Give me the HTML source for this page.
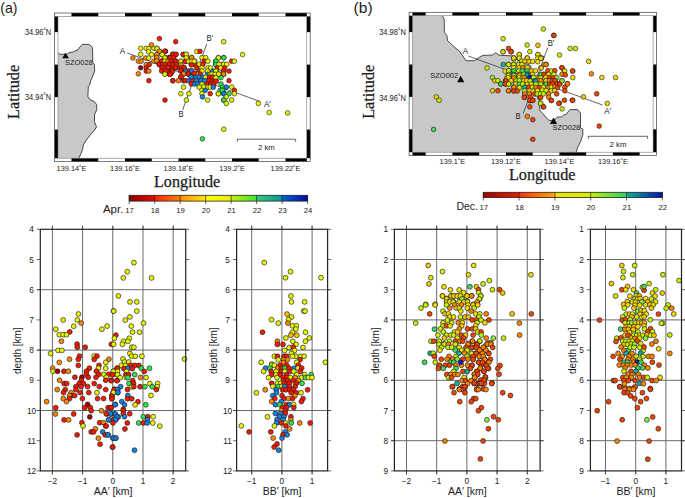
<!DOCTYPE html>
<html><head><meta charset="utf-8"><style>
html,body{margin:0;padding:0;background:#fff;}
body{width:685px;height:498px;overflow:hidden;}
svg{display:block;}
</style></head><body>
<svg width="685" height="498" viewBox="0 0 685 498">
<rect x="58.00" y="16.40" width="248.80" height="141.80" fill="#fff" stroke="none" stroke-width="0"/><polygon points="57.9,52.6 59.4,54.0 61.2,54.5 63.0,54.3 67.3,54.0 69.0,52.8 73.3,51.9 78.1,49.5 79.9,47.0 82.3,44.4 88.9,44.4 92.3,47.0 92.6,50.7 92.8,62.7 94.4,64.5 94.7,71.1 92.8,76.0 90.7,80.8 89.5,85.6 88.3,86.8 87.9,96.8 90.1,99.8 93.9,101.3 96.5,104.3 96.9,109.6 94.7,114.1 94.4,121.6 96.5,126.9 94.7,129.9 90.1,135.2 85.6,141.2 83.4,145.0 82.6,149.5 81.1,153.3 78.8,158.2 57.9,158.2" fill="#c8c8c8" stroke="none"/><polyline points="57.9,52.6 59.4,54.0 61.2,54.5 63.0,54.3 67.3,54.0 69.0,52.8 73.3,51.9 78.1,49.5 79.9,47.0 82.3,44.4 88.9,44.4 92.3,47.0 92.6,50.7 92.8,62.7 94.4,64.5 94.7,71.1 92.8,76.0 90.7,80.8 89.5,85.6 88.3,86.8 87.9,96.8 90.1,99.8 93.9,101.3 96.5,104.3 96.9,109.6 94.7,114.1 94.4,121.6 96.5,126.9 94.7,129.9 90.1,135.2 85.6,141.2 83.4,145.0 82.6,149.5 81.1,153.3 78.8,158.2" fill="none" stroke="#222" stroke-width="0.8"/><rect x="412.50" y="15.70" width="240.60" height="136.50" fill="#fff" stroke="none" stroke-width="0"/><polygon points="442.4,15.7 444.2,19.2 444.4,32.5 446.9,35.5 447.5,40.7 451.0,43.7 455.1,47.8 459.2,50.9 462.2,55.0 465.8,60.7 474.4,60.7 478.5,57.7 483.0,55.4 492.9,55.0 495.7,52.7 498.8,55.0 502.0,55.4 512.8,55.9 516.0,59.0 522.0,62.5 524.6,63.7 527.5,64.3 530.4,65.4 531.6,69.5 533.5,76.0 536.0,86.0 538.8,97.0 539.5,103.0 540.0,110.5 548.6,120.2 552.0,120.5 556.1,118.6 557.1,117.2 561.7,116.9 563.7,114.9 566.3,114.3 569.0,110.7 570.0,109.6 577.6,109.6 580.5,113.0 580.5,127.8 582.8,129.1 582.8,135.0 580.5,141.7 577.6,147.6 576.1,152.3 412.5,152.3 412.5,15.7" fill="#c8c8c8" stroke="none"/><polyline points="442.4,15.7 444.2,19.2 444.4,32.5 446.9,35.5 447.5,40.7 451.0,43.7 455.1,47.8 459.2,50.9 462.2,55.0 465.8,60.7 474.4,60.7 478.5,57.7 483.0,55.4 492.9,55.0 495.7,52.7 498.8,55.0 502.0,55.4 512.8,55.9 516.0,59.0 522.0,62.5 524.6,63.7 527.5,64.3 530.4,65.4 531.6,69.5 533.5,76.0 536.0,86.0 538.8,97.0 539.5,103.0 540.0,110.5 548.6,120.2 552.0,120.5 556.1,118.6 557.1,117.2 561.7,116.9 563.7,114.9 566.3,114.3 569.0,110.7 570.0,109.6 577.6,109.6 580.5,113.0 580.5,127.8 582.8,129.1 582.8,135.0 580.5,141.7 577.6,147.6 576.1,152.3" fill="none" stroke="#222" stroke-width="0.8"/><line x1="127.20" y1="53.00" x2="260.20" y2="101.60" stroke="#222" stroke-width="0.7"/><line x1="206.70" y1="44.00" x2="182.60" y2="110.00" stroke="#222" stroke-width="0.7"/><circle cx="159.4" cy="38.6" r="2.35" fill="#f81a00" stroke="#1a1a1a" stroke-width="0.6"/><circle cx="151.4" cy="44.9" r="2.35" fill="#ff8800" stroke="#1a1a1a" stroke-width="0.6"/><circle cx="140.7" cy="48.3" r="2.35" fill="#e6f400" stroke="#1a1a1a" stroke-width="0.6"/><circle cx="146.2" cy="48.3" r="2.35" fill="#e6f400" stroke="#1a1a1a" stroke-width="0.6"/><circle cx="148.9" cy="48.5" r="2.35" fill="#e6f400" stroke="#1a1a1a" stroke-width="0.6"/><circle cx="154.0" cy="48.3" r="2.35" fill="#e6f400" stroke="#1a1a1a" stroke-width="0.6"/><circle cx="157.0" cy="48.3" r="2.35" fill="#e6f400" stroke="#1a1a1a" stroke-width="0.6"/><circle cx="148.6" cy="51.7" r="2.35" fill="#e6f400" stroke="#1a1a1a" stroke-width="0.6"/><circle cx="159.5" cy="51.5" r="2.35" fill="#ff8800" stroke="#1a1a1a" stroke-width="0.6"/><circle cx="165.0" cy="51.4" r="2.35" fill="#f81a00" stroke="#1a1a1a" stroke-width="0.6"/><circle cx="140.7" cy="54.4" r="2.35" fill="#e6f400" stroke="#1a1a1a" stroke-width="0.6"/><circle cx="151.6" cy="54.6" r="2.35" fill="#e6f400" stroke="#1a1a1a" stroke-width="0.6"/><circle cx="156.8" cy="54.6" r="2.35" fill="#ff8800" stroke="#1a1a1a" stroke-width="0.6"/><circle cx="162.0" cy="54.6" r="2.35" fill="#e6f400" stroke="#1a1a1a" stroke-width="0.6"/><circle cx="172.8" cy="54.4" r="2.35" fill="#f81a00" stroke="#1a1a1a" stroke-width="0.6"/><circle cx="132.9" cy="58.0" r="2.35" fill="#ff8800" stroke="#1a1a1a" stroke-width="0.6"/><circle cx="145.7" cy="58.0" r="2.35" fill="#ff8800" stroke="#1a1a1a" stroke-width="0.6"/><circle cx="148.7" cy="58.0" r="2.35" fill="#e6f400" stroke="#1a1a1a" stroke-width="0.6"/><circle cx="156.8" cy="57.6" r="2.35" fill="#ff8800" stroke="#1a1a1a" stroke-width="0.6"/><circle cx="165.0" cy="58.0" r="2.35" fill="#e6f400" stroke="#1a1a1a" stroke-width="0.6"/><circle cx="169.2" cy="57.6" r="2.35" fill="#f81a00" stroke="#1a1a1a" stroke-width="0.6"/><circle cx="172.8" cy="57.6" r="2.35" fill="#f81a00" stroke="#1a1a1a" stroke-width="0.6"/><circle cx="138.3" cy="61.2" r="2.35" fill="#ff8800" stroke="#1a1a1a" stroke-width="0.6"/><circle cx="141.2" cy="61.2" r="2.35" fill="#ff8800" stroke="#1a1a1a" stroke-width="0.6"/><circle cx="153.8" cy="61.2" r="2.35" fill="#ff8800" stroke="#1a1a1a" stroke-width="0.6"/><circle cx="157.0" cy="61.2" r="2.35" fill="#ff8800" stroke="#1a1a1a" stroke-width="0.6"/><circle cx="162.0" cy="61.2" r="2.35" fill="#f81a00" stroke="#1a1a1a" stroke-width="0.6"/><circle cx="165.0" cy="61.2" r="2.35" fill="#e6f400" stroke="#1a1a1a" stroke-width="0.6"/><circle cx="167.8" cy="61.2" r="2.35" fill="#ff8800" stroke="#1a1a1a" stroke-width="0.6"/><circle cx="171.0" cy="61.2" r="2.35" fill="#f81a00" stroke="#1a1a1a" stroke-width="0.6"/><circle cx="146.2" cy="64.6" r="2.35" fill="#ff8800" stroke="#1a1a1a" stroke-width="0.6"/><circle cx="149.3" cy="64.6" r="2.35" fill="#f81a00" stroke="#1a1a1a" stroke-width="0.6"/><circle cx="159.3" cy="64.6" r="2.35" fill="#f81a00" stroke="#1a1a1a" stroke-width="0.6"/><circle cx="162.9" cy="64.6" r="2.35" fill="#f81a00" stroke="#1a1a1a" stroke-width="0.6"/><circle cx="167.4" cy="64.6" r="2.35" fill="#f81a00" stroke="#1a1a1a" stroke-width="0.6"/><circle cx="171.0" cy="64.6" r="2.35" fill="#f81a00" stroke="#1a1a1a" stroke-width="0.6"/><circle cx="140.7" cy="67.8" r="2.35" fill="#a00000" stroke="#1a1a1a" stroke-width="0.6"/><circle cx="146.2" cy="67.8" r="2.35" fill="#f81a00" stroke="#1a1a1a" stroke-width="0.6"/><circle cx="162.0" cy="67.8" r="2.35" fill="#f81a00" stroke="#1a1a1a" stroke-width="0.6"/><circle cx="165.6" cy="67.8" r="2.35" fill="#f81a00" stroke="#1a1a1a" stroke-width="0.6"/><circle cx="171.0" cy="67.8" r="2.35" fill="#f81a00" stroke="#1a1a1a" stroke-width="0.6"/><circle cx="146.2" cy="71.1" r="2.35" fill="#f81a00" stroke="#1a1a1a" stroke-width="0.6"/><circle cx="148.9" cy="71.1" r="2.35" fill="#ff8800" stroke="#1a1a1a" stroke-width="0.6"/><circle cx="162.9" cy="71.1" r="2.35" fill="#f81a00" stroke="#1a1a1a" stroke-width="0.6"/><circle cx="169.2" cy="71.1" r="2.35" fill="#f81a00" stroke="#1a1a1a" stroke-width="0.6"/><circle cx="138.3" cy="73.8" r="2.35" fill="#ff8800" stroke="#1a1a1a" stroke-width="0.6"/><circle cx="165.1" cy="73.8" r="2.35" fill="#e6f400" stroke="#1a1a1a" stroke-width="0.6"/><circle cx="171.0" cy="73.8" r="2.35" fill="#f81a00" stroke="#1a1a1a" stroke-width="0.6"/><circle cx="175.7" cy="41.7" r="2.35" fill="#f81a00" stroke="#1a1a1a" stroke-width="0.6"/><circle cx="165.5" cy="51.2" r="2.35" fill="#f81a00" stroke="#1a1a1a" stroke-width="0.6"/><circle cx="196.8" cy="51.4" r="2.35" fill="#e6f400" stroke="#1a1a1a" stroke-width="0.6"/><circle cx="200.0" cy="51.4" r="2.35" fill="#f81a00" stroke="#1a1a1a" stroke-width="0.6"/><circle cx="223.7" cy="41.7" r="2.35" fill="#e6f400" stroke="#1a1a1a" stroke-width="0.6"/><circle cx="173.0" cy="54.4" r="2.35" fill="#f81a00" stroke="#1a1a1a" stroke-width="0.6"/><circle cx="175.8" cy="54.4" r="2.35" fill="#f81a00" stroke="#1a1a1a" stroke-width="0.6"/><circle cx="183.5" cy="54.4" r="2.35" fill="#f81a00" stroke="#1a1a1a" stroke-width="0.6"/><circle cx="186.4" cy="54.4" r="2.35" fill="#e6f400" stroke="#1a1a1a" stroke-width="0.6"/><circle cx="165.5" cy="57.6" r="2.35" fill="#e6f400" stroke="#1a1a1a" stroke-width="0.6"/><circle cx="169.5" cy="57.6" r="2.35" fill="#f81a00" stroke="#1a1a1a" stroke-width="0.6"/><circle cx="173.6" cy="57.6" r="2.35" fill="#f81a00" stroke="#1a1a1a" stroke-width="0.6"/><circle cx="186.4" cy="57.6" r="2.35" fill="#e6f400" stroke="#1a1a1a" stroke-width="0.6"/><circle cx="191.6" cy="57.6" r="2.35" fill="#ff8800" stroke="#1a1a1a" stroke-width="0.6"/><circle cx="202.0" cy="57.6" r="2.35" fill="#e6f400" stroke="#1a1a1a" stroke-width="0.6"/><circle cx="205.6" cy="57.6" r="2.35" fill="#e6f400" stroke="#1a1a1a" stroke-width="0.6"/><circle cx="218.3" cy="57.6" r="2.35" fill="#e6f400" stroke="#1a1a1a" stroke-width="0.6"/><circle cx="223.7" cy="57.6" r="2.35" fill="#2ee64c" stroke="#1a1a1a" stroke-width="0.6"/><circle cx="167.7" cy="61.2" r="2.35" fill="#ff8800" stroke="#1a1a1a" stroke-width="0.6"/><circle cx="171.3" cy="61.2" r="2.35" fill="#f81a00" stroke="#1a1a1a" stroke-width="0.6"/><circle cx="175.7" cy="61.2" r="2.35" fill="#f81a00" stroke="#1a1a1a" stroke-width="0.6"/><circle cx="180.8" cy="61.2" r="2.35" fill="#e6f400" stroke="#1a1a1a" stroke-width="0.6"/><circle cx="185.8" cy="61.2" r="2.35" fill="#f81a00" stroke="#1a1a1a" stroke-width="0.6"/><circle cx="188.9" cy="61.2" r="2.35" fill="#e6f400" stroke="#1a1a1a" stroke-width="0.6"/><circle cx="192.1" cy="61.2" r="2.35" fill="#e6f400" stroke="#1a1a1a" stroke-width="0.6"/><circle cx="194.8" cy="61.2" r="2.35" fill="#e6f400" stroke="#1a1a1a" stroke-width="0.6"/><circle cx="204.3" cy="61.2" r="2.35" fill="#f81a00" stroke="#1a1a1a" stroke-width="0.6"/><circle cx="207.9" cy="61.2" r="2.35" fill="#e6f400" stroke="#1a1a1a" stroke-width="0.6"/><circle cx="215.6" cy="61.2" r="2.35" fill="#2ee64c" stroke="#1a1a1a" stroke-width="0.6"/><circle cx="166.8" cy="64.3" r="2.35" fill="#f81a00" stroke="#1a1a1a" stroke-width="0.6"/><circle cx="170.4" cy="64.3" r="2.35" fill="#f81a00" stroke="#1a1a1a" stroke-width="0.6"/><circle cx="174.0" cy="64.3" r="2.35" fill="#f81a00" stroke="#1a1a1a" stroke-width="0.6"/><circle cx="180.8" cy="64.6" r="2.35" fill="#ff8800" stroke="#1a1a1a" stroke-width="0.6"/><circle cx="191.2" cy="64.6" r="2.35" fill="#f81a00" stroke="#1a1a1a" stroke-width="0.6"/><circle cx="194.8" cy="64.3" r="2.35" fill="#f81a00" stroke="#1a1a1a" stroke-width="0.6"/><circle cx="199.3" cy="64.3" r="2.35" fill="#e6f400" stroke="#1a1a1a" stroke-width="0.6"/><circle cx="202.9" cy="64.3" r="2.35" fill="#f81a00" stroke="#1a1a1a" stroke-width="0.6"/><circle cx="215.6" cy="64.3" r="2.35" fill="#2ee64c" stroke="#1a1a1a" stroke-width="0.6"/><circle cx="219.2" cy="64.3" r="2.35" fill="#e6f400" stroke="#1a1a1a" stroke-width="0.6"/><circle cx="222.8" cy="64.3" r="2.35" fill="#e6f400" stroke="#1a1a1a" stroke-width="0.6"/><circle cx="166.8" cy="67.9" r="2.35" fill="#f81a00" stroke="#1a1a1a" stroke-width="0.6"/><circle cx="172.2" cy="67.9" r="2.35" fill="#f81a00" stroke="#1a1a1a" stroke-width="0.6"/><circle cx="175.7" cy="67.9" r="2.35" fill="#f81a00" stroke="#1a1a1a" stroke-width="0.6"/><circle cx="180.8" cy="67.9" r="2.35" fill="#f81a00" stroke="#1a1a1a" stroke-width="0.6"/><circle cx="184.0" cy="67.9" r="2.35" fill="#f81a00" stroke="#1a1a1a" stroke-width="0.6"/><circle cx="196.6" cy="67.9" r="2.35" fill="#f81a00" stroke="#1a1a1a" stroke-width="0.6"/><circle cx="202.0" cy="67.9" r="2.35" fill="#e6f400" stroke="#1a1a1a" stroke-width="0.6"/><circle cx="207.9" cy="67.9" r="2.35" fill="#e6f400" stroke="#1a1a1a" stroke-width="0.6"/><circle cx="210.6" cy="67.9" r="2.35" fill="#e6f400" stroke="#1a1a1a" stroke-width="0.6"/><circle cx="217.4" cy="67.9" r="2.35" fill="#f81a00" stroke="#1a1a1a" stroke-width="0.6"/><circle cx="221.0" cy="67.9" r="2.35" fill="#e6f400" stroke="#1a1a1a" stroke-width="0.6"/><circle cx="172.2" cy="71.1" r="2.35" fill="#f81a00" stroke="#1a1a1a" stroke-width="0.6"/><circle cx="180.8" cy="71.1" r="2.35" fill="#f81a00" stroke="#1a1a1a" stroke-width="0.6"/><circle cx="186.2" cy="71.1" r="2.35" fill="#1482e0" stroke="#1a1a1a" stroke-width="0.6"/><circle cx="191.6" cy="71.1" r="2.35" fill="#1482e0" stroke="#1a1a1a" stroke-width="0.6"/><circle cx="199.3" cy="71.1" r="2.35" fill="#f81a00" stroke="#1a1a1a" stroke-width="0.6"/><circle cx="202.0" cy="71.1" r="2.35" fill="#e6f400" stroke="#1a1a1a" stroke-width="0.6"/><circle cx="207.5" cy="71.1" r="2.35" fill="#e6f400" stroke="#1a1a1a" stroke-width="0.6"/><circle cx="212.9" cy="71.1" r="2.35" fill="#1482e0" stroke="#1a1a1a" stroke-width="0.6"/><circle cx="216.0" cy="71.1" r="2.35" fill="#e6f400" stroke="#1a1a1a" stroke-width="0.6"/><circle cx="223.7" cy="71.1" r="2.35" fill="#f81a00" stroke="#1a1a1a" stroke-width="0.6"/><circle cx="169.5" cy="74.3" r="2.35" fill="#f81a00" stroke="#1a1a1a" stroke-width="0.6"/><circle cx="183.5" cy="74.3" r="2.35" fill="#ff8800" stroke="#1a1a1a" stroke-width="0.6"/><circle cx="188.5" cy="74.3" r="2.35" fill="#f81a00" stroke="#1a1a1a" stroke-width="0.6"/><circle cx="193.9" cy="74.3" r="2.35" fill="#f81a00" stroke="#1a1a1a" stroke-width="0.6"/><circle cx="197.5" cy="74.3" r="2.35" fill="#e6f400" stroke="#1a1a1a" stroke-width="0.6"/><circle cx="207.5" cy="74.3" r="2.35" fill="#1482e0" stroke="#1a1a1a" stroke-width="0.6"/><circle cx="210.2" cy="74.3" r="2.35" fill="#e6f400" stroke="#1a1a1a" stroke-width="0.6"/><circle cx="223.7" cy="74.3" r="2.35" fill="#ff8800" stroke="#1a1a1a" stroke-width="0.6"/><circle cx="242.6" cy="54.6" r="2.35" fill="#e6f400" stroke="#1a1a1a" stroke-width="0.6"/><circle cx="218.4" cy="57.8" r="2.35" fill="#e6f400" stroke="#1a1a1a" stroke-width="0.6"/><circle cx="223.8" cy="57.8" r="2.35" fill="#2ee64c" stroke="#1a1a1a" stroke-width="0.6"/><circle cx="215.9" cy="61.2" r="2.35" fill="#2ee64c" stroke="#1a1a1a" stroke-width="0.6"/><circle cx="231.7" cy="61.2" r="2.35" fill="#f81a00" stroke="#1a1a1a" stroke-width="0.6"/><circle cx="234.4" cy="61.2" r="2.35" fill="#e6f400" stroke="#1a1a1a" stroke-width="0.6"/><circle cx="215.9" cy="64.3" r="2.35" fill="#2ee64c" stroke="#1a1a1a" stroke-width="0.6"/><circle cx="219.1" cy="64.3" r="2.35" fill="#e6f400" stroke="#1a1a1a" stroke-width="0.6"/><circle cx="223.6" cy="64.3" r="2.35" fill="#e6f400" stroke="#1a1a1a" stroke-width="0.6"/><circle cx="226.7" cy="64.3" r="2.35" fill="#e6f400" stroke="#1a1a1a" stroke-width="0.6"/><circle cx="217.7" cy="67.9" r="2.35" fill="#f81a00" stroke="#1a1a1a" stroke-width="0.6"/><circle cx="220.9" cy="67.9" r="2.35" fill="#e6f400" stroke="#1a1a1a" stroke-width="0.6"/><circle cx="224.5" cy="67.9" r="2.35" fill="#f81a00" stroke="#1a1a1a" stroke-width="0.6"/><circle cx="229.0" cy="71.1" r="2.35" fill="#f81a00" stroke="#1a1a1a" stroke-width="0.6"/><circle cx="223.6" cy="71.1" r="2.35" fill="#f81a00" stroke="#1a1a1a" stroke-width="0.6"/><circle cx="215.9" cy="71.1" r="2.35" fill="#e6f400" stroke="#1a1a1a" stroke-width="0.6"/><circle cx="218.6" cy="73.8" r="2.35" fill="#e6f400" stroke="#1a1a1a" stroke-width="0.6"/><circle cx="223.6" cy="74.1" r="2.35" fill="#ff8800" stroke="#1a1a1a" stroke-width="0.6"/><circle cx="148.9" cy="80.7" r="2.35" fill="#f81a00" stroke="#1a1a1a" stroke-width="0.6"/><circle cx="172.8" cy="80.7" r="2.35" fill="#f81a00" stroke="#1a1a1a" stroke-width="0.6"/><circle cx="165.0" cy="100.1" r="2.35" fill="#f81a00" stroke="#1a1a1a" stroke-width="0.6"/><circle cx="212.0" cy="74.1" r="2.35" fill="#e6f400" stroke="#1a1a1a" stroke-width="0.6"/><circle cx="215.1" cy="74.4" r="2.35" fill="#e6f400" stroke="#1a1a1a" stroke-width="0.6"/><circle cx="218.7" cy="74.1" r="2.35" fill="#e6f400" stroke="#1a1a1a" stroke-width="0.6"/><circle cx="200.2" cy="74.1" r="2.35" fill="#f81a00" stroke="#1a1a1a" stroke-width="0.6"/><circle cx="180.8" cy="77.2" r="2.35" fill="#f81a00" stroke="#1a1a1a" stroke-width="0.6"/><circle cx="192.1" cy="77.2" r="2.35" fill="#1482e0" stroke="#1a1a1a" stroke-width="0.6"/><circle cx="195.7" cy="77.2" r="2.35" fill="#1482e0" stroke="#1a1a1a" stroke-width="0.6"/><circle cx="199.3" cy="77.2" r="2.35" fill="#1482e0" stroke="#1a1a1a" stroke-width="0.6"/><circle cx="202.9" cy="77.2" r="2.35" fill="#1482e0" stroke="#1a1a1a" stroke-width="0.6"/><circle cx="205.6" cy="77.2" r="2.35" fill="#e6f400" stroke="#1a1a1a" stroke-width="0.6"/><circle cx="209.3" cy="77.2" r="2.35" fill="#f81a00" stroke="#1a1a1a" stroke-width="0.6"/><circle cx="212.4" cy="77.2" r="2.35" fill="#f81a00" stroke="#1a1a1a" stroke-width="0.6"/><circle cx="215.6" cy="77.6" r="2.35" fill="#e6f400" stroke="#1a1a1a" stroke-width="0.6"/><circle cx="221.0" cy="77.6" r="2.35" fill="#2ee64c" stroke="#1a1a1a" stroke-width="0.6"/><circle cx="172.9" cy="80.7" r="2.35" fill="#f81a00" stroke="#1a1a1a" stroke-width="0.6"/><circle cx="178.4" cy="80.7" r="2.35" fill="#ff8800" stroke="#1a1a1a" stroke-width="0.6"/><circle cx="183.5" cy="80.7" r="2.35" fill="#f81a00" stroke="#1a1a1a" stroke-width="0.6"/><circle cx="185.3" cy="80.7" r="2.35" fill="#f81a00" stroke="#1a1a1a" stroke-width="0.6"/><circle cx="188.9" cy="80.7" r="2.35" fill="#1482e0" stroke="#1a1a1a" stroke-width="0.6"/><circle cx="192.1" cy="80.7" r="2.35" fill="#f81a00" stroke="#1a1a1a" stroke-width="0.6"/><circle cx="196.6" cy="80.7" r="2.35" fill="#1482e0" stroke="#1a1a1a" stroke-width="0.6"/><circle cx="201.1" cy="80.7" r="2.35" fill="#1482e0" stroke="#1a1a1a" stroke-width="0.6"/><circle cx="204.7" cy="80.7" r="2.35" fill="#1482e0" stroke="#1a1a1a" stroke-width="0.6"/><circle cx="209.3" cy="80.7" r="2.35" fill="#f81a00" stroke="#1a1a1a" stroke-width="0.6"/><circle cx="212.9" cy="80.7" r="2.35" fill="#f81a00" stroke="#1a1a1a" stroke-width="0.6"/><circle cx="216.0" cy="80.7" r="2.35" fill="#f81a00" stroke="#1a1a1a" stroke-width="0.6"/><circle cx="191.2" cy="84.0" r="2.35" fill="#f81a00" stroke="#1a1a1a" stroke-width="0.6"/><circle cx="194.4" cy="84.0" r="2.35" fill="#1482e0" stroke="#1a1a1a" stroke-width="0.6"/><circle cx="197.5" cy="84.0" r="2.35" fill="#1482e0" stroke="#1a1a1a" stroke-width="0.6"/><circle cx="202.0" cy="84.0" r="2.35" fill="#e6f400" stroke="#1a1a1a" stroke-width="0.6"/><circle cx="207.0" cy="84.0" r="2.35" fill="#f81a00" stroke="#1a1a1a" stroke-width="0.6"/><circle cx="210.6" cy="84.0" r="2.35" fill="#f81a00" stroke="#1a1a1a" stroke-width="0.6"/><circle cx="213.8" cy="84.0" r="2.35" fill="#f81a00" stroke="#1a1a1a" stroke-width="0.6"/><circle cx="221.0" cy="84.0" r="2.35" fill="#2ee64c" stroke="#1a1a1a" stroke-width="0.6"/><circle cx="183.5" cy="87.2" r="2.35" fill="#e6f400" stroke="#1a1a1a" stroke-width="0.6"/><circle cx="199.3" cy="87.2" r="2.35" fill="#e6f400" stroke="#1a1a1a" stroke-width="0.6"/><circle cx="203.8" cy="86.8" r="2.35" fill="#e6f400" stroke="#1a1a1a" stroke-width="0.6"/><circle cx="207.9" cy="87.2" r="2.35" fill="#e6f400" stroke="#1a1a1a" stroke-width="0.6"/><circle cx="210.2" cy="87.2" r="2.35" fill="#e6f400" stroke="#1a1a1a" stroke-width="0.6"/><circle cx="213.3" cy="87.2" r="2.35" fill="#1482e0" stroke="#1a1a1a" stroke-width="0.6"/><circle cx="222.8" cy="87.2" r="2.35" fill="#2ee64c" stroke="#1a1a1a" stroke-width="0.6"/><circle cx="202.0" cy="90.3" r="2.35" fill="#e6f400" stroke="#1a1a1a" stroke-width="0.6"/><circle cx="205.2" cy="90.3" r="2.35" fill="#1482e0" stroke="#1a1a1a" stroke-width="0.6"/><circle cx="220.1" cy="90.3" r="2.35" fill="#2ee64c" stroke="#1a1a1a" stroke-width="0.6"/><circle cx="223.7" cy="90.3" r="2.35" fill="#2ee64c" stroke="#1a1a1a" stroke-width="0.6"/><circle cx="180.8" cy="93.7" r="2.35" fill="#e6f400" stroke="#1a1a1a" stroke-width="0.6"/><circle cx="188.9" cy="93.7" r="2.35" fill="#e6f400" stroke="#1a1a1a" stroke-width="0.6"/><circle cx="202.0" cy="93.7" r="2.35" fill="#e6f400" stroke="#1a1a1a" stroke-width="0.6"/><circle cx="210.2" cy="93.7" r="2.35" fill="#f81a00" stroke="#1a1a1a" stroke-width="0.6"/><circle cx="218.3" cy="93.7" r="2.35" fill="#e6f400" stroke="#1a1a1a" stroke-width="0.6"/><circle cx="223.7" cy="93.7" r="2.35" fill="#1482e0" stroke="#1a1a1a" stroke-width="0.6"/><circle cx="202.5" cy="96.9" r="2.35" fill="#1482e0" stroke="#1a1a1a" stroke-width="0.6"/><circle cx="186.4" cy="100.1" r="2.35" fill="#e6f400" stroke="#1a1a1a" stroke-width="0.6"/><circle cx="207.6" cy="100.1" r="2.35" fill="#e6f400" stroke="#1a1a1a" stroke-width="0.6"/><circle cx="223.7" cy="100.1" r="2.35" fill="#2ee64c" stroke="#1a1a1a" stroke-width="0.6"/><circle cx="215.9" cy="77.7" r="2.35" fill="#e6f400" stroke="#1a1a1a" stroke-width="0.6"/><circle cx="229.0" cy="80.7" r="2.35" fill="#f81a00" stroke="#1a1a1a" stroke-width="0.6"/><circle cx="216.1" cy="81.3" r="2.35" fill="#f81a00" stroke="#1a1a1a" stroke-width="0.6"/><circle cx="226.3" cy="87.0" r="2.35" fill="#1482e0" stroke="#1a1a1a" stroke-width="0.6"/><circle cx="231.7" cy="87.0" r="2.35" fill="#e6f400" stroke="#1a1a1a" stroke-width="0.6"/><circle cx="222.2" cy="90.3" r="2.35" fill="#2ee64c" stroke="#1a1a1a" stroke-width="0.6"/><circle cx="234.4" cy="90.3" r="2.35" fill="#f81a00" stroke="#1a1a1a" stroke-width="0.6"/><circle cx="218.4" cy="93.7" r="2.35" fill="#e6f400" stroke="#1a1a1a" stroke-width="0.6"/><circle cx="223.9" cy="93.7" r="2.35" fill="#1482e0" stroke="#1a1a1a" stroke-width="0.6"/><circle cx="229.0" cy="93.7" r="2.35" fill="#2ee64c" stroke="#1a1a1a" stroke-width="0.6"/><circle cx="234.4" cy="93.7" r="2.35" fill="#e6f400" stroke="#1a1a1a" stroke-width="0.6"/><circle cx="226.3" cy="96.9" r="2.35" fill="#e6f400" stroke="#1a1a1a" stroke-width="0.6"/><circle cx="223.9" cy="100.0" r="2.35" fill="#2ee64c" stroke="#1a1a1a" stroke-width="0.6"/><circle cx="231.7" cy="100.0" r="2.35" fill="#e6f400" stroke="#1a1a1a" stroke-width="0.6"/><circle cx="226.3" cy="103.4" r="2.35" fill="#e6f400" stroke="#1a1a1a" stroke-width="0.6"/><circle cx="258.4" cy="103.4" r="2.35" fill="#e6f400" stroke="#1a1a1a" stroke-width="0.6"/><circle cx="269.2" cy="112.5" r="2.35" fill="#e6f400" stroke="#1a1a1a" stroke-width="0.6"/><circle cx="287.7" cy="112.9" r="2.35" fill="#e6f400" stroke="#1a1a1a" stroke-width="0.6"/><circle cx="223.8" cy="129.2" r="2.35" fill="#e6f400" stroke="#1a1a1a" stroke-width="0.6"/><circle cx="202.4" cy="138.8" r="2.35" fill="#2ee64c" stroke="#1a1a1a" stroke-width="0.6"/><circle cx="157.1" cy="48.6" r="2.35" fill="#e6f400" stroke="#1a1a1a" stroke-width="0.6"/><circle cx="159.5" cy="51.3" r="2.35" fill="#ff8800" stroke="#1a1a1a" stroke-width="0.6"/><circle cx="164.9" cy="51.3" r="2.35" fill="#f81a00" stroke="#1a1a1a" stroke-width="0.6"/><circle cx="162.2" cy="54.6" r="2.35" fill="#e6f400" stroke="#1a1a1a" stroke-width="0.6"/><circle cx="156.8" cy="54.6" r="2.35" fill="#ff8800" stroke="#1a1a1a" stroke-width="0.6"/><circle cx="172.8" cy="54.3" r="2.35" fill="#f81a00" stroke="#1a1a1a" stroke-width="0.6"/><circle cx="176.1" cy="54.3" r="2.35" fill="#f81a00" stroke="#1a1a1a" stroke-width="0.6"/><circle cx="183.0" cy="54.6" r="2.35" fill="#f81a00" stroke="#1a1a1a" stroke-width="0.6"/><circle cx="186.3" cy="54.3" r="2.35" fill="#e6f400" stroke="#1a1a1a" stroke-width="0.6"/><circle cx="164.9" cy="57.9" r="2.35" fill="#e6f400" stroke="#1a1a1a" stroke-width="0.6"/><circle cx="170.1" cy="57.6" r="2.35" fill="#f81a00" stroke="#1a1a1a" stroke-width="0.6"/><circle cx="173.4" cy="57.6" r="2.35" fill="#f81a00" stroke="#1a1a1a" stroke-width="0.6"/><circle cx="156.8" cy="57.6" r="2.35" fill="#ff8800" stroke="#1a1a1a" stroke-width="0.6"/><circle cx="156.8" cy="60.7" r="2.35" fill="#ff8800" stroke="#1a1a1a" stroke-width="0.6"/><circle cx="186.3" cy="57.9" r="2.35" fill="#e6f400" stroke="#1a1a1a" stroke-width="0.6"/><circle cx="191.7" cy="57.6" r="2.35" fill="#ff8800" stroke="#1a1a1a" stroke-width="0.6"/><circle cx="161.6" cy="61.0" r="2.35" fill="#f81a00" stroke="#1a1a1a" stroke-width="0.6"/><circle cx="164.9" cy="61.3" r="2.35" fill="#e6f400" stroke="#1a1a1a" stroke-width="0.6"/><circle cx="168.0" cy="61.3" r="2.35" fill="#ff8800" stroke="#1a1a1a" stroke-width="0.6"/><circle cx="171.0" cy="61.0" r="2.35" fill="#f81a00" stroke="#1a1a1a" stroke-width="0.6"/><circle cx="175.5" cy="61.0" r="2.35" fill="#f81a00" stroke="#1a1a1a" stroke-width="0.6"/><circle cx="180.9" cy="61.3" r="2.35" fill="#e6f400" stroke="#1a1a1a" stroke-width="0.6"/><circle cx="185.4" cy="61.6" r="2.35" fill="#f81a00" stroke="#1a1a1a" stroke-width="0.6"/><circle cx="188.7" cy="61.3" r="2.35" fill="#e6f400" stroke="#1a1a1a" stroke-width="0.6"/><circle cx="191.7" cy="61.3" r="2.35" fill="#e6f400" stroke="#1a1a1a" stroke-width="0.6"/><circle cx="194.2" cy="61.3" r="2.35" fill="#e6f400" stroke="#1a1a1a" stroke-width="0.6"/><circle cx="159.2" cy="64.3" r="2.35" fill="#f81a00" stroke="#1a1a1a" stroke-width="0.6"/><circle cx="162.8" cy="64.3" r="2.35" fill="#f81a00" stroke="#1a1a1a" stroke-width="0.6"/><circle cx="165.8" cy="64.3" r="2.35" fill="#f81a00" stroke="#1a1a1a" stroke-width="0.6"/><circle cx="169.5" cy="64.6" r="2.35" fill="#f81a00" stroke="#1a1a1a" stroke-width="0.6"/><circle cx="173.1" cy="64.6" r="2.35" fill="#f81a00" stroke="#1a1a1a" stroke-width="0.6"/><circle cx="176.4" cy="64.6" r="2.35" fill="#f81a00" stroke="#1a1a1a" stroke-width="0.6"/><circle cx="180.9" cy="64.9" r="2.35" fill="#ff8800" stroke="#1a1a1a" stroke-width="0.6"/><circle cx="191.7" cy="64.9" r="2.35" fill="#f81a00" stroke="#1a1a1a" stroke-width="0.6"/><circle cx="162.2" cy="67.9" r="2.35" fill="#f81a00" stroke="#1a1a1a" stroke-width="0.6"/><circle cx="165.2" cy="67.9" r="2.35" fill="#f81a00" stroke="#1a1a1a" stroke-width="0.6"/><circle cx="168.0" cy="67.3" r="2.35" fill="#f81a00" stroke="#1a1a1a" stroke-width="0.6"/><circle cx="175.5" cy="67.6" r="2.35" fill="#f81a00" stroke="#1a1a1a" stroke-width="0.6"/><circle cx="180.9" cy="67.9" r="2.35" fill="#f81a00" stroke="#1a1a1a" stroke-width="0.6"/><circle cx="184.2" cy="67.6" r="2.35" fill="#f81a00" stroke="#1a1a1a" stroke-width="0.6"/><circle cx="161.6" cy="70.9" r="2.35" fill="#f81a00" stroke="#1a1a1a" stroke-width="0.6"/><circle cx="165.8" cy="70.9" r="2.35" fill="#f81a00" stroke="#1a1a1a" stroke-width="0.6"/><circle cx="172.5" cy="71.2" r="2.35" fill="#f81a00" stroke="#1a1a1a" stroke-width="0.6"/><circle cx="180.9" cy="70.6" r="2.35" fill="#f81a00" stroke="#1a1a1a" stroke-width="0.6"/><circle cx="186.0" cy="70.9" r="2.35" fill="#1482e0" stroke="#1a1a1a" stroke-width="0.6"/><circle cx="189.3" cy="70.9" r="2.35" fill="#f81a00" stroke="#1a1a1a" stroke-width="0.6"/><circle cx="191.7" cy="70.9" r="2.35" fill="#1482e0" stroke="#1a1a1a" stroke-width="0.6"/><circle cx="194.2" cy="73.3" r="2.35" fill="#f81a00" stroke="#1a1a1a" stroke-width="0.6"/><circle cx="164.9" cy="74.2" r="2.35" fill="#e6f400" stroke="#1a1a1a" stroke-width="0.6"/><circle cx="170.1" cy="74.2" r="2.35" fill="#f81a00" stroke="#1a1a1a" stroke-width="0.6"/><circle cx="183.6" cy="73.9" r="2.35" fill="#ff8800" stroke="#1a1a1a" stroke-width="0.6"/><circle cx="188.4" cy="73.9" r="2.35" fill="#f81a00" stroke="#1a1a1a" stroke-width="0.6"/><circle cx="180.9" cy="76.6" r="2.35" fill="#f81a00" stroke="#1a1a1a" stroke-width="0.6"/><circle cx="191.1" cy="76.9" r="2.35" fill="#1482e0" stroke="#1a1a1a" stroke-width="0.6"/><rect x="54.60" y="13.00" width="255.60" height="3.40" fill="#fff" stroke="none" stroke-width="0"/><rect x="54.60" y="158.20" width="255.60" height="3.40" fill="#fff" stroke="none" stroke-width="0"/><rect x="54.60" y="13.00" width="3.40" height="148.60" fill="#fff" stroke="none" stroke-width="0"/><rect x="306.80" y="13.00" width="3.40" height="148.60" fill="#fff" stroke="none" stroke-width="0"/><rect x="71.50" y="13.00" width="26.75" height="3.40" fill="#000" stroke="none" stroke-width="0"/><rect x="71.50" y="158.20" width="26.75" height="3.40" fill="#000" stroke="none" stroke-width="0"/><rect x="125.00" y="13.00" width="26.75" height="3.40" fill="#000" stroke="none" stroke-width="0"/><rect x="125.00" y="158.20" width="26.75" height="3.40" fill="#000" stroke="none" stroke-width="0"/><rect x="178.50" y="13.00" width="26.75" height="3.40" fill="#000" stroke="none" stroke-width="0"/><rect x="178.50" y="158.20" width="26.75" height="3.40" fill="#000" stroke="none" stroke-width="0"/><rect x="232.00" y="13.00" width="26.75" height="3.40" fill="#000" stroke="none" stroke-width="0"/><rect x="232.00" y="158.20" width="26.75" height="3.40" fill="#000" stroke="none" stroke-width="0"/><rect x="285.50" y="13.00" width="21.30" height="3.40" fill="#000" stroke="none" stroke-width="0"/><rect x="285.50" y="158.20" width="21.30" height="3.40" fill="#000" stroke="none" stroke-width="0"/><rect x="54.60" y="129.60" width="3.40" height="28.60" fill="#000" stroke="none" stroke-width="0"/><rect x="306.80" y="129.60" width="3.40" height="28.60" fill="#000" stroke="none" stroke-width="0"/><rect x="54.60" y="64.60" width="3.40" height="32.50" fill="#000" stroke="none" stroke-width="0"/><rect x="306.80" y="64.60" width="3.40" height="32.50" fill="#000" stroke="none" stroke-width="0"/><rect x="54.60" y="16.40" width="3.40" height="15.70" fill="#000" stroke="none" stroke-width="0"/><rect x="306.80" y="16.40" width="3.40" height="15.70" fill="#000" stroke="none" stroke-width="0"/><rect x="54.60" y="13.00" width="255.60" height="148.60" fill="none" stroke="#444" stroke-width="0.7"/><rect x="58.00" y="16.40" width="248.80" height="141.80" fill="none" stroke="#777" stroke-width="0.6"/><text x="51.20" y="35.00" font-size="8.2" text-anchor="end" font-family='"Liberation Sans", sans-serif' fill="#1a1a1a"  textLength="26.3" lengthAdjust="spacingAndGlyphs">34.96˚N</text><text x="51.20" y="99.60" font-size="8.2" text-anchor="end" font-family='"Liberation Sans", sans-serif' fill="#1a1a1a"  textLength="26.3" lengthAdjust="spacingAndGlyphs">34.94˚N</text><text x="71.50" y="170.80" font-size="8.1" text-anchor="middle" font-family='"Liberation Sans", sans-serif' fill="#1a1a1a"  textLength="29.8" lengthAdjust="spacingAndGlyphs">139.14˚E</text><text x="125.00" y="170.80" font-size="8.1" text-anchor="middle" font-family='"Liberation Sans", sans-serif' fill="#1a1a1a"  textLength="29.8" lengthAdjust="spacingAndGlyphs">139.16˚E</text><text x="178.50" y="170.80" font-size="8.1" text-anchor="middle" font-family='"Liberation Sans", sans-serif' fill="#1a1a1a"  textLength="29.8" lengthAdjust="spacingAndGlyphs">139.18˚E</text><text x="232.00" y="170.80" font-size="8.1" text-anchor="middle" font-family='"Liberation Sans", sans-serif' fill="#1a1a1a"  textLength="25.6" lengthAdjust="spacingAndGlyphs">139.2˚E</text><text x="285.50" y="170.80" font-size="8.1" text-anchor="middle" font-family='"Liberation Sans", sans-serif' fill="#1a1a1a"  textLength="29.8" lengthAdjust="spacingAndGlyphs">139.22˚E</text><polygon points="65.5,52.8 62.2,58.2 68.8,58.2" fill="#000"/><text x="78.85" y="65.20" font-size="8.0" text-anchor="middle" font-family='"Liberation Sans", sans-serif' fill="#1a1a1a"  textLength="27.7" lengthAdjust="spacingAndGlyphs">SZO028</text><text x="122.40" y="53.90" font-size="8.3" text-anchor="middle" font-family='"Liberation Sans", sans-serif' fill="#1a1a1a"  textLength="5.4" lengthAdjust="spacingAndGlyphs">A</text><text x="209.90" y="40.60" font-size="8.3" text-anchor="middle" font-family='"Liberation Sans", sans-serif' fill="#1a1a1a"  textLength="6.6" lengthAdjust="spacingAndGlyphs">B′</text><text x="181.00" y="117.20" font-size="8.3" text-anchor="middle" font-family='"Liberation Sans", sans-serif' fill="#1a1a1a"  textLength="5.0" lengthAdjust="spacingAndGlyphs">B</text><text x="267.40" y="106.90" font-size="8.3" text-anchor="middle" font-family='"Liberation Sans", sans-serif' fill="#1a1a1a"  textLength="6.9" lengthAdjust="spacingAndGlyphs">A′</text><polyline points="237.3,141.8 237.3,139.2 295.6,139.2 295.6,141.8" fill="none" stroke="#222" stroke-width="0.7"/><text x="266.40" y="149.90" font-size="8.1" text-anchor="middle" font-family='"Liberation Sans", sans-serif' fill="#1a1a1a"  textLength="16.9" lengthAdjust="spacingAndGlyphs">2 km</text><text x="187.10" y="186.80" font-size="16" text-anchor="middle" font-family='"Liberation Serif", serif' fill="#1a1a1a" stroke="#222" stroke-width="0.25" textLength="66.2" lengthAdjust="spacingAndGlyphs">Longitude</text><text x="0" y="0" font-size="16" text-anchor="middle" font-family='"Liberation Serif", serif' fill="#1a1a1a" stroke="#222" stroke-width="0.25" transform="translate(18.6,91.9) rotate(-90)" textLength="54.2" lengthAdjust="spacingAndGlyphs">Latitude</text><text x="0.30" y="13.00" font-size="14.5" text-anchor="start" font-family='"Liberation Sans", sans-serif' fill="#1a1a1a"  textLength="17.2" lengthAdjust="spacingAndGlyphs">(a)</text><line x1="468.40" y1="56.10" x2="602.50" y2="105.00" stroke="#222" stroke-width="0.7"/><line x1="547.80" y1="47.50" x2="523.10" y2="113.70" stroke="#222" stroke-width="0.7"/><circle cx="543.3" cy="29.0" r="2.35" fill="#c8f000" stroke="#1a1a1a" stroke-width="0.6"/><circle cx="553.7" cy="35.3" r="2.35" fill="#f24400" stroke="#1a1a1a" stroke-width="0.6"/><circle cx="503.1" cy="38.7" r="2.35" fill="#c8f000" stroke="#1a1a1a" stroke-width="0.6"/><circle cx="527.1" cy="45.0" r="2.35" fill="#c8f000" stroke="#1a1a1a" stroke-width="0.6"/><circle cx="537.9" cy="45.3" r="2.35" fill="#f8c400" stroke="#1a1a1a" stroke-width="0.6"/><circle cx="508.5" cy="48.4" r="2.35" fill="#f24400" stroke="#1a1a1a" stroke-width="0.6"/><circle cx="511.3" cy="51.6" r="2.35" fill="#f24400" stroke="#1a1a1a" stroke-width="0.6"/><circle cx="503.1" cy="51.6" r="2.35" fill="#f0dc00" stroke="#1a1a1a" stroke-width="0.6"/><circle cx="529.8" cy="51.6" r="2.35" fill="#c8f000" stroke="#1a1a1a" stroke-width="0.6"/><circle cx="519.4" cy="54.7" r="2.35" fill="#f0dc00" stroke="#1a1a1a" stroke-width="0.6"/><circle cx="537.9" cy="54.7" r="2.35" fill="#f0dc00" stroke="#1a1a1a" stroke-width="0.6"/><circle cx="514.0" cy="57.9" r="2.35" fill="#f0dc00" stroke="#1a1a1a" stroke-width="0.6"/><circle cx="519.2" cy="57.9" r="2.35" fill="#f0dc00" stroke="#1a1a1a" stroke-width="0.6"/><circle cx="527.1" cy="57.9" r="2.35" fill="#f0dc00" stroke="#1a1a1a" stroke-width="0.6"/><circle cx="538.4" cy="57.9" r="2.35" fill="#f0dc00" stroke="#1a1a1a" stroke-width="0.6"/><circle cx="541.5" cy="57.9" r="2.35" fill="#f0dc00" stroke="#1a1a1a" stroke-width="0.6"/><circle cx="554.0" cy="35.5" r="2.35" fill="#f24400" stroke="#1a1a1a" stroke-width="0.6"/><circle cx="570.1" cy="48.5" r="2.35" fill="#c8f000" stroke="#1a1a1a" stroke-width="0.6"/><circle cx="575.5" cy="48.5" r="2.35" fill="#c8f000" stroke="#1a1a1a" stroke-width="0.6"/><circle cx="559.5" cy="55.0" r="2.35" fill="#c8f000" stroke="#1a1a1a" stroke-width="0.6"/><circle cx="588.6" cy="61.4" r="2.35" fill="#f0dc00" stroke="#1a1a1a" stroke-width="0.6"/><circle cx="546.2" cy="64.4" r="2.35" fill="#ff8400" stroke="#1a1a1a" stroke-width="0.6"/><circle cx="561.9" cy="67.8" r="2.35" fill="#f24400" stroke="#1a1a1a" stroke-width="0.6"/><circle cx="572.7" cy="71.0" r="2.35" fill="#f24400" stroke="#1a1a1a" stroke-width="0.6"/><circle cx="564.3" cy="71.0" r="2.35" fill="#90e840" stroke="#1a1a1a" stroke-width="0.6"/><circle cx="591.4" cy="73.8" r="2.35" fill="#ff8400" stroke="#1a1a1a" stroke-width="0.6"/><circle cx="502.9" cy="51.8" r="2.35" fill="#f0dc00" stroke="#1a1a1a" stroke-width="0.6"/><circle cx="511.0" cy="51.8" r="2.35" fill="#f24400" stroke="#1a1a1a" stroke-width="0.6"/><circle cx="513.7" cy="58.6" r="2.35" fill="#f0dc00" stroke="#1a1a1a" stroke-width="0.6"/><circle cx="503.3" cy="64.5" r="2.35" fill="#18b094" stroke="#1a1a1a" stroke-width="0.6"/><circle cx="508.3" cy="64.5" r="2.35" fill="#c8f000" stroke="#1a1a1a" stroke-width="0.6"/><circle cx="513.7" cy="64.5" r="2.35" fill="#c8f000" stroke="#1a1a1a" stroke-width="0.6"/><circle cx="487.1" cy="67.9" r="2.35" fill="#c8f000" stroke="#1a1a1a" stroke-width="0.6"/><circle cx="505.1" cy="71.2" r="2.35" fill="#f0dc00" stroke="#1a1a1a" stroke-width="0.6"/><circle cx="508.7" cy="70.8" r="2.35" fill="#c8f000" stroke="#1a1a1a" stroke-width="0.6"/><circle cx="513.7" cy="71.2" r="2.35" fill="#40d862" stroke="#1a1a1a" stroke-width="0.6"/><circle cx="508.7" cy="74.4" r="2.35" fill="#c8f000" stroke="#1a1a1a" stroke-width="0.6"/><circle cx="513.7" cy="74.4" r="2.35" fill="#c8f000" stroke="#1a1a1a" stroke-width="0.6"/><circle cx="492.5" cy="77.6" r="2.35" fill="#90e840" stroke="#1a1a1a" stroke-width="0.6"/><circle cx="508.3" cy="77.6" r="2.35" fill="#f0dc00" stroke="#1a1a1a" stroke-width="0.6"/><circle cx="513.7" cy="77.6" r="2.35" fill="#ff8400" stroke="#1a1a1a" stroke-width="0.6"/><circle cx="494.7" cy="80.7" r="2.35" fill="#f8c400" stroke="#1a1a1a" stroke-width="0.6"/><circle cx="497.9" cy="80.7" r="2.35" fill="#c8f000" stroke="#1a1a1a" stroke-width="0.6"/><circle cx="505.6" cy="80.7" r="2.35" fill="#f24400" stroke="#1a1a1a" stroke-width="0.6"/><circle cx="511.5" cy="80.7" r="2.35" fill="#f0dc00" stroke="#1a1a1a" stroke-width="0.6"/><circle cx="500.6" cy="83.9" r="2.35" fill="#90e840" stroke="#1a1a1a" stroke-width="0.6"/><circle cx="505.6" cy="83.9" r="2.35" fill="#f24400" stroke="#1a1a1a" stroke-width="0.6"/><circle cx="508.7" cy="83.9" r="2.35" fill="#c8f000" stroke="#1a1a1a" stroke-width="0.6"/><circle cx="513.7" cy="87.0" r="2.35" fill="#ff8400" stroke="#1a1a1a" stroke-width="0.6"/><circle cx="492.5" cy="90.7" r="2.35" fill="#f8c400" stroke="#1a1a1a" stroke-width="0.6"/><circle cx="497.9" cy="90.7" r="2.35" fill="#f24400" stroke="#1a1a1a" stroke-width="0.6"/><circle cx="508.7" cy="90.7" r="2.35" fill="#ff8400" stroke="#1a1a1a" stroke-width="0.6"/><circle cx="513.7" cy="90.7" r="2.35" fill="#f24400" stroke="#1a1a1a" stroke-width="0.6"/><circle cx="519.2" cy="54.5" r="2.35" fill="#f0dc00" stroke="#1a1a1a" stroke-width="0.6"/><circle cx="537.8" cy="54.5" r="2.35" fill="#f0dc00" stroke="#1a1a1a" stroke-width="0.6"/><circle cx="513.7" cy="58.1" r="2.35" fill="#f0dc00" stroke="#1a1a1a" stroke-width="0.6"/><circle cx="519.2" cy="58.1" r="2.35" fill="#f0dc00" stroke="#1a1a1a" stroke-width="0.6"/><circle cx="527.3" cy="58.1" r="2.35" fill="#f0dc00" stroke="#1a1a1a" stroke-width="0.6"/><circle cx="537.8" cy="58.1" r="2.35" fill="#f0dc00" stroke="#1a1a1a" stroke-width="0.6"/><circle cx="541.1" cy="58.1" r="2.35" fill="#f0dc00" stroke="#1a1a1a" stroke-width="0.6"/><circle cx="521.9" cy="61.1" r="2.35" fill="#c8f000" stroke="#1a1a1a" stroke-width="0.6"/><circle cx="524.9" cy="61.4" r="2.35" fill="#f8c400" stroke="#1a1a1a" stroke-width="0.6"/><circle cx="529.1" cy="61.4" r="2.35" fill="#f8c400" stroke="#1a1a1a" stroke-width="0.6"/><circle cx="532.7" cy="61.4" r="2.35" fill="#f0dc00" stroke="#1a1a1a" stroke-width="0.6"/><circle cx="537.8" cy="61.7" r="2.35" fill="#f0dc00" stroke="#1a1a1a" stroke-width="0.6"/><circle cx="508.6" cy="64.5" r="2.35" fill="#c8f000" stroke="#1a1a1a" stroke-width="0.6"/><circle cx="513.7" cy="64.5" r="2.35" fill="#c8f000" stroke="#1a1a1a" stroke-width="0.6"/><circle cx="518.6" cy="64.5" r="2.35" fill="#f0dc00" stroke="#1a1a1a" stroke-width="0.6"/><circle cx="521.9" cy="64.5" r="2.35" fill="#c8f000" stroke="#1a1a1a" stroke-width="0.6"/><circle cx="544.8" cy="64.5" r="2.35" fill="#f8c400" stroke="#1a1a1a" stroke-width="0.6"/><circle cx="513.7" cy="67.8" r="2.35" fill="#f0dc00" stroke="#1a1a1a" stroke-width="0.6"/><circle cx="519.2" cy="67.8" r="2.35" fill="#f0dc00" stroke="#1a1a1a" stroke-width="0.6"/><circle cx="522.8" cy="67.8" r="2.35" fill="#ff8400" stroke="#1a1a1a" stroke-width="0.6"/><circle cx="527.3" cy="67.5" r="2.35" fill="#f0dc00" stroke="#1a1a1a" stroke-width="0.6"/><circle cx="540.8" cy="67.8" r="2.35" fill="#f8c400" stroke="#1a1a1a" stroke-width="0.6"/><circle cx="508.6" cy="70.8" r="2.35" fill="#c8f000" stroke="#1a1a1a" stroke-width="0.6"/><circle cx="514.0" cy="70.8" r="2.35" fill="#40d862" stroke="#1a1a1a" stroke-width="0.6"/><circle cx="518.9" cy="70.8" r="2.35" fill="#c8f000" stroke="#1a1a1a" stroke-width="0.6"/><circle cx="522.2" cy="70.8" r="2.35" fill="#40d862" stroke="#1a1a1a" stroke-width="0.6"/><circle cx="527.3" cy="70.8" r="2.35" fill="#40d862" stroke="#1a1a1a" stroke-width="0.6"/><circle cx="531.5" cy="70.8" r="2.35" fill="#f8c400" stroke="#1a1a1a" stroke-width="0.6"/><circle cx="535.4" cy="70.8" r="2.35" fill="#f0dc00" stroke="#1a1a1a" stroke-width="0.6"/><circle cx="508.6" cy="74.4" r="2.35" fill="#c8f000" stroke="#1a1a1a" stroke-width="0.6"/><circle cx="513.4" cy="74.7" r="2.35" fill="#40d862" stroke="#1a1a1a" stroke-width="0.6"/><circle cx="520.1" cy="74.4" r="2.35" fill="#ff8400" stroke="#1a1a1a" stroke-width="0.6"/><circle cx="524.0" cy="74.4" r="2.35" fill="#c8f000" stroke="#1a1a1a" stroke-width="0.6"/><circle cx="527.3" cy="74.1" r="2.35" fill="#10a0b0" stroke="#1a1a1a" stroke-width="0.6"/><circle cx="532.4" cy="74.4" r="2.35" fill="#f0dc00" stroke="#1a1a1a" stroke-width="0.6"/><circle cx="540.8" cy="74.4" r="2.35" fill="#40d862" stroke="#1a1a1a" stroke-width="0.6"/><circle cx="543.9" cy="74.4" r="2.35" fill="#f24400" stroke="#1a1a1a" stroke-width="0.6"/><circle cx="506.8" cy="77.7" r="2.35" fill="#f0dc00" stroke="#1a1a1a" stroke-width="0.6"/><circle cx="514.0" cy="77.7" r="2.35" fill="#f24400" stroke="#1a1a1a" stroke-width="0.6"/><circle cx="519.2" cy="77.7" r="2.35" fill="#c8f000" stroke="#1a1a1a" stroke-width="0.6"/><circle cx="522.5" cy="77.7" r="2.35" fill="#c8f000" stroke="#1a1a1a" stroke-width="0.6"/><circle cx="532.7" cy="77.7" r="2.35" fill="#f0dc00" stroke="#1a1a1a" stroke-width="0.6"/><circle cx="536.9" cy="77.7" r="2.35" fill="#ff8400" stroke="#1a1a1a" stroke-width="0.6"/><circle cx="540.5" cy="77.7" r="2.35" fill="#c8f000" stroke="#1a1a1a" stroke-width="0.6"/><circle cx="529.7" cy="77.4" r="2.35" fill="#0820b8" stroke="#1a1a1a" stroke-width="0.6"/><circle cx="540.9" cy="58.3" r="2.35" fill="#f0dc00" stroke="#1a1a1a" stroke-width="0.6"/><circle cx="546.0" cy="64.6" r="2.35" fill="#ff8400" stroke="#1a1a1a" stroke-width="0.6"/><circle cx="541.2" cy="68.0" r="2.35" fill="#f8c400" stroke="#1a1a1a" stroke-width="0.6"/><circle cx="562.0" cy="67.7" r="2.35" fill="#f24400" stroke="#1a1a1a" stroke-width="0.6"/><circle cx="547.8" cy="70.7" r="2.35" fill="#f24400" stroke="#1a1a1a" stroke-width="0.6"/><circle cx="551.4" cy="71.0" r="2.35" fill="#c8f000" stroke="#1a1a1a" stroke-width="0.6"/><circle cx="554.8" cy="70.7" r="2.35" fill="#f24400" stroke="#1a1a1a" stroke-width="0.6"/><circle cx="564.7" cy="71.0" r="2.35" fill="#c8f000" stroke="#1a1a1a" stroke-width="0.6"/><circle cx="572.5" cy="71.0" r="2.35" fill="#f24400" stroke="#1a1a1a" stroke-width="0.6"/><circle cx="540.9" cy="74.3" r="2.35" fill="#40d862" stroke="#1a1a1a" stroke-width="0.6"/><circle cx="543.9" cy="74.3" r="2.35" fill="#f24400" stroke="#1a1a1a" stroke-width="0.6"/><circle cx="548.7" cy="74.3" r="2.35" fill="#f0dc00" stroke="#1a1a1a" stroke-width="0.6"/><circle cx="553.9" cy="74.3" r="2.35" fill="#c8f000" stroke="#1a1a1a" stroke-width="0.6"/><circle cx="562.0" cy="74.3" r="2.35" fill="#ff8400" stroke="#1a1a1a" stroke-width="0.6"/><circle cx="565.3" cy="74.9" r="2.35" fill="#f24400" stroke="#1a1a1a" stroke-width="0.6"/><circle cx="546.0" cy="77.3" r="2.35" fill="#f0dc00" stroke="#1a1a1a" stroke-width="0.6"/><circle cx="549.6" cy="77.6" r="2.35" fill="#f24400" stroke="#1a1a1a" stroke-width="0.6"/><circle cx="553.3" cy="77.9" r="2.35" fill="#f24400" stroke="#1a1a1a" stroke-width="0.6"/><circle cx="556.9" cy="77.6" r="2.35" fill="#90e840" stroke="#1a1a1a" stroke-width="0.6"/><circle cx="572.8" cy="77.6" r="2.35" fill="#f0dc00" stroke="#1a1a1a" stroke-width="0.6"/><circle cx="540.6" cy="77.9" r="2.35" fill="#c8f000" stroke="#1a1a1a" stroke-width="0.6"/><circle cx="541.2" cy="80.9" r="2.35" fill="#f24400" stroke="#1a1a1a" stroke-width="0.6"/><circle cx="546.0" cy="80.9" r="2.35" fill="#c8f000" stroke="#1a1a1a" stroke-width="0.6"/><circle cx="549.0" cy="80.9" r="2.35" fill="#ff8400" stroke="#1a1a1a" stroke-width="0.6"/><circle cx="552.0" cy="80.9" r="2.35" fill="#f24400" stroke="#1a1a1a" stroke-width="0.6"/><circle cx="554.8" cy="80.9" r="2.35" fill="#f24400" stroke="#1a1a1a" stroke-width="0.6"/><circle cx="562.0" cy="80.6" r="2.35" fill="#90e840" stroke="#1a1a1a" stroke-width="0.6"/><circle cx="546.0" cy="83.6" r="2.35" fill="#90e840" stroke="#1a1a1a" stroke-width="0.6"/><circle cx="549.9" cy="83.6" r="2.35" fill="#f24400" stroke="#1a1a1a" stroke-width="0.6"/><circle cx="556.9" cy="83.6" r="2.35" fill="#f24400" stroke="#1a1a1a" stroke-width="0.6"/><circle cx="559.6" cy="83.6" r="2.35" fill="#f24400" stroke="#1a1a1a" stroke-width="0.6"/><circle cx="567.4" cy="83.6" r="2.35" fill="#ff8400" stroke="#1a1a1a" stroke-width="0.6"/><circle cx="540.6" cy="83.6" r="2.35" fill="#c8f000" stroke="#1a1a1a" stroke-width="0.6"/><circle cx="508.4" cy="75.6" r="2.35" fill="#c8f000" stroke="#1a1a1a" stroke-width="0.6"/><circle cx="513.9" cy="75.6" r="2.35" fill="#c8f000" stroke="#1a1a1a" stroke-width="0.6"/><circle cx="519.3" cy="75.6" r="2.35" fill="#f0dc00" stroke="#1a1a1a" stroke-width="0.6"/><circle cx="527.1" cy="75.3" r="2.35" fill="#10a0b0" stroke="#1a1a1a" stroke-width="0.6"/><circle cx="508.4" cy="77.7" r="2.35" fill="#f0dc00" stroke="#1a1a1a" stroke-width="0.6"/><circle cx="513.9" cy="77.7" r="2.35" fill="#ff8400" stroke="#1a1a1a" stroke-width="0.6"/><circle cx="519.3" cy="77.7" r="2.35" fill="#c8f000" stroke="#1a1a1a" stroke-width="0.6"/><circle cx="522.6" cy="77.7" r="2.35" fill="#c8f000" stroke="#1a1a1a" stroke-width="0.6"/><circle cx="524.1" cy="77.7" r="2.35" fill="#ff8400" stroke="#1a1a1a" stroke-width="0.6"/><circle cx="529.8" cy="77.4" r="2.35" fill="#0820b8" stroke="#1a1a1a" stroke-width="0.6"/><circle cx="533.7" cy="77.4" r="2.35" fill="#c8f000" stroke="#1a1a1a" stroke-width="0.6"/><circle cx="506.0" cy="80.7" r="2.35" fill="#f24400" stroke="#1a1a1a" stroke-width="0.6"/><circle cx="511.1" cy="80.7" r="2.35" fill="#f0dc00" stroke="#1a1a1a" stroke-width="0.6"/><circle cx="516.3" cy="80.7" r="2.35" fill="#c8f000" stroke="#1a1a1a" stroke-width="0.6"/><circle cx="519.3" cy="80.7" r="2.35" fill="#c8f000" stroke="#1a1a1a" stroke-width="0.6"/><circle cx="523.8" cy="80.7" r="2.35" fill="#f8c400" stroke="#1a1a1a" stroke-width="0.6"/><circle cx="526.8" cy="80.7" r="2.35" fill="#f0dc00" stroke="#1a1a1a" stroke-width="0.6"/><circle cx="530.1" cy="81.0" r="2.35" fill="#c8f000" stroke="#1a1a1a" stroke-width="0.6"/><circle cx="534.9" cy="80.7" r="2.35" fill="#10a0b0" stroke="#1a1a1a" stroke-width="0.6"/><circle cx="538.3" cy="80.7" r="2.35" fill="#f8c400" stroke="#1a1a1a" stroke-width="0.6"/><circle cx="500.9" cy="84.0" r="2.35" fill="#40d862" stroke="#1a1a1a" stroke-width="0.6"/><circle cx="505.1" cy="84.0" r="2.35" fill="#f24400" stroke="#1a1a1a" stroke-width="0.6"/><circle cx="508.7" cy="84.0" r="2.35" fill="#c8f000" stroke="#1a1a1a" stroke-width="0.6"/><circle cx="516.0" cy="84.0" r="2.35" fill="#f0dc00" stroke="#1a1a1a" stroke-width="0.6"/><circle cx="519.3" cy="84.0" r="2.35" fill="#40d862" stroke="#1a1a1a" stroke-width="0.6"/><circle cx="522.6" cy="84.0" r="2.35" fill="#c8f000" stroke="#1a1a1a" stroke-width="0.6"/><circle cx="527.4" cy="84.3" r="2.35" fill="#f0dc00" stroke="#1a1a1a" stroke-width="0.6"/><circle cx="531.3" cy="84.0" r="2.35" fill="#f0dc00" stroke="#1a1a1a" stroke-width="0.6"/><circle cx="535.5" cy="84.3" r="2.35" fill="#c8f000" stroke="#1a1a1a" stroke-width="0.6"/><circle cx="539.2" cy="84.0" r="2.35" fill="#c8f000" stroke="#1a1a1a" stroke-width="0.6"/><circle cx="513.9" cy="87.3" r="2.35" fill="#ff8400" stroke="#1a1a1a" stroke-width="0.6"/><circle cx="519.3" cy="87.7" r="2.35" fill="#c8f000" stroke="#1a1a1a" stroke-width="0.6"/><circle cx="524.7" cy="87.3" r="2.35" fill="#18b094" stroke="#1a1a1a" stroke-width="0.6"/><circle cx="528.9" cy="87.0" r="2.35" fill="#f24400" stroke="#1a1a1a" stroke-width="0.6"/><circle cx="532.5" cy="87.3" r="2.35" fill="#c8f000" stroke="#1a1a1a" stroke-width="0.6"/><circle cx="536.1" cy="87.7" r="2.35" fill="#ff8400" stroke="#1a1a1a" stroke-width="0.6"/><circle cx="508.4" cy="90.7" r="2.35" fill="#ff8400" stroke="#1a1a1a" stroke-width="0.6"/><circle cx="513.9" cy="91.0" r="2.35" fill="#f24400" stroke="#1a1a1a" stroke-width="0.6"/><circle cx="517.2" cy="91.0" r="2.35" fill="#f24400" stroke="#1a1a1a" stroke-width="0.6"/><circle cx="524.4" cy="91.0" r="2.35" fill="#c8f000" stroke="#1a1a1a" stroke-width="0.6"/><circle cx="529.8" cy="90.7" r="2.35" fill="#f0dc00" stroke="#1a1a1a" stroke-width="0.6"/><circle cx="533.1" cy="91.0" r="2.35" fill="#f8c400" stroke="#1a1a1a" stroke-width="0.6"/><circle cx="537.7" cy="90.7" r="2.35" fill="#c8f000" stroke="#1a1a1a" stroke-width="0.6"/><circle cx="524.7" cy="94.0" r="2.35" fill="#ff8400" stroke="#1a1a1a" stroke-width="0.6"/><circle cx="529.5" cy="94.0" r="2.35" fill="#ff8400" stroke="#1a1a1a" stroke-width="0.6"/><circle cx="534.9" cy="94.0" r="2.35" fill="#f24400" stroke="#1a1a1a" stroke-width="0.6"/><circle cx="538.6" cy="94.0" r="2.35" fill="#c8f000" stroke="#1a1a1a" stroke-width="0.6"/><circle cx="524.4" cy="97.3" r="2.35" fill="#f24400" stroke="#1a1a1a" stroke-width="0.6"/><circle cx="530.1" cy="97.3" r="2.35" fill="#f24400" stroke="#1a1a1a" stroke-width="0.6"/><circle cx="539.8" cy="97.3" r="2.35" fill="#f24400" stroke="#1a1a1a" stroke-width="0.6"/><circle cx="530.1" cy="100.6" r="2.35" fill="#f24400" stroke="#1a1a1a" stroke-width="0.6"/><circle cx="532.8" cy="100.3" r="2.35" fill="#f24400" stroke="#1a1a1a" stroke-width="0.6"/><circle cx="535.6" cy="81.2" r="2.35" fill="#10a0b0" stroke="#1a1a1a" stroke-width="0.6"/><circle cx="541.0" cy="80.6" r="2.35" fill="#ff8400" stroke="#1a1a1a" stroke-width="0.6"/><circle cx="546.1" cy="80.6" r="2.35" fill="#f0dc00" stroke="#1a1a1a" stroke-width="0.6"/><circle cx="549.5" cy="80.6" r="2.35" fill="#ff8400" stroke="#1a1a1a" stroke-width="0.6"/><circle cx="552.5" cy="80.6" r="2.35" fill="#f24400" stroke="#1a1a1a" stroke-width="0.6"/><circle cx="554.9" cy="80.6" r="2.35" fill="#f24400" stroke="#1a1a1a" stroke-width="0.6"/><circle cx="562.1" cy="80.9" r="2.35" fill="#90e840" stroke="#1a1a1a" stroke-width="0.6"/><circle cx="535.9" cy="84.2" r="2.35" fill="#c8f000" stroke="#1a1a1a" stroke-width="0.6"/><circle cx="540.7" cy="84.2" r="2.35" fill="#c8f000" stroke="#1a1a1a" stroke-width="0.6"/><circle cx="546.1" cy="84.2" r="2.35" fill="#40d862" stroke="#1a1a1a" stroke-width="0.6"/><circle cx="549.8" cy="84.2" r="2.35" fill="#f24400" stroke="#1a1a1a" stroke-width="0.6"/><circle cx="552.5" cy="84.2" r="2.35" fill="#f24400" stroke="#1a1a1a" stroke-width="0.6"/><circle cx="556.7" cy="84.2" r="2.35" fill="#f24400" stroke="#1a1a1a" stroke-width="0.6"/><circle cx="559.7" cy="84.2" r="2.35" fill="#f24400" stroke="#1a1a1a" stroke-width="0.6"/><circle cx="567.5" cy="83.9" r="2.35" fill="#ff8400" stroke="#1a1a1a" stroke-width="0.6"/><circle cx="535.9" cy="87.5" r="2.35" fill="#ff8400" stroke="#1a1a1a" stroke-width="0.6"/><circle cx="539.5" cy="87.5" r="2.35" fill="#f24400" stroke="#1a1a1a" stroke-width="0.6"/><circle cx="543.4" cy="87.2" r="2.35" fill="#f0dc00" stroke="#1a1a1a" stroke-width="0.6"/><circle cx="548.0" cy="87.5" r="2.35" fill="#ff8400" stroke="#1a1a1a" stroke-width="0.6"/><circle cx="551.3" cy="87.2" r="2.35" fill="#c8f000" stroke="#1a1a1a" stroke-width="0.6"/><circle cx="554.9" cy="86.6" r="2.35" fill="#ff8400" stroke="#1a1a1a" stroke-width="0.6"/><circle cx="557.6" cy="87.5" r="2.35" fill="#f24400" stroke="#1a1a1a" stroke-width="0.6"/><circle cx="564.8" cy="87.2" r="2.35" fill="#f24400" stroke="#1a1a1a" stroke-width="0.6"/><circle cx="537.4" cy="90.5" r="2.35" fill="#f0dc00" stroke="#1a1a1a" stroke-width="0.6"/><circle cx="542.2" cy="90.2" r="2.35" fill="#c8f000" stroke="#1a1a1a" stroke-width="0.6"/><circle cx="546.1" cy="90.5" r="2.35" fill="#c8f000" stroke="#1a1a1a" stroke-width="0.6"/><circle cx="551.3" cy="90.8" r="2.35" fill="#f0dc00" stroke="#1a1a1a" stroke-width="0.6"/><circle cx="554.6" cy="90.5" r="2.35" fill="#f8c400" stroke="#1a1a1a" stroke-width="0.6"/><circle cx="564.8" cy="90.8" r="2.35" fill="#f24400" stroke="#1a1a1a" stroke-width="0.6"/><circle cx="537.4" cy="93.9" r="2.35" fill="#c8f000" stroke="#1a1a1a" stroke-width="0.6"/><circle cx="540.4" cy="93.9" r="2.35" fill="#c8f000" stroke="#1a1a1a" stroke-width="0.6"/><circle cx="543.4" cy="93.9" r="2.35" fill="#c8f000" stroke="#1a1a1a" stroke-width="0.6"/><circle cx="548.6" cy="93.9" r="2.35" fill="#ff8400" stroke="#1a1a1a" stroke-width="0.6"/><circle cx="556.7" cy="93.9" r="2.35" fill="#f24400" stroke="#1a1a1a" stroke-width="0.6"/><circle cx="540.7" cy="97.5" r="2.35" fill="#f24400" stroke="#1a1a1a" stroke-width="0.6"/><circle cx="548.6" cy="97.2" r="2.35" fill="#ff8400" stroke="#1a1a1a" stroke-width="0.6"/><circle cx="551.3" cy="100.5" r="2.35" fill="#f24400" stroke="#1a1a1a" stroke-width="0.6"/><circle cx="564.5" cy="100.2" r="2.35" fill="#f24400" stroke="#1a1a1a" stroke-width="0.6"/><circle cx="572.3" cy="100.2" r="2.35" fill="#f24400" stroke="#1a1a1a" stroke-width="0.6"/><circle cx="540.7" cy="103.2" r="2.35" fill="#c8f000" stroke="#1a1a1a" stroke-width="0.6"/><circle cx="559.4" cy="103.2" r="2.35" fill="#f24400" stroke="#1a1a1a" stroke-width="0.6"/><circle cx="543.4" cy="106.8" r="2.35" fill="#f24400" stroke="#1a1a1a" stroke-width="0.6"/><circle cx="562.1" cy="108.9" r="2.35" fill="#c8f000" stroke="#1a1a1a" stroke-width="0.6"/><circle cx="601.9" cy="77.5" r="2.35" fill="#f0dc00" stroke="#1a1a1a" stroke-width="0.6"/><circle cx="615.5" cy="77.5" r="2.35" fill="#f0dc00" stroke="#1a1a1a" stroke-width="0.6"/><circle cx="596.7" cy="93.8" r="2.35" fill="#f24400" stroke="#1a1a1a" stroke-width="0.6"/><circle cx="583.5" cy="96.9" r="2.35" fill="#f8c400" stroke="#1a1a1a" stroke-width="0.6"/><circle cx="572.7" cy="100.4" r="2.35" fill="#f24400" stroke="#1a1a1a" stroke-width="0.6"/><circle cx="607.3" cy="103.4" r="2.35" fill="#f0dc00" stroke="#1a1a1a" stroke-width="0.6"/><circle cx="524.3" cy="97.4" r="2.35" fill="#f24400" stroke="#1a1a1a" stroke-width="0.6"/><circle cx="529.8" cy="100.4" r="2.35" fill="#f24400" stroke="#1a1a1a" stroke-width="0.6"/><circle cx="532.8" cy="100.4" r="2.35" fill="#f24400" stroke="#1a1a1a" stroke-width="0.6"/><circle cx="529.8" cy="106.8" r="2.35" fill="#f24400" stroke="#1a1a1a" stroke-width="0.6"/><circle cx="551.4" cy="100.4" r="2.35" fill="#f24400" stroke="#1a1a1a" stroke-width="0.6"/><circle cx="540.6" cy="103.4" r="2.35" fill="#c8f000" stroke="#1a1a1a" stroke-width="0.6"/><circle cx="543.6" cy="106.8" r="2.35" fill="#f24400" stroke="#1a1a1a" stroke-width="0.6"/><circle cx="558.7" cy="103.4" r="2.35" fill="#f24400" stroke="#1a1a1a" stroke-width="0.6"/><circle cx="527.3" cy="116.4" r="2.35" fill="#ff8400" stroke="#1a1a1a" stroke-width="0.6"/><circle cx="532.8" cy="119.7" r="2.35" fill="#f24400" stroke="#1a1a1a" stroke-width="0.6"/><circle cx="532.8" cy="139.3" r="2.35" fill="#f24400" stroke="#1a1a1a" stroke-width="0.6"/><circle cx="436.4" cy="96.9" r="2.35" fill="#f8c400" stroke="#1a1a1a" stroke-width="0.6"/><circle cx="439.1" cy="100.3" r="2.35" fill="#c8f000" stroke="#1a1a1a" stroke-width="0.6"/><circle cx="433.6" cy="129.4" r="2.35" fill="#40d862" stroke="#1a1a1a" stroke-width="0.6"/><circle cx="599.2" cy="126.1" r="2.35" fill="#f24400" stroke="#1a1a1a" stroke-width="0.6"/><rect x="409.10" y="12.30" width="247.40" height="3.40" fill="#fff" stroke="none" stroke-width="0"/><rect x="409.10" y="152.20" width="247.40" height="3.40" fill="#fff" stroke="none" stroke-width="0"/><rect x="409.10" y="12.30" width="3.40" height="143.30" fill="#fff" stroke="none" stroke-width="0"/><rect x="653.10" y="12.30" width="3.40" height="143.30" fill="#fff" stroke="none" stroke-width="0"/><rect x="412.50" y="12.30" width="13.15" height="3.40" fill="#000" stroke="none" stroke-width="0"/><rect x="412.50" y="152.20" width="13.15" height="3.40" fill="#000" stroke="none" stroke-width="0"/><rect x="452.40" y="12.30" width="26.75" height="3.40" fill="#000" stroke="none" stroke-width="0"/><rect x="452.40" y="152.20" width="26.75" height="3.40" fill="#000" stroke="none" stroke-width="0"/><rect x="505.90" y="12.30" width="26.75" height="3.40" fill="#000" stroke="none" stroke-width="0"/><rect x="505.90" y="152.20" width="26.75" height="3.40" fill="#000" stroke="none" stroke-width="0"/><rect x="559.40" y="12.30" width="26.75" height="3.40" fill="#000" stroke="none" stroke-width="0"/><rect x="559.40" y="152.20" width="26.75" height="3.40" fill="#000" stroke="none" stroke-width="0"/><rect x="612.90" y="12.30" width="26.75" height="3.40" fill="#000" stroke="none" stroke-width="0"/><rect x="612.90" y="152.20" width="26.75" height="3.40" fill="#000" stroke="none" stroke-width="0"/><rect x="409.10" y="129.30" width="3.40" height="22.90" fill="#000" stroke="none" stroke-width="0"/><rect x="653.10" y="129.30" width="3.40" height="22.90" fill="#000" stroke="none" stroke-width="0"/><rect x="409.10" y="64.50" width="3.40" height="32.40" fill="#000" stroke="none" stroke-width="0"/><rect x="653.10" y="64.50" width="3.40" height="32.40" fill="#000" stroke="none" stroke-width="0"/><rect x="409.10" y="15.70" width="3.40" height="16.40" fill="#000" stroke="none" stroke-width="0"/><rect x="653.10" y="15.70" width="3.40" height="16.40" fill="#000" stroke="none" stroke-width="0"/><rect x="409.10" y="12.30" width="247.40" height="143.30" fill="none" stroke="#444" stroke-width="0.7"/><rect x="412.50" y="15.70" width="240.60" height="136.50" fill="none" stroke="#777" stroke-width="0.6"/><text x="405.80" y="35.40" font-size="8.2" text-anchor="end" font-family='"Liberation Sans", sans-serif' fill="#1a1a1a"  textLength="26.6" lengthAdjust="spacingAndGlyphs">34.98˚N</text><text x="405.80" y="100.60" font-size="8.2" text-anchor="end" font-family='"Liberation Sans", sans-serif' fill="#1a1a1a"  textLength="26.6" lengthAdjust="spacingAndGlyphs">34.96˚N</text><text x="452.40" y="164.40" font-size="8.1" text-anchor="middle" font-family='"Liberation Sans", sans-serif' fill="#1a1a1a"  textLength="25.7" lengthAdjust="spacingAndGlyphs">139.1˚E</text><text x="505.90" y="164.40" font-size="8.1" text-anchor="middle" font-family='"Liberation Sans", sans-serif' fill="#1a1a1a"  textLength="29.8" lengthAdjust="spacingAndGlyphs">139.12˚E</text><text x="559.40" y="164.40" font-size="8.1" text-anchor="middle" font-family='"Liberation Sans", sans-serif' fill="#1a1a1a"  textLength="29.8" lengthAdjust="spacingAndGlyphs">139.14˚E</text><text x="612.90" y="164.40" font-size="8.1" text-anchor="middle" font-family='"Liberation Sans", sans-serif' fill="#1a1a1a"  textLength="29.8" lengthAdjust="spacingAndGlyphs">139.16˚E</text><polygon points="460.7,75.8 457.1,82.3 464.3,82.3" fill="#000"/><text x="444.20" y="78.40" font-size="8.0" text-anchor="middle" font-family='"Liberation Sans", sans-serif' fill="#1a1a1a"  textLength="27.7" lengthAdjust="spacingAndGlyphs">SZO002</text><polygon points="553.5,117.5 549.9,123.9 557.1,123.9" fill="#000"/><text x="566.40" y="130.00" font-size="8.0" text-anchor="middle" font-family='"Liberation Sans", sans-serif' fill="#1a1a1a"  textLength="27.7" lengthAdjust="spacingAndGlyphs">SZO028</text><text x="465.40" y="54.20" font-size="8.3" text-anchor="middle" font-family='"Liberation Sans", sans-serif' fill="#1a1a1a"  textLength="5.4" lengthAdjust="spacingAndGlyphs">A</text><text x="551.00" y="45.90" font-size="8.3" text-anchor="middle" font-family='"Liberation Sans", sans-serif' fill="#1a1a1a"  textLength="6.6" lengthAdjust="spacingAndGlyphs">B′</text><text x="518.10" y="118.60" font-size="8.3" text-anchor="middle" font-family='"Liberation Sans", sans-serif' fill="#1a1a1a"  textLength="5.0" lengthAdjust="spacingAndGlyphs">B</text><text x="607.60" y="113.60" font-size="8.3" text-anchor="middle" font-family='"Liberation Sans", sans-serif' fill="#1a1a1a"  textLength="6.9" lengthAdjust="spacingAndGlyphs">A′</text><polyline points="588.3,138.9 588.3,136.3 647.6,136.3 647.6,138.9" fill="none" stroke="#222" stroke-width="0.7"/><text x="618.00" y="147.00" font-size="8.1" text-anchor="middle" font-family='"Liberation Sans", sans-serif' fill="#1a1a1a"  textLength="16.9" lengthAdjust="spacingAndGlyphs">2 km</text><text x="542.20" y="180.40" font-size="16" text-anchor="middle" font-family='"Liberation Serif", serif' fill="#1a1a1a" stroke="#222" stroke-width="0.25" textLength="66.6" lengthAdjust="spacingAndGlyphs">Longitude</text><text x="0" y="0" font-size="16" text-anchor="middle" font-family='"Liberation Serif", serif' fill="#1a1a1a" stroke="#222" stroke-width="0.25" transform="translate(374.2,91.8) rotate(-90)" textLength="54" lengthAdjust="spacingAndGlyphs">Latitude</text><text x="353.60" y="13.00" font-size="14.5" text-anchor="start" font-family='"Liberation Sans", sans-serif' fill="#1a1a1a"  textLength="19" lengthAdjust="spacingAndGlyphs">(b)</text><defs>
<linearGradient id="cba" x1="0" x2="1" y1="0" y2="0">
<stop offset="0" stop-color="#8a0000"/><stop offset="0.1428" stop-color="#e80800"/>
<stop offset="0.1429" stop-color="#ff2000"/><stop offset="0.2857" stop-color="#ff8000"/>
<stop offset="0.2858" stop-color="#ff9000"/><stop offset="0.4285" stop-color="#ffe800"/>
<stop offset="0.4286" stop-color="#ffff00"/><stop offset="0.5714" stop-color="#e4f000"/>
<stop offset="0.5715" stop-color="#c8f000"/><stop offset="0.7142" stop-color="#40e040"/>
<stop offset="0.7143" stop-color="#30d070"/><stop offset="0.8571" stop-color="#1090a0"/>
<stop offset="0.8572" stop-color="#0068d0"/><stop offset="1" stop-color="#0008a0"/>
</linearGradient>
<linearGradient id="cbb" x1="0" x2="1" y1="0" y2="0">
<stop offset="0" stop-color="#a00000"/><stop offset="0.1999" stop-color="#e82000"/>
<stop offset="0.2" stop-color="#ff3000"/><stop offset="0.3999" stop-color="#ffa800"/>
<stop offset="0.4" stop-color="#f0e000"/><stop offset="0.5999" stop-color="#d8f000"/>
<stop offset="0.6" stop-color="#c0f000"/><stop offset="0.7999" stop-color="#30d070"/>
<stop offset="0.8" stop-color="#10b090"/><stop offset="1" stop-color="#0010b0"/>
</linearGradient>
</defs><rect x="129.20" y="195.30" width="178.40" height="5.80" fill="url(#cba)" stroke="#222" stroke-width="0.8"/><line x1="129.20" y1="195.30" x2="129.20" y2="204.00" stroke="#222" stroke-width="0.7"/><text x="129.60" y="213.10" font-size="7.7" text-anchor="middle" font-family='"Liberation Sans", sans-serif' fill="#1a1a1a" >17</text><line x1="154.69" y1="195.30" x2="154.69" y2="204.00" stroke="#222" stroke-width="0.7"/><text x="155.09" y="213.10" font-size="7.7" text-anchor="middle" font-family='"Liberation Sans", sans-serif' fill="#1a1a1a" >18</text><line x1="180.17" y1="195.30" x2="180.17" y2="204.00" stroke="#222" stroke-width="0.7"/><text x="180.57" y="213.10" font-size="7.7" text-anchor="middle" font-family='"Liberation Sans", sans-serif' fill="#1a1a1a" >19</text><line x1="205.66" y1="195.30" x2="205.66" y2="204.00" stroke="#222" stroke-width="0.7"/><text x="206.06" y="213.10" font-size="7.7" text-anchor="middle" font-family='"Liberation Sans", sans-serif' fill="#1a1a1a" >20</text><line x1="231.14" y1="195.30" x2="231.14" y2="204.00" stroke="#222" stroke-width="0.7"/><text x="231.54" y="213.10" font-size="7.7" text-anchor="middle" font-family='"Liberation Sans", sans-serif' fill="#1a1a1a" >21</text><line x1="256.63" y1="195.30" x2="256.63" y2="204.00" stroke="#222" stroke-width="0.7"/><text x="257.03" y="213.10" font-size="7.7" text-anchor="middle" font-family='"Liberation Sans", sans-serif' fill="#1a1a1a" >22</text><line x1="282.11" y1="195.30" x2="282.11" y2="204.00" stroke="#222" stroke-width="0.7"/><text x="282.51" y="213.10" font-size="7.7" text-anchor="middle" font-family='"Liberation Sans", sans-serif' fill="#1a1a1a" >23</text><line x1="307.60" y1="195.30" x2="307.60" y2="204.00" stroke="#222" stroke-width="0.7"/><text x="308.00" y="213.10" font-size="7.7" text-anchor="middle" font-family='"Liberation Sans", sans-serif' fill="#1a1a1a" >24</text><text x="123.40" y="213.10" font-size="10.3" text-anchor="end" font-family='"Liberation Sans", sans-serif' fill="#1a1a1a"  textLength="20.5" lengthAdjust="spacingAndGlyphs">Apr.</text><rect x="483.30" y="192.30" width="179.00" height="5.30" fill="url(#cbb)" stroke="#222" stroke-width="0.8"/><line x1="483.30" y1="192.30" x2="483.30" y2="200.50" stroke="#222" stroke-width="0.7"/><text x="483.70" y="210.10" font-size="7.7" text-anchor="middle" font-family='"Liberation Sans", sans-serif' fill="#1a1a1a" >17</text><line x1="519.10" y1="192.30" x2="519.10" y2="200.50" stroke="#222" stroke-width="0.7"/><text x="519.50" y="210.10" font-size="7.7" text-anchor="middle" font-family='"Liberation Sans", sans-serif' fill="#1a1a1a" >18</text><line x1="554.90" y1="192.30" x2="554.90" y2="200.50" stroke="#222" stroke-width="0.7"/><text x="555.30" y="210.10" font-size="7.7" text-anchor="middle" font-family='"Liberation Sans", sans-serif' fill="#1a1a1a" >19</text><line x1="590.70" y1="192.30" x2="590.70" y2="200.50" stroke="#222" stroke-width="0.7"/><text x="591.10" y="210.10" font-size="7.7" text-anchor="middle" font-family='"Liberation Sans", sans-serif' fill="#1a1a1a" >20</text><line x1="626.50" y1="192.30" x2="626.50" y2="200.50" stroke="#222" stroke-width="0.7"/><text x="626.90" y="210.10" font-size="7.7" text-anchor="middle" font-family='"Liberation Sans", sans-serif' fill="#1a1a1a" >21</text><line x1="662.30" y1="192.30" x2="662.30" y2="200.50" stroke="#222" stroke-width="0.7"/><text x="662.70" y="210.10" font-size="7.7" text-anchor="middle" font-family='"Liberation Sans", sans-serif' fill="#1a1a1a" >22</text><text x="478.00" y="210.10" font-size="10.3" text-anchor="end" font-family='"Liberation Sans", sans-serif' fill="#1a1a1a"  textLength="21.6" lengthAdjust="spacingAndGlyphs">Dec.</text><rect x="40.30" y="229.30" width="145.40" height="241.60" fill="#fff" stroke="none" stroke-width="0"/><line x1="52.38" y1="225.80" x2="52.38" y2="474.40" stroke="#6a6a6a" stroke-width="1.0"/><line x1="82.58" y1="225.80" x2="82.58" y2="474.40" stroke="#6a6a6a" stroke-width="1.0"/><line x1="112.78" y1="225.80" x2="112.78" y2="474.40" stroke="#6a6a6a" stroke-width="1.0"/><line x1="142.98" y1="225.80" x2="142.98" y2="474.40" stroke="#6a6a6a" stroke-width="1.0"/><line x1="173.18" y1="225.80" x2="173.18" y2="474.40" stroke="#6a6a6a" stroke-width="1.0"/><line x1="36.80" y1="289.70" x2="189.20" y2="289.70" stroke="#6a6a6a" stroke-width="1.0"/><line x1="36.80" y1="350.10" x2="189.20" y2="350.10" stroke="#6a6a6a" stroke-width="1.0"/><line x1="36.80" y1="410.50" x2="189.20" y2="410.50" stroke="#6a6a6a" stroke-width="1.0"/><line x1="52.38" y1="225.80" x2="52.38" y2="229.30" stroke="#444" stroke-width="0.8"/><line x1="52.38" y1="470.90" x2="52.38" y2="474.40" stroke="#444" stroke-width="0.8"/><line x1="82.58" y1="225.80" x2="82.58" y2="229.30" stroke="#444" stroke-width="0.8"/><line x1="82.58" y1="470.90" x2="82.58" y2="474.40" stroke="#444" stroke-width="0.8"/><line x1="112.78" y1="225.80" x2="112.78" y2="229.30" stroke="#444" stroke-width="0.8"/><line x1="112.78" y1="470.90" x2="112.78" y2="474.40" stroke="#444" stroke-width="0.8"/><line x1="142.98" y1="225.80" x2="142.98" y2="229.30" stroke="#444" stroke-width="0.8"/><line x1="142.98" y1="470.90" x2="142.98" y2="474.40" stroke="#444" stroke-width="0.8"/><line x1="173.18" y1="225.80" x2="173.18" y2="229.30" stroke="#444" stroke-width="0.8"/><line x1="173.18" y1="470.90" x2="173.18" y2="474.40" stroke="#444" stroke-width="0.8"/><line x1="36.80" y1="229.30" x2="40.30" y2="229.30" stroke="#444" stroke-width="0.8"/><line x1="185.70" y1="229.30" x2="189.20" y2="229.30" stroke="#444" stroke-width="0.8"/><line x1="36.80" y1="259.50" x2="40.30" y2="259.50" stroke="#444" stroke-width="0.8"/><line x1="185.70" y1="259.50" x2="189.20" y2="259.50" stroke="#444" stroke-width="0.8"/><line x1="36.80" y1="289.70" x2="40.30" y2="289.70" stroke="#444" stroke-width="0.8"/><line x1="185.70" y1="289.70" x2="189.20" y2="289.70" stroke="#444" stroke-width="0.8"/><line x1="36.80" y1="319.90" x2="40.30" y2="319.90" stroke="#444" stroke-width="0.8"/><line x1="185.70" y1="319.90" x2="189.20" y2="319.90" stroke="#444" stroke-width="0.8"/><line x1="36.80" y1="350.10" x2="40.30" y2="350.10" stroke="#444" stroke-width="0.8"/><line x1="185.70" y1="350.10" x2="189.20" y2="350.10" stroke="#444" stroke-width="0.8"/><line x1="36.80" y1="380.30" x2="40.30" y2="380.30" stroke="#444" stroke-width="0.8"/><line x1="185.70" y1="380.30" x2="189.20" y2="380.30" stroke="#444" stroke-width="0.8"/><line x1="36.80" y1="410.50" x2="40.30" y2="410.50" stroke="#444" stroke-width="0.8"/><line x1="185.70" y1="410.50" x2="189.20" y2="410.50" stroke="#444" stroke-width="0.8"/><line x1="36.80" y1="440.70" x2="40.30" y2="440.70" stroke="#444" stroke-width="0.8"/><line x1="185.70" y1="440.70" x2="189.20" y2="440.70" stroke="#444" stroke-width="0.8"/><line x1="36.80" y1="470.90" x2="40.30" y2="470.90" stroke="#444" stroke-width="0.8"/><line x1="185.70" y1="470.90" x2="189.20" y2="470.90" stroke="#444" stroke-width="0.8"/><circle cx="78.4" cy="314.0" r="2.45" fill="#e6f400" stroke="#1a1a1a" stroke-width="0.65"/><circle cx="63.2" cy="320.0" r="2.45" fill="#e6f400" stroke="#1a1a1a" stroke-width="0.65"/><circle cx="77.3" cy="320.0" r="2.45" fill="#e6f400" stroke="#1a1a1a" stroke-width="0.65"/><circle cx="81.2" cy="323.1" r="2.45" fill="#ff8800" stroke="#1a1a1a" stroke-width="0.65"/><circle cx="73.7" cy="326.2" r="2.45" fill="#e6f400" stroke="#1a1a1a" stroke-width="0.65"/><circle cx="55.8" cy="329.2" r="2.45" fill="#e6f400" stroke="#1a1a1a" stroke-width="0.65"/><circle cx="69.8" cy="331.9" r="2.45" fill="#f81a00" stroke="#1a1a1a" stroke-width="0.65"/><circle cx="59.3" cy="334.7" r="2.45" fill="#e6f400" stroke="#1a1a1a" stroke-width="0.65"/><circle cx="63.2" cy="334.7" r="2.45" fill="#e6f400" stroke="#1a1a1a" stroke-width="0.65"/><circle cx="66.5" cy="334.7" r="2.45" fill="#e6f400" stroke="#1a1a1a" stroke-width="0.65"/><circle cx="101.9" cy="329.2" r="2.45" fill="#e6f400" stroke="#1a1a1a" stroke-width="0.65"/><circle cx="107.1" cy="326.1" r="2.45" fill="#e6f400" stroke="#1a1a1a" stroke-width="0.65"/><circle cx="113.5" cy="310.9" r="2.45" fill="#e6f400" stroke="#1a1a1a" stroke-width="0.65"/><circle cx="133.9" cy="262.7" r="2.45" fill="#e6f400" stroke="#1a1a1a" stroke-width="0.65"/><circle cx="127.3" cy="271.7" r="2.45" fill="#e6f400" stroke="#1a1a1a" stroke-width="0.65"/><circle cx="123.3" cy="277.9" r="2.45" fill="#e6f400" stroke="#1a1a1a" stroke-width="0.65"/><circle cx="151.5" cy="277.9" r="2.45" fill="#e6f400" stroke="#1a1a1a" stroke-width="0.65"/><circle cx="118.4" cy="296.0" r="2.45" fill="#e6f400" stroke="#1a1a1a" stroke-width="0.65"/><circle cx="130.0" cy="301.9" r="2.45" fill="#e6f400" stroke="#1a1a1a" stroke-width="0.65"/><circle cx="136.8" cy="301.9" r="2.45" fill="#e6f400" stroke="#1a1a1a" stroke-width="0.65"/><circle cx="113.8" cy="311.1" r="2.45" fill="#e6f400" stroke="#1a1a1a" stroke-width="0.65"/><circle cx="136.8" cy="311.1" r="2.45" fill="#e6f400" stroke="#1a1a1a" stroke-width="0.65"/><circle cx="61.4" cy="341.3" r="2.45" fill="#ff8800" stroke="#1a1a1a" stroke-width="0.65"/><circle cx="77.1" cy="344.1" r="2.45" fill="#f81a00" stroke="#1a1a1a" stroke-width="0.65"/><circle cx="77.3" cy="347.3" r="2.45" fill="#f81a00" stroke="#1a1a1a" stroke-width="0.65"/><circle cx="85.2" cy="347.3" r="2.45" fill="#f81a00" stroke="#1a1a1a" stroke-width="0.65"/><circle cx="115.9" cy="335.1" r="2.45" fill="#f81a00" stroke="#1a1a1a" stroke-width="0.65"/><circle cx="114.5" cy="338.3" r="2.45" fill="#e6f400" stroke="#1a1a1a" stroke-width="0.65"/><circle cx="111.4" cy="344.3" r="2.45" fill="#f81a00" stroke="#1a1a1a" stroke-width="0.65"/><circle cx="113.7" cy="344.3" r="2.45" fill="#e6f400" stroke="#1a1a1a" stroke-width="0.65"/><circle cx="58.1" cy="350.4" r="2.45" fill="#e6f400" stroke="#1a1a1a" stroke-width="0.65"/><circle cx="61.9" cy="350.4" r="2.45" fill="#e6f400" stroke="#1a1a1a" stroke-width="0.65"/><circle cx="50.6" cy="353.4" r="2.45" fill="#e6f400" stroke="#1a1a1a" stroke-width="0.65"/><circle cx="79.5" cy="356.1" r="2.45" fill="#f81a00" stroke="#1a1a1a" stroke-width="0.65"/><circle cx="78.3" cy="359.2" r="2.45" fill="#f81a00" stroke="#1a1a1a" stroke-width="0.65"/><circle cx="69.5" cy="359.2" r="2.45" fill="#ff8800" stroke="#1a1a1a" stroke-width="0.65"/><circle cx="59.3" cy="362.4" r="2.45" fill="#ff8800" stroke="#1a1a1a" stroke-width="0.65"/><circle cx="78.3" cy="365.4" r="2.45" fill="#f81a00" stroke="#1a1a1a" stroke-width="0.65"/><circle cx="94.2" cy="356.1" r="2.45" fill="#e6f400" stroke="#1a1a1a" stroke-width="0.65"/><circle cx="97.0" cy="356.1" r="2.45" fill="#f81a00" stroke="#1a1a1a" stroke-width="0.65"/><circle cx="94.2" cy="359.4" r="2.45" fill="#f81a00" stroke="#1a1a1a" stroke-width="0.65"/><circle cx="108.9" cy="359.2" r="2.45" fill="#ff8800" stroke="#1a1a1a" stroke-width="0.65"/><circle cx="105.7" cy="362.4" r="2.45" fill="#e6f400" stroke="#1a1a1a" stroke-width="0.65"/><circle cx="99.0" cy="365.4" r="2.45" fill="#f81a00" stroke="#1a1a1a" stroke-width="0.65"/><circle cx="52.7" cy="368.2" r="2.45" fill="#ff8800" stroke="#1a1a1a" stroke-width="0.65"/><circle cx="89.4" cy="368.2" r="2.45" fill="#f81a00" stroke="#1a1a1a" stroke-width="0.65"/><circle cx="98.4" cy="368.2" r="2.45" fill="#e6f400" stroke="#1a1a1a" stroke-width="0.65"/><circle cx="105.7" cy="368.2" r="2.45" fill="#e6f400" stroke="#1a1a1a" stroke-width="0.65"/><circle cx="117.1" cy="368.2" r="2.45" fill="#f81a00" stroke="#1a1a1a" stroke-width="0.65"/><circle cx="129.9" cy="316.9" r="2.45" fill="#e6f400" stroke="#1a1a1a" stroke-width="0.65"/><circle cx="125.3" cy="320.1" r="2.45" fill="#e6f400" stroke="#1a1a1a" stroke-width="0.65"/><circle cx="143.5" cy="323.1" r="2.45" fill="#e6f400" stroke="#1a1a1a" stroke-width="0.65"/><circle cx="131.3" cy="326.1" r="2.45" fill="#e6f400" stroke="#1a1a1a" stroke-width="0.65"/><circle cx="132.5" cy="332.2" r="2.45" fill="#e6f400" stroke="#1a1a1a" stroke-width="0.65"/><circle cx="139.5" cy="332.2" r="2.45" fill="#e6f400" stroke="#1a1a1a" stroke-width="0.65"/><circle cx="129.3" cy="338.3" r="2.45" fill="#e6f400" stroke="#1a1a1a" stroke-width="0.65"/><circle cx="123.5" cy="341.3" r="2.45" fill="#e6f400" stroke="#1a1a1a" stroke-width="0.65"/><circle cx="127.8" cy="341.3" r="2.45" fill="#e6f400" stroke="#1a1a1a" stroke-width="0.65"/><circle cx="122.4" cy="344.3" r="2.45" fill="#e6f400" stroke="#1a1a1a" stroke-width="0.65"/><circle cx="131.7" cy="347.3" r="2.45" fill="#e6f400" stroke="#1a1a1a" stroke-width="0.65"/><circle cx="133.9" cy="347.3" r="2.45" fill="#e6f400" stroke="#1a1a1a" stroke-width="0.65"/><circle cx="129.9" cy="353.4" r="2.45" fill="#e6f400" stroke="#1a1a1a" stroke-width="0.65"/><circle cx="131.7" cy="356.3" r="2.45" fill="#e6f400" stroke="#1a1a1a" stroke-width="0.65"/><circle cx="135.3" cy="356.3" r="2.45" fill="#e6f400" stroke="#1a1a1a" stroke-width="0.65"/><circle cx="141.9" cy="356.3" r="2.45" fill="#e6f400" stroke="#1a1a1a" stroke-width="0.65"/><circle cx="123.0" cy="359.0" r="2.45" fill="#e6f400" stroke="#1a1a1a" stroke-width="0.65"/><circle cx="184.5" cy="359.0" r="2.45" fill="#e6f400" stroke="#1a1a1a" stroke-width="0.65"/><circle cx="53.0" cy="371.3" r="2.45" fill="#e6f400" stroke="#1a1a1a" stroke-width="0.65"/><circle cx="57.5" cy="371.3" r="2.45" fill="#a00000" stroke="#1a1a1a" stroke-width="0.65"/><circle cx="63.9" cy="371.3" r="2.45" fill="#f81a00" stroke="#1a1a1a" stroke-width="0.65"/><circle cx="68.3" cy="371.3" r="2.45" fill="#ff8800" stroke="#1a1a1a" stroke-width="0.65"/><circle cx="86.4" cy="371.3" r="2.45" fill="#f81a00" stroke="#1a1a1a" stroke-width="0.65"/><circle cx="96.4" cy="371.3" r="2.45" fill="#f81a00" stroke="#1a1a1a" stroke-width="0.65"/><circle cx="99.0" cy="374.3" r="2.45" fill="#f81a00" stroke="#1a1a1a" stroke-width="0.65"/><circle cx="103.9" cy="374.3" r="2.45" fill="#e6f400" stroke="#1a1a1a" stroke-width="0.65"/><circle cx="108.7" cy="374.3" r="2.45" fill="#f81a00" stroke="#1a1a1a" stroke-width="0.65"/><circle cx="113.5" cy="371.3" r="2.45" fill="#e6f400" stroke="#1a1a1a" stroke-width="0.65"/><circle cx="117.1" cy="371.3" r="2.45" fill="#e6f400" stroke="#1a1a1a" stroke-width="0.65"/><circle cx="117.7" cy="374.3" r="2.45" fill="#e6f400" stroke="#1a1a1a" stroke-width="0.65"/><circle cx="113.5" cy="374.3" r="2.45" fill="#f81a00" stroke="#1a1a1a" stroke-width="0.65"/><circle cx="86.4" cy="374.3" r="2.45" fill="#f81a00" stroke="#1a1a1a" stroke-width="0.65"/><circle cx="74.9" cy="377.3" r="2.45" fill="#f81a00" stroke="#1a1a1a" stroke-width="0.65"/><circle cx="81.9" cy="377.3" r="2.45" fill="#a00000" stroke="#1a1a1a" stroke-width="0.65"/><circle cx="88.2" cy="377.3" r="2.45" fill="#f81a00" stroke="#1a1a1a" stroke-width="0.65"/><circle cx="96.0" cy="377.3" r="2.45" fill="#f81a00" stroke="#1a1a1a" stroke-width="0.65"/><circle cx="106.3" cy="377.3" r="2.45" fill="#e6f400" stroke="#1a1a1a" stroke-width="0.65"/><circle cx="59.6" cy="380.3" r="2.45" fill="#ff8800" stroke="#1a1a1a" stroke-width="0.65"/><circle cx="81.3" cy="380.3" r="2.45" fill="#f81a00" stroke="#1a1a1a" stroke-width="0.65"/><circle cx="105.7" cy="380.3" r="2.45" fill="#f81a00" stroke="#1a1a1a" stroke-width="0.65"/><circle cx="111.1" cy="380.3" r="2.45" fill="#f81a00" stroke="#1a1a1a" stroke-width="0.65"/><circle cx="117.1" cy="380.3" r="2.45" fill="#f81a00" stroke="#1a1a1a" stroke-width="0.65"/><circle cx="64.1" cy="383.6" r="2.45" fill="#f81a00" stroke="#1a1a1a" stroke-width="0.65"/><circle cx="66.7" cy="383.6" r="2.45" fill="#f81a00" stroke="#1a1a1a" stroke-width="0.65"/><circle cx="79.2" cy="383.6" r="2.45" fill="#f81a00" stroke="#1a1a1a" stroke-width="0.65"/><circle cx="83.4" cy="383.6" r="2.45" fill="#f81a00" stroke="#1a1a1a" stroke-width="0.65"/><circle cx="94.2" cy="383.6" r="2.45" fill="#f81a00" stroke="#1a1a1a" stroke-width="0.65"/><circle cx="75.9" cy="386.6" r="2.45" fill="#f81a00" stroke="#1a1a1a" stroke-width="0.65"/><circle cx="81.0" cy="386.6" r="2.45" fill="#f81a00" stroke="#1a1a1a" stroke-width="0.65"/><circle cx="87.6" cy="386.6" r="2.45" fill="#f81a00" stroke="#1a1a1a" stroke-width="0.65"/><circle cx="99.3" cy="386.6" r="2.45" fill="#f81a00" stroke="#1a1a1a" stroke-width="0.65"/><circle cx="57.2" cy="389.6" r="2.45" fill="#ff8800" stroke="#1a1a1a" stroke-width="0.65"/><circle cx="65.3" cy="389.6" r="2.45" fill="#f81a00" stroke="#1a1a1a" stroke-width="0.65"/><circle cx="75.9" cy="389.6" r="2.45" fill="#f81a00" stroke="#1a1a1a" stroke-width="0.65"/><circle cx="105.7" cy="389.6" r="2.45" fill="#f81a00" stroke="#1a1a1a" stroke-width="0.65"/><circle cx="114.5" cy="389.3" r="2.45" fill="#f81a00" stroke="#1a1a1a" stroke-width="0.65"/><circle cx="117.7" cy="389.9" r="2.45" fill="#1482e0" stroke="#1a1a1a" stroke-width="0.65"/><circle cx="63.5" cy="392.6" r="2.45" fill="#f81a00" stroke="#1a1a1a" stroke-width="0.65"/><circle cx="71.1" cy="392.6" r="2.45" fill="#ff8800" stroke="#1a1a1a" stroke-width="0.65"/><circle cx="80.1" cy="392.6" r="2.45" fill="#f81a00" stroke="#1a1a1a" stroke-width="0.65"/><circle cx="88.8" cy="392.6" r="2.45" fill="#f81a00" stroke="#1a1a1a" stroke-width="0.65"/><circle cx="97.0" cy="392.6" r="2.45" fill="#e6f400" stroke="#1a1a1a" stroke-width="0.65"/><circle cx="112.9" cy="392.6" r="2.45" fill="#e6f400" stroke="#1a1a1a" stroke-width="0.65"/><circle cx="117.7" cy="392.6" r="2.45" fill="#1482e0" stroke="#1a1a1a" stroke-width="0.65"/><circle cx="71.1" cy="395.6" r="2.45" fill="#f81a00" stroke="#1a1a1a" stroke-width="0.65"/><circle cx="69.5" cy="395.6" r="2.45" fill="#ff8800" stroke="#1a1a1a" stroke-width="0.65"/><circle cx="74.7" cy="395.6" r="2.45" fill="#f81a00" stroke="#1a1a1a" stroke-width="0.65"/><circle cx="112.0" cy="395.6" r="2.45" fill="#f81a00" stroke="#1a1a1a" stroke-width="0.65"/><circle cx="63.3" cy="398.6" r="2.45" fill="#ff8800" stroke="#1a1a1a" stroke-width="0.65"/><circle cx="69.5" cy="398.6" r="2.45" fill="#f81a00" stroke="#1a1a1a" stroke-width="0.65"/><circle cx="82.4" cy="398.6" r="2.45" fill="#f81a00" stroke="#1a1a1a" stroke-width="0.65"/><circle cx="97.6" cy="398.6" r="2.45" fill="#f81a00" stroke="#1a1a1a" stroke-width="0.65"/><circle cx="103.6" cy="398.6" r="2.45" fill="#f81a00" stroke="#1a1a1a" stroke-width="0.65"/><circle cx="112.0" cy="398.6" r="2.45" fill="#f81a00" stroke="#1a1a1a" stroke-width="0.65"/><circle cx="46.6" cy="401.6" r="2.45" fill="#ff8800" stroke="#1a1a1a" stroke-width="0.65"/><circle cx="66.5" cy="401.6" r="2.45" fill="#ff8800" stroke="#1a1a1a" stroke-width="0.65"/><circle cx="87.6" cy="404.4" r="2.45" fill="#a00000" stroke="#1a1a1a" stroke-width="0.65"/><circle cx="115.3" cy="404.4" r="2.45" fill="#1482e0" stroke="#1a1a1a" stroke-width="0.65"/><circle cx="55.7" cy="407.7" r="2.45" fill="#f81a00" stroke="#1a1a1a" stroke-width="0.65"/><circle cx="84.8" cy="407.7" r="2.45" fill="#f81a00" stroke="#1a1a1a" stroke-width="0.65"/><circle cx="90.4" cy="407.7" r="2.45" fill="#f81a00" stroke="#1a1a1a" stroke-width="0.65"/><circle cx="108.1" cy="407.7" r="2.45" fill="#f81a00" stroke="#1a1a1a" stroke-width="0.65"/><circle cx="110.8" cy="407.7" r="2.45" fill="#f81a00" stroke="#1a1a1a" stroke-width="0.65"/><circle cx="91.2" cy="410.7" r="2.45" fill="#f81a00" stroke="#1a1a1a" stroke-width="0.65"/><circle cx="101.4" cy="410.7" r="2.45" fill="#ff8800" stroke="#1a1a1a" stroke-width="0.65"/><circle cx="55.4" cy="414.0" r="2.45" fill="#ff8800" stroke="#1a1a1a" stroke-width="0.65"/><circle cx="73.7" cy="414.0" r="2.45" fill="#f81a00" stroke="#1a1a1a" stroke-width="0.65"/><circle cx="106.9" cy="414.0" r="2.45" fill="#f81a00" stroke="#1a1a1a" stroke-width="0.65"/><circle cx="111.1" cy="414.0" r="2.45" fill="#1482e0" stroke="#1a1a1a" stroke-width="0.65"/><circle cx="114.7" cy="414.0" r="2.45" fill="#1482e0" stroke="#1a1a1a" stroke-width="0.65"/><circle cx="124.5" cy="362.0" r="2.45" fill="#e6f400" stroke="#1a1a1a" stroke-width="0.65"/><circle cx="128.7" cy="362.0" r="2.45" fill="#e6f400" stroke="#1a1a1a" stroke-width="0.65"/><circle cx="121.4" cy="365.4" r="2.45" fill="#e6f400" stroke="#1a1a1a" stroke-width="0.65"/><circle cx="125.4" cy="365.4" r="2.45" fill="#e6f400" stroke="#1a1a1a" stroke-width="0.65"/><circle cx="130.5" cy="365.4" r="2.45" fill="#f81a00" stroke="#1a1a1a" stroke-width="0.65"/><circle cx="134.7" cy="365.4" r="2.45" fill="#f81a00" stroke="#1a1a1a" stroke-width="0.65"/><circle cx="138.9" cy="365.4" r="2.45" fill="#f81a00" stroke="#1a1a1a" stroke-width="0.65"/><circle cx="117.5" cy="368.3" r="2.45" fill="#f81a00" stroke="#1a1a1a" stroke-width="0.65"/><circle cx="123.9" cy="368.7" r="2.45" fill="#f81a00" stroke="#1a1a1a" stroke-width="0.65"/><circle cx="127.8" cy="368.3" r="2.45" fill="#1482e0" stroke="#1a1a1a" stroke-width="0.65"/><circle cx="132.3" cy="368.7" r="2.45" fill="#f81a00" stroke="#1a1a1a" stroke-width="0.65"/><circle cx="141.3" cy="368.3" r="2.45" fill="#2ee64c" stroke="#1a1a1a" stroke-width="0.65"/><circle cx="149.5" cy="368.3" r="2.45" fill="#2ee64c" stroke="#1a1a1a" stroke-width="0.65"/><circle cx="113.4" cy="371.4" r="2.45" fill="#e6f400" stroke="#1a1a1a" stroke-width="0.65"/><circle cx="117.5" cy="371.4" r="2.45" fill="#e6f400" stroke="#1a1a1a" stroke-width="0.65"/><circle cx="126.6" cy="371.4" r="2.45" fill="#e6f400" stroke="#1a1a1a" stroke-width="0.65"/><circle cx="144.3" cy="371.4" r="2.45" fill="#f81a00" stroke="#1a1a1a" stroke-width="0.65"/><circle cx="112.7" cy="374.7" r="2.45" fill="#f81a00" stroke="#1a1a1a" stroke-width="0.65"/><circle cx="117.5" cy="374.7" r="2.45" fill="#e6f400" stroke="#1a1a1a" stroke-width="0.65"/><circle cx="125.7" cy="374.7" r="2.45" fill="#f81a00" stroke="#1a1a1a" stroke-width="0.65"/><circle cx="128.7" cy="374.7" r="2.45" fill="#f81a00" stroke="#1a1a1a" stroke-width="0.65"/><circle cx="134.7" cy="374.7" r="2.45" fill="#2ee64c" stroke="#1a1a1a" stroke-width="0.65"/><circle cx="120.2" cy="377.7" r="2.45" fill="#e6f400" stroke="#1a1a1a" stroke-width="0.65"/><circle cx="126.3" cy="377.5" r="2.45" fill="#e6f400" stroke="#1a1a1a" stroke-width="0.65"/><circle cx="127.8" cy="377.5" r="2.45" fill="#2ee64c" stroke="#1a1a1a" stroke-width="0.65"/><circle cx="140.5" cy="377.5" r="2.45" fill="#ff8800" stroke="#1a1a1a" stroke-width="0.65"/><circle cx="146.1" cy="377.5" r="2.45" fill="#e6f400" stroke="#1a1a1a" stroke-width="0.65"/><circle cx="111.2" cy="380.7" r="2.45" fill="#f81a00" stroke="#1a1a1a" stroke-width="0.65"/><circle cx="117.0" cy="380.7" r="2.45" fill="#f81a00" stroke="#1a1a1a" stroke-width="0.65"/><circle cx="132.7" cy="380.7" r="2.45" fill="#f81a00" stroke="#1a1a1a" stroke-width="0.65"/><circle cx="129.0" cy="383.5" r="2.45" fill="#2ee64c" stroke="#1a1a1a" stroke-width="0.65"/><circle cx="133.5" cy="383.5" r="2.45" fill="#f81a00" stroke="#1a1a1a" stroke-width="0.65"/><circle cx="149.8" cy="383.5" r="2.45" fill="#e6f400" stroke="#1a1a1a" stroke-width="0.65"/><circle cx="157.6" cy="383.5" r="2.45" fill="#e6f400" stroke="#1a1a1a" stroke-width="0.65"/><circle cx="131.9" cy="386.7" r="2.45" fill="#e6f400" stroke="#1a1a1a" stroke-width="0.65"/><circle cx="133.9" cy="386.7" r="2.45" fill="#f81a00" stroke="#1a1a1a" stroke-width="0.65"/><circle cx="140.1" cy="386.7" r="2.45" fill="#f81a00" stroke="#1a1a1a" stroke-width="0.65"/><circle cx="144.9" cy="386.7" r="2.45" fill="#2ee64c" stroke="#1a1a1a" stroke-width="0.65"/><circle cx="152.2" cy="386.7" r="2.45" fill="#2ee64c" stroke="#1a1a1a" stroke-width="0.65"/><circle cx="157.2" cy="386.7" r="2.45" fill="#e6f400" stroke="#1a1a1a" stroke-width="0.65"/><circle cx="120.6" cy="386.7" r="2.45" fill="#1482e0" stroke="#1a1a1a" stroke-width="0.65"/><circle cx="114.2" cy="389.5" r="2.45" fill="#f81a00" stroke="#1a1a1a" stroke-width="0.65"/><circle cx="117.5" cy="389.5" r="2.45" fill="#1482e0" stroke="#1a1a1a" stroke-width="0.65"/><circle cx="127.5" cy="389.5" r="2.45" fill="#f81a00" stroke="#1a1a1a" stroke-width="0.65"/><circle cx="156.4" cy="389.5" r="2.45" fill="#f81a00" stroke="#1a1a1a" stroke-width="0.65"/><circle cx="113.4" cy="392.5" r="2.45" fill="#e6f400" stroke="#1a1a1a" stroke-width="0.65"/><circle cx="117.8" cy="392.5" r="2.45" fill="#1482e0" stroke="#1a1a1a" stroke-width="0.65"/><circle cx="151.0" cy="395.5" r="2.45" fill="#e6f400" stroke="#1a1a1a" stroke-width="0.65"/><circle cx="127.8" cy="395.5" r="2.45" fill="#1482e0" stroke="#1a1a1a" stroke-width="0.65"/><circle cx="111.8" cy="396.1" r="2.45" fill="#f81a00" stroke="#1a1a1a" stroke-width="0.65"/><circle cx="111.8" cy="398.8" r="2.45" fill="#f81a00" stroke="#1a1a1a" stroke-width="0.65"/><circle cx="127.5" cy="398.8" r="2.45" fill="#f81a00" stroke="#1a1a1a" stroke-width="0.65"/><circle cx="131.7" cy="398.8" r="2.45" fill="#f81a00" stroke="#1a1a1a" stroke-width="0.65"/><circle cx="121.8" cy="401.6" r="2.45" fill="#1482e0" stroke="#1a1a1a" stroke-width="0.65"/><circle cx="138.0" cy="401.8" r="2.45" fill="#f81a00" stroke="#1a1a1a" stroke-width="0.65"/><circle cx="115.1" cy="404.8" r="2.45" fill="#1482e0" stroke="#1a1a1a" stroke-width="0.65"/><circle cx="124.5" cy="404.8" r="2.45" fill="#1482e0" stroke="#1a1a1a" stroke-width="0.65"/><circle cx="135.1" cy="404.8" r="2.45" fill="#e6f400" stroke="#1a1a1a" stroke-width="0.65"/><circle cx="145.9" cy="404.8" r="2.45" fill="#2ee64c" stroke="#1a1a1a" stroke-width="0.65"/><circle cx="111.2" cy="407.6" r="2.45" fill="#f81a00" stroke="#1a1a1a" stroke-width="0.65"/><circle cx="123.3" cy="409.3" r="2.45" fill="#f81a00" stroke="#1a1a1a" stroke-width="0.65"/><circle cx="110.5" cy="413.9" r="2.45" fill="#1482e0" stroke="#1a1a1a" stroke-width="0.65"/><circle cx="115.3" cy="413.9" r="2.45" fill="#1482e0" stroke="#1a1a1a" stroke-width="0.65"/><circle cx="118.3" cy="416.9" r="2.45" fill="#1482e0" stroke="#1a1a1a" stroke-width="0.65"/><circle cx="89.8" cy="416.9" r="2.45" fill="#a00000" stroke="#1a1a1a" stroke-width="0.65"/><circle cx="64.1" cy="419.9" r="2.45" fill="#f81a00" stroke="#1a1a1a" stroke-width="0.65"/><circle cx="68.6" cy="419.9" r="2.45" fill="#ff8800" stroke="#1a1a1a" stroke-width="0.65"/><circle cx="108.7" cy="419.9" r="2.45" fill="#1482e0" stroke="#1a1a1a" stroke-width="0.65"/><circle cx="112.9" cy="419.9" r="2.45" fill="#f81a00" stroke="#1a1a1a" stroke-width="0.65"/><circle cx="115.7" cy="419.9" r="2.45" fill="#1482e0" stroke="#1a1a1a" stroke-width="0.65"/><circle cx="81.9" cy="422.7" r="2.45" fill="#f81a00" stroke="#1a1a1a" stroke-width="0.65"/><circle cx="99.6" cy="422.7" r="2.45" fill="#f81a00" stroke="#1a1a1a" stroke-width="0.65"/><circle cx="103.5" cy="422.7" r="2.45" fill="#ff8800" stroke="#1a1a1a" stroke-width="0.65"/><circle cx="112.9" cy="423.0" r="2.45" fill="#f81a00" stroke="#1a1a1a" stroke-width="0.65"/><circle cx="83.1" cy="425.9" r="2.45" fill="#e6f400" stroke="#1a1a1a" stroke-width="0.65"/><circle cx="105.7" cy="425.9" r="2.45" fill="#f81a00" stroke="#1a1a1a" stroke-width="0.65"/><circle cx="95.4" cy="428.9" r="2.45" fill="#ff8800" stroke="#1a1a1a" stroke-width="0.65"/><circle cx="91.2" cy="431.9" r="2.45" fill="#f81a00" stroke="#1a1a1a" stroke-width="0.65"/><circle cx="93.6" cy="431.9" r="2.45" fill="#f81a00" stroke="#1a1a1a" stroke-width="0.65"/><circle cx="102.7" cy="431.9" r="2.45" fill="#1482e0" stroke="#1a1a1a" stroke-width="0.65"/><circle cx="105.1" cy="434.9" r="2.45" fill="#f81a00" stroke="#1a1a1a" stroke-width="0.65"/><circle cx="108.1" cy="434.9" r="2.45" fill="#1482e0" stroke="#1a1a1a" stroke-width="0.65"/><circle cx="77.1" cy="434.9" r="2.45" fill="#f81a00" stroke="#1a1a1a" stroke-width="0.65"/><circle cx="98.4" cy="438.2" r="2.45" fill="#ff8800" stroke="#1a1a1a" stroke-width="0.65"/><circle cx="112.9" cy="438.2" r="2.45" fill="#1482e0" stroke="#1a1a1a" stroke-width="0.65"/><circle cx="115.7" cy="438.2" r="2.45" fill="#1482e0" stroke="#1a1a1a" stroke-width="0.65"/><circle cx="100.0" cy="444.2" r="2.45" fill="#f81a00" stroke="#1a1a1a" stroke-width="0.65"/><circle cx="112.7" cy="447.0" r="2.45" fill="#f81a00" stroke="#1a1a1a" stroke-width="0.65"/><circle cx="123.3" cy="410.7" r="2.45" fill="#f81a00" stroke="#1a1a1a" stroke-width="0.65"/><circle cx="106.2" cy="413.7" r="2.45" fill="#f81a00" stroke="#1a1a1a" stroke-width="0.65"/><circle cx="123.3" cy="413.7" r="2.45" fill="#f81a00" stroke="#1a1a1a" stroke-width="0.65"/><circle cx="129.7" cy="413.7" r="2.45" fill="#f81a00" stroke="#1a1a1a" stroke-width="0.65"/><circle cx="117.0" cy="416.7" r="2.45" fill="#1482e0" stroke="#1a1a1a" stroke-width="0.65"/><circle cx="124.5" cy="416.7" r="2.45" fill="#1482e0" stroke="#1a1a1a" stroke-width="0.65"/><circle cx="143.3" cy="416.7" r="2.45" fill="#2ee64c" stroke="#1a1a1a" stroke-width="0.65"/><circle cx="147.8" cy="416.7" r="2.45" fill="#f81a00" stroke="#1a1a1a" stroke-width="0.65"/><circle cx="153.2" cy="416.7" r="2.45" fill="#e6f400" stroke="#1a1a1a" stroke-width="0.65"/><circle cx="108.9" cy="419.7" r="2.45" fill="#1482e0" stroke="#1a1a1a" stroke-width="0.65"/><circle cx="115.6" cy="419.7" r="2.45" fill="#1482e0" stroke="#1a1a1a" stroke-width="0.65"/><circle cx="127.3" cy="423.0" r="2.45" fill="#f81a00" stroke="#1a1a1a" stroke-width="0.65"/><circle cx="138.7" cy="423.0" r="2.45" fill="#2ee64c" stroke="#1a1a1a" stroke-width="0.65"/><circle cx="143.3" cy="423.0" r="2.45" fill="#f81a00" stroke="#1a1a1a" stroke-width="0.65"/><circle cx="147.4" cy="419.7" r="2.45" fill="#1482e0" stroke="#1a1a1a" stroke-width="0.65"/><circle cx="147.2" cy="423.0" r="2.45" fill="#1482e0" stroke="#1a1a1a" stroke-width="0.65"/><circle cx="152.8" cy="423.0" r="2.45" fill="#e6f400" stroke="#1a1a1a" stroke-width="0.65"/><circle cx="159.8" cy="426.1" r="2.45" fill="#e6f400" stroke="#1a1a1a" stroke-width="0.65"/><circle cx="106.2" cy="426.1" r="2.45" fill="#f81a00" stroke="#1a1a1a" stroke-width="0.65"/><circle cx="124.9" cy="429.0" r="2.45" fill="#f81a00" stroke="#1a1a1a" stroke-width="0.65"/><circle cx="108.0" cy="435.0" r="2.45" fill="#1482e0" stroke="#1a1a1a" stroke-width="0.65"/><circle cx="113.2" cy="438.0" r="2.45" fill="#1482e0" stroke="#1a1a1a" stroke-width="0.65"/><circle cx="115.8" cy="438.0" r="2.45" fill="#1482e0" stroke="#1a1a1a" stroke-width="0.65"/><circle cx="112.5" cy="447.2" r="2.45" fill="#f81a00" stroke="#1a1a1a" stroke-width="0.65"/><circle cx="134.5" cy="450.2" r="2.45" fill="#1482e0" stroke="#1a1a1a" stroke-width="0.65"/><rect x="40.30" y="229.30" width="145.40" height="241.60" fill="none" stroke="#222" stroke-width="1.2"/><text x="52.38" y="483.90" font-size="8.3" text-anchor="middle" font-family='"Liberation Sans", sans-serif' fill="#1a1a1a" >−2</text><text x="82.58" y="483.90" font-size="8.3" text-anchor="middle" font-family='"Liberation Sans", sans-serif' fill="#1a1a1a" >−1</text><text x="112.78" y="483.90" font-size="8.3" text-anchor="middle" font-family='"Liberation Sans", sans-serif' fill="#1a1a1a" >0</text><text x="142.98" y="483.90" font-size="8.3" text-anchor="middle" font-family='"Liberation Sans", sans-serif' fill="#1a1a1a" >1</text><text x="173.18" y="483.90" font-size="8.3" text-anchor="middle" font-family='"Liberation Sans", sans-serif' fill="#1a1a1a" >2</text><text x="31.50" y="232.30" font-size="8.3" text-anchor="middle" font-family='"Liberation Sans", sans-serif' fill="#1a1a1a" >4</text><text x="31.50" y="262.50" font-size="8.3" text-anchor="middle" font-family='"Liberation Sans", sans-serif' fill="#1a1a1a" >5</text><text x="31.50" y="292.70" font-size="8.3" text-anchor="middle" font-family='"Liberation Sans", sans-serif' fill="#1a1a1a" >6</text><text x="31.50" y="322.90" font-size="8.3" text-anchor="middle" font-family='"Liberation Sans", sans-serif' fill="#1a1a1a" >7</text><text x="31.50" y="353.10" font-size="8.3" text-anchor="middle" font-family='"Liberation Sans", sans-serif' fill="#1a1a1a" >8</text><text x="31.50" y="383.30" font-size="8.3" text-anchor="middle" font-family='"Liberation Sans", sans-serif' fill="#1a1a1a" >9</text><text x="31.50" y="413.50" font-size="8.3" text-anchor="middle" font-family='"Liberation Sans", sans-serif' fill="#1a1a1a" >10</text><text x="31.50" y="443.70" font-size="8.3" text-anchor="middle" font-family='"Liberation Sans", sans-serif' fill="#1a1a1a" >11</text><text x="31.50" y="473.90" font-size="8.3" text-anchor="middle" font-family='"Liberation Sans", sans-serif' fill="#1a1a1a" >12</text><text x="113.00" y="495.10" font-size="10.5" text-anchor="middle" font-family='"Liberation Sans", sans-serif' fill="#1a1a1a" >AA′ [km]</text><text x="0" y="0" font-size="10" text-anchor="middle" font-family='"Liberation Sans", sans-serif' fill="#1a1a1a" transform="translate(21.2,350.7) rotate(-90)">depth [km]</text><rect x="236.60" y="229.30" width="91.00" height="241.60" fill="#fff" stroke="none" stroke-width="0"/><line x1="251.70" y1="225.80" x2="251.70" y2="474.40" stroke="#6a6a6a" stroke-width="1.0"/><line x1="281.90" y1="225.80" x2="281.90" y2="474.40" stroke="#6a6a6a" stroke-width="1.0"/><line x1="312.10" y1="225.80" x2="312.10" y2="474.40" stroke="#6a6a6a" stroke-width="1.0"/><line x1="233.10" y1="289.70" x2="331.10" y2="289.70" stroke="#6a6a6a" stroke-width="1.0"/><line x1="233.10" y1="350.10" x2="331.10" y2="350.10" stroke="#6a6a6a" stroke-width="1.0"/><line x1="233.10" y1="410.50" x2="331.10" y2="410.50" stroke="#6a6a6a" stroke-width="1.0"/><line x1="251.70" y1="225.80" x2="251.70" y2="229.30" stroke="#444" stroke-width="0.8"/><line x1="251.70" y1="470.90" x2="251.70" y2="474.40" stroke="#444" stroke-width="0.8"/><line x1="281.90" y1="225.80" x2="281.90" y2="229.30" stroke="#444" stroke-width="0.8"/><line x1="281.90" y1="470.90" x2="281.90" y2="474.40" stroke="#444" stroke-width="0.8"/><line x1="312.10" y1="225.80" x2="312.10" y2="229.30" stroke="#444" stroke-width="0.8"/><line x1="312.10" y1="470.90" x2="312.10" y2="474.40" stroke="#444" stroke-width="0.8"/><line x1="233.10" y1="229.30" x2="236.60" y2="229.30" stroke="#444" stroke-width="0.8"/><line x1="327.60" y1="229.30" x2="331.10" y2="229.30" stroke="#444" stroke-width="0.8"/><line x1="233.10" y1="259.50" x2="236.60" y2="259.50" stroke="#444" stroke-width="0.8"/><line x1="327.60" y1="259.50" x2="331.10" y2="259.50" stroke="#444" stroke-width="0.8"/><line x1="233.10" y1="289.70" x2="236.60" y2="289.70" stroke="#444" stroke-width="0.8"/><line x1="327.60" y1="289.70" x2="331.10" y2="289.70" stroke="#444" stroke-width="0.8"/><line x1="233.10" y1="319.90" x2="236.60" y2="319.90" stroke="#444" stroke-width="0.8"/><line x1="327.60" y1="319.90" x2="331.10" y2="319.90" stroke="#444" stroke-width="0.8"/><line x1="233.10" y1="350.10" x2="236.60" y2="350.10" stroke="#444" stroke-width="0.8"/><line x1="327.60" y1="350.10" x2="331.10" y2="350.10" stroke="#444" stroke-width="0.8"/><line x1="233.10" y1="380.30" x2="236.60" y2="380.30" stroke="#444" stroke-width="0.8"/><line x1="327.60" y1="380.30" x2="331.10" y2="380.30" stroke="#444" stroke-width="0.8"/><line x1="233.10" y1="410.50" x2="236.60" y2="410.50" stroke="#444" stroke-width="0.8"/><line x1="327.60" y1="410.50" x2="331.10" y2="410.50" stroke="#444" stroke-width="0.8"/><line x1="233.10" y1="440.70" x2="236.60" y2="440.70" stroke="#444" stroke-width="0.8"/><line x1="327.60" y1="440.70" x2="331.10" y2="440.70" stroke="#444" stroke-width="0.8"/><line x1="233.10" y1="470.90" x2="236.60" y2="470.90" stroke="#444" stroke-width="0.8"/><line x1="327.60" y1="470.90" x2="331.10" y2="470.90" stroke="#444" stroke-width="0.8"/><circle cx="264.3" cy="262.6" r="2.45" fill="#e6f400" stroke="#1a1a1a" stroke-width="0.65"/><circle cx="290.5" cy="271.7" r="2.45" fill="#e6f400" stroke="#1a1a1a" stroke-width="0.65"/><circle cx="285.5" cy="277.7" r="2.45" fill="#e6f400" stroke="#1a1a1a" stroke-width="0.65"/><circle cx="321.0" cy="277.7" r="2.45" fill="#e6f400" stroke="#1a1a1a" stroke-width="0.65"/><circle cx="290.9" cy="296.0" r="2.45" fill="#e6f400" stroke="#1a1a1a" stroke-width="0.65"/><circle cx="291.5" cy="301.9" r="2.45" fill="#e6f400" stroke="#1a1a1a" stroke-width="0.65"/><circle cx="304.7" cy="301.9" r="2.45" fill="#e6f400" stroke="#1a1a1a" stroke-width="0.65"/><circle cx="303.7" cy="311.1" r="2.45" fill="#e6f400" stroke="#1a1a1a" stroke-width="0.65"/><circle cx="305.0" cy="311.1" r="2.45" fill="#e6f400" stroke="#1a1a1a" stroke-width="0.65"/><circle cx="287.0" cy="314.1" r="2.45" fill="#ffc000" stroke="#1a1a1a" stroke-width="0.65"/><circle cx="291.6" cy="317.0" r="2.45" fill="#e6f400" stroke="#1a1a1a" stroke-width="0.65"/><circle cx="271.5" cy="319.7" r="2.45" fill="#e6f400" stroke="#1a1a1a" stroke-width="0.65"/><circle cx="288.6" cy="319.7" r="2.45" fill="#e6f400" stroke="#1a1a1a" stroke-width="0.65"/><circle cx="278.3" cy="323.1" r="2.45" fill="#e6f400" stroke="#1a1a1a" stroke-width="0.65"/><circle cx="287.9" cy="323.1" r="2.45" fill="#ff8800" stroke="#1a1a1a" stroke-width="0.65"/><circle cx="292.5" cy="325.8" r="2.45" fill="#e6f400" stroke="#1a1a1a" stroke-width="0.65"/><circle cx="296.4" cy="325.8" r="2.45" fill="#e6f400" stroke="#1a1a1a" stroke-width="0.65"/><circle cx="295.8" cy="329.1" r="2.45" fill="#e6f400" stroke="#1a1a1a" stroke-width="0.65"/><circle cx="262.5" cy="332.3" r="2.45" fill="#f81a00" stroke="#1a1a1a" stroke-width="0.65"/><circle cx="292.5" cy="332.3" r="2.45" fill="#e6f400" stroke="#1a1a1a" stroke-width="0.65"/><circle cx="305.6" cy="332.3" r="2.45" fill="#e6f400" stroke="#1a1a1a" stroke-width="0.65"/><circle cx="290.9" cy="335.2" r="2.45" fill="#ffc000" stroke="#1a1a1a" stroke-width="0.65"/><circle cx="296.8" cy="335.2" r="2.45" fill="#ffc000" stroke="#1a1a1a" stroke-width="0.65"/><circle cx="285.9" cy="338.0" r="2.45" fill="#e6f400" stroke="#1a1a1a" stroke-width="0.65"/><circle cx="309.3" cy="338.0" r="2.45" fill="#e6f400" stroke="#1a1a1a" stroke-width="0.65"/><circle cx="277.4" cy="341.3" r="2.45" fill="#ff8800" stroke="#1a1a1a" stroke-width="0.65"/><circle cx="292.8" cy="341.3" r="2.45" fill="#e6f400" stroke="#1a1a1a" stroke-width="0.65"/><circle cx="305.4" cy="341.3" r="2.45" fill="#e6f400" stroke="#1a1a1a" stroke-width="0.65"/><circle cx="277.4" cy="344.4" r="2.45" fill="#f81a00" stroke="#1a1a1a" stroke-width="0.65"/><circle cx="283.0" cy="344.4" r="2.45" fill="#f81a00" stroke="#1a1a1a" stroke-width="0.65"/><circle cx="296.1" cy="344.4" r="2.45" fill="#e6f400" stroke="#1a1a1a" stroke-width="0.65"/><circle cx="289.2" cy="347.5" r="2.45" fill="#e6f400" stroke="#1a1a1a" stroke-width="0.65"/><circle cx="293.2" cy="347.1" r="2.45" fill="#f81a00" stroke="#1a1a1a" stroke-width="0.65"/><circle cx="303.0" cy="347.5" r="2.45" fill="#e6f400" stroke="#1a1a1a" stroke-width="0.65"/><circle cx="284.6" cy="350.5" r="2.45" fill="#e6f400" stroke="#1a1a1a" stroke-width="0.65"/><circle cx="294.5" cy="350.5" r="2.45" fill="#e6f400" stroke="#1a1a1a" stroke-width="0.65"/><circle cx="291.5" cy="353.4" r="2.45" fill="#e6f400" stroke="#1a1a1a" stroke-width="0.65"/><circle cx="274.4" cy="356.3" r="2.45" fill="#e6f400" stroke="#1a1a1a" stroke-width="0.65"/><circle cx="277.4" cy="356.3" r="2.45" fill="#f81a00" stroke="#1a1a1a" stroke-width="0.65"/><circle cx="284.0" cy="356.3" r="2.45" fill="#f81a00" stroke="#1a1a1a" stroke-width="0.65"/><circle cx="286.6" cy="356.3" r="2.45" fill="#f81a00" stroke="#1a1a1a" stroke-width="0.65"/><circle cx="295.8" cy="356.3" r="2.45" fill="#e6f400" stroke="#1a1a1a" stroke-width="0.65"/><circle cx="300.7" cy="356.3" r="2.45" fill="#e6f400" stroke="#1a1a1a" stroke-width="0.65"/><circle cx="304.1" cy="356.3" r="2.45" fill="#e6f400" stroke="#1a1a1a" stroke-width="0.65"/><circle cx="278.3" cy="359.7" r="2.45" fill="#e6f400" stroke="#1a1a1a" stroke-width="0.65"/><circle cx="283.6" cy="359.7" r="2.45" fill="#ff8800" stroke="#1a1a1a" stroke-width="0.65"/><circle cx="287.5" cy="359.7" r="2.45" fill="#ff8800" stroke="#1a1a1a" stroke-width="0.65"/><circle cx="300.1" cy="359.7" r="2.45" fill="#f81a00" stroke="#1a1a1a" stroke-width="0.65"/><circle cx="261.2" cy="362.3" r="2.45" fill="#e6f400" stroke="#1a1a1a" stroke-width="0.65"/><circle cx="296.7" cy="362.3" r="2.45" fill="#e6f400" stroke="#1a1a1a" stroke-width="0.65"/><circle cx="283.6" cy="362.6" r="2.45" fill="#ff8800" stroke="#1a1a1a" stroke-width="0.65"/><circle cx="271.7" cy="364.1" r="2.45" fill="#e6f400" stroke="#1a1a1a" stroke-width="0.65"/><circle cx="325.4" cy="362.3" r="2.45" fill="#e6f400" stroke="#1a1a1a" stroke-width="0.65"/><circle cx="292.5" cy="356.3" r="2.45" fill="#e6f400" stroke="#1a1a1a" stroke-width="0.65"/><circle cx="271.7" cy="365.2" r="2.45" fill="#e6f400" stroke="#1a1a1a" stroke-width="0.65"/><circle cx="274.4" cy="365.2" r="2.45" fill="#e6f400" stroke="#1a1a1a" stroke-width="0.65"/><circle cx="280.0" cy="365.2" r="2.45" fill="#f81a00" stroke="#1a1a1a" stroke-width="0.65"/><circle cx="286.6" cy="365.2" r="2.45" fill="#f81a00" stroke="#1a1a1a" stroke-width="0.65"/><circle cx="298.4" cy="365.2" r="2.45" fill="#f81a00" stroke="#1a1a1a" stroke-width="0.65"/><circle cx="265.6" cy="368.1" r="2.45" fill="#1482e0" stroke="#1a1a1a" stroke-width="0.65"/><circle cx="269.9" cy="368.1" r="2.45" fill="#2ee64c" stroke="#1a1a1a" stroke-width="0.65"/><circle cx="277.8" cy="368.1" r="2.45" fill="#ff8800" stroke="#1a1a1a" stroke-width="0.65"/><circle cx="281.3" cy="368.1" r="2.45" fill="#f81a00" stroke="#1a1a1a" stroke-width="0.65"/><circle cx="284.9" cy="368.1" r="2.45" fill="#2ee64c" stroke="#1a1a1a" stroke-width="0.65"/><circle cx="289.2" cy="368.1" r="2.45" fill="#f81a00" stroke="#1a1a1a" stroke-width="0.65"/><circle cx="294.5" cy="368.1" r="2.45" fill="#1482e0" stroke="#1a1a1a" stroke-width="0.65"/><circle cx="298.0" cy="368.1" r="2.45" fill="#e6f400" stroke="#1a1a1a" stroke-width="0.65"/><circle cx="301.7" cy="368.1" r="2.45" fill="#f81a00" stroke="#1a1a1a" stroke-width="0.65"/><circle cx="263.6" cy="371.4" r="2.45" fill="#e6f400" stroke="#1a1a1a" stroke-width="0.65"/><circle cx="271.2" cy="371.4" r="2.45" fill="#f81a00" stroke="#1a1a1a" stroke-width="0.65"/><circle cx="276.1" cy="371.4" r="2.45" fill="#e6f400" stroke="#1a1a1a" stroke-width="0.65"/><circle cx="281.3" cy="371.4" r="2.45" fill="#f81a00" stroke="#1a1a1a" stroke-width="0.65"/><circle cx="284.9" cy="371.4" r="2.45" fill="#e6f400" stroke="#1a1a1a" stroke-width="0.65"/><circle cx="289.9" cy="371.4" r="2.45" fill="#f81a00" stroke="#1a1a1a" stroke-width="0.65"/><circle cx="293.8" cy="371.4" r="2.45" fill="#e6f400" stroke="#1a1a1a" stroke-width="0.65"/><circle cx="300.4" cy="371.4" r="2.45" fill="#f81a00" stroke="#1a1a1a" stroke-width="0.65"/><circle cx="271.7" cy="374.7" r="2.45" fill="#f81a00" stroke="#1a1a1a" stroke-width="0.65"/><circle cx="276.1" cy="374.7" r="2.45" fill="#e6f400" stroke="#1a1a1a" stroke-width="0.65"/><circle cx="280.0" cy="374.7" r="2.45" fill="#f81a00" stroke="#1a1a1a" stroke-width="0.65"/><circle cx="286.6" cy="374.7" r="2.45" fill="#f81a00" stroke="#1a1a1a" stroke-width="0.65"/><circle cx="296.7" cy="374.7" r="2.45" fill="#e6f400" stroke="#1a1a1a" stroke-width="0.65"/><circle cx="304.6" cy="374.7" r="2.45" fill="#e6f400" stroke="#1a1a1a" stroke-width="0.65"/><circle cx="311.2" cy="374.7" r="2.45" fill="#2ee64c" stroke="#1a1a1a" stroke-width="0.65"/><circle cx="268.6" cy="377.6" r="2.45" fill="#e6f400" stroke="#1a1a1a" stroke-width="0.65"/><circle cx="277.0" cy="377.6" r="2.45" fill="#e6f400" stroke="#1a1a1a" stroke-width="0.65"/><circle cx="283.0" cy="377.6" r="2.45" fill="#f81a00" stroke="#1a1a1a" stroke-width="0.65"/><circle cx="286.6" cy="377.6" r="2.45" fill="#f81a00" stroke="#1a1a1a" stroke-width="0.65"/><circle cx="290.5" cy="377.6" r="2.45" fill="#e6f400" stroke="#1a1a1a" stroke-width="0.65"/><circle cx="295.1" cy="377.6" r="2.45" fill="#ff8800" stroke="#1a1a1a" stroke-width="0.65"/><circle cx="301.7" cy="377.6" r="2.45" fill="#e6f400" stroke="#1a1a1a" stroke-width="0.65"/><circle cx="305.4" cy="377.6" r="2.45" fill="#2ee64c" stroke="#1a1a1a" stroke-width="0.65"/><circle cx="308.5" cy="377.6" r="2.45" fill="#e6f400" stroke="#1a1a1a" stroke-width="0.65"/><circle cx="312.0" cy="377.6" r="2.45" fill="#e6f400" stroke="#1a1a1a" stroke-width="0.65"/><circle cx="283.3" cy="380.6" r="2.45" fill="#f81a00" stroke="#1a1a1a" stroke-width="0.65"/><circle cx="287.9" cy="380.6" r="2.45" fill="#f81a00" stroke="#1a1a1a" stroke-width="0.65"/><circle cx="293.2" cy="380.6" r="2.45" fill="#f81a00" stroke="#1a1a1a" stroke-width="0.65"/><circle cx="298.4" cy="380.6" r="2.45" fill="#ff8800" stroke="#1a1a1a" stroke-width="0.65"/><circle cx="271.7" cy="383.3" r="2.45" fill="#f81a00" stroke="#1a1a1a" stroke-width="0.65"/><circle cx="277.4" cy="383.3" r="2.45" fill="#e6f400" stroke="#1a1a1a" stroke-width="0.65"/><circle cx="280.7" cy="383.3" r="2.45" fill="#e6f400" stroke="#1a1a1a" stroke-width="0.65"/><circle cx="284.0" cy="383.3" r="2.45" fill="#f81a00" stroke="#1a1a1a" stroke-width="0.65"/><circle cx="289.2" cy="383.3" r="2.45" fill="#f81a00" stroke="#1a1a1a" stroke-width="0.65"/><circle cx="296.4" cy="383.3" r="2.45" fill="#f81a00" stroke="#1a1a1a" stroke-width="0.65"/><circle cx="302.0" cy="383.3" r="2.45" fill="#2ee64c" stroke="#1a1a1a" stroke-width="0.65"/><circle cx="272.8" cy="386.5" r="2.45" fill="#e6f400" stroke="#1a1a1a" stroke-width="0.65"/><circle cx="278.3" cy="386.5" r="2.45" fill="#2ee64c" stroke="#1a1a1a" stroke-width="0.65"/><circle cx="282.0" cy="386.5" r="2.45" fill="#e6f400" stroke="#1a1a1a" stroke-width="0.65"/><circle cx="284.6" cy="386.5" r="2.45" fill="#1482e0" stroke="#1a1a1a" stroke-width="0.65"/><circle cx="289.2" cy="386.5" r="2.45" fill="#f81a00" stroke="#1a1a1a" stroke-width="0.65"/><circle cx="295.1" cy="386.5" r="2.45" fill="#f81a00" stroke="#1a1a1a" stroke-width="0.65"/><circle cx="265.2" cy="389.8" r="2.45" fill="#ff8800" stroke="#1a1a1a" stroke-width="0.65"/><circle cx="276.1" cy="389.8" r="2.45" fill="#1482e0" stroke="#1a1a1a" stroke-width="0.65"/><circle cx="282.6" cy="389.8" r="2.45" fill="#f81a00" stroke="#1a1a1a" stroke-width="0.65"/><circle cx="285.9" cy="389.8" r="2.45" fill="#f81a00" stroke="#1a1a1a" stroke-width="0.65"/><circle cx="289.9" cy="389.8" r="2.45" fill="#f81a00" stroke="#1a1a1a" stroke-width="0.65"/><circle cx="293.2" cy="389.8" r="2.45" fill="#f81a00" stroke="#1a1a1a" stroke-width="0.65"/><circle cx="307.6" cy="389.8" r="2.45" fill="#f81a00" stroke="#1a1a1a" stroke-width="0.65"/><circle cx="256.4" cy="392.8" r="2.45" fill="#e6f400" stroke="#1a1a1a" stroke-width="0.65"/><circle cx="276.5" cy="392.8" r="2.45" fill="#1482e0" stroke="#1a1a1a" stroke-width="0.65"/><circle cx="291.2" cy="392.8" r="2.45" fill="#f81a00" stroke="#1a1a1a" stroke-width="0.65"/><circle cx="296.4" cy="392.8" r="2.45" fill="#f81a00" stroke="#1a1a1a" stroke-width="0.65"/><circle cx="301.0" cy="392.8" r="2.45" fill="#e6f400" stroke="#1a1a1a" stroke-width="0.65"/><circle cx="272.8" cy="395.7" r="2.45" fill="#1482e0" stroke="#1a1a1a" stroke-width="0.65"/><circle cx="282.0" cy="395.7" r="2.45" fill="#f81a00" stroke="#1a1a1a" stroke-width="0.65"/><circle cx="294.9" cy="395.7" r="2.45" fill="#ff8800" stroke="#1a1a1a" stroke-width="0.65"/><circle cx="274.8" cy="398.6" r="2.45" fill="#f81a00" stroke="#1a1a1a" stroke-width="0.65"/><circle cx="284.0" cy="398.6" r="2.45" fill="#f81a00" stroke="#1a1a1a" stroke-width="0.65"/><circle cx="288.6" cy="398.6" r="2.45" fill="#ff8800" stroke="#1a1a1a" stroke-width="0.65"/><circle cx="292.5" cy="398.6" r="2.45" fill="#f81a00" stroke="#1a1a1a" stroke-width="0.65"/><circle cx="303.0" cy="398.6" r="2.45" fill="#f81a00" stroke="#1a1a1a" stroke-width="0.65"/><circle cx="271.7" cy="401.6" r="2.45" fill="#ff8800" stroke="#1a1a1a" stroke-width="0.65"/><circle cx="281.3" cy="401.6" r="2.45" fill="#1482e0" stroke="#1a1a1a" stroke-width="0.65"/><circle cx="301.4" cy="401.6" r="2.45" fill="#f81a00" stroke="#1a1a1a" stroke-width="0.65"/><circle cx="275.4" cy="404.7" r="2.45" fill="#1482e0" stroke="#1a1a1a" stroke-width="0.65"/><circle cx="279.6" cy="404.7" r="2.45" fill="#2ee64c" stroke="#1a1a1a" stroke-width="0.65"/><circle cx="286.2" cy="404.7" r="2.45" fill="#f81a00" stroke="#1a1a1a" stroke-width="0.65"/><circle cx="289.6" cy="404.7" r="2.45" fill="#1482e0" stroke="#1a1a1a" stroke-width="0.65"/><circle cx="293.6" cy="404.7" r="2.45" fill="#e6f400" stroke="#1a1a1a" stroke-width="0.65"/><circle cx="282.6" cy="407.6" r="2.45" fill="#f81a00" stroke="#1a1a1a" stroke-width="0.65"/><circle cx="286.6" cy="407.6" r="2.45" fill="#f81a00" stroke="#1a1a1a" stroke-width="0.65"/><circle cx="293.8" cy="407.6" r="2.45" fill="#f81a00" stroke="#1a1a1a" stroke-width="0.65"/><circle cx="281.3" cy="410.5" r="2.45" fill="#ff8800" stroke="#1a1a1a" stroke-width="0.65"/><circle cx="285.3" cy="410.5" r="2.45" fill="#f81a00" stroke="#1a1a1a" stroke-width="0.65"/><circle cx="275.4" cy="413.5" r="2.45" fill="#1482e0" stroke="#1a1a1a" stroke-width="0.65"/><circle cx="280.7" cy="413.5" r="2.45" fill="#1482e0" stroke="#1a1a1a" stroke-width="0.65"/><circle cx="285.3" cy="413.5" r="2.45" fill="#f81a00" stroke="#1a1a1a" stroke-width="0.65"/><circle cx="267.5" cy="416.8" r="2.45" fill="#e6f400" stroke="#1a1a1a" stroke-width="0.65"/><circle cx="279.4" cy="416.8" r="2.45" fill="#1482e0" stroke="#1a1a1a" stroke-width="0.65"/><circle cx="284.0" cy="416.8" r="2.45" fill="#1482e0" stroke="#1a1a1a" stroke-width="0.65"/><circle cx="290.9" cy="416.8" r="2.45" fill="#f81a00" stroke="#1a1a1a" stroke-width="0.65"/><circle cx="277.0" cy="419.7" r="2.45" fill="#1482e0" stroke="#1a1a1a" stroke-width="0.65"/><circle cx="283.0" cy="419.7" r="2.45" fill="#1482e0" stroke="#1a1a1a" stroke-width="0.65"/><circle cx="290.9" cy="419.7" r="2.45" fill="#ff8800" stroke="#1a1a1a" stroke-width="0.65"/><circle cx="276.7" cy="423.0" r="2.45" fill="#1482e0" stroke="#1a1a1a" stroke-width="0.65"/><circle cx="281.3" cy="423.0" r="2.45" fill="#f81a00" stroke="#1a1a1a" stroke-width="0.65"/><circle cx="285.7" cy="423.0" r="2.45" fill="#e6f400" stroke="#1a1a1a" stroke-width="0.65"/><circle cx="291.2" cy="423.0" r="2.45" fill="#2ee64c" stroke="#1a1a1a" stroke-width="0.65"/><circle cx="299.7" cy="423.0" r="2.45" fill="#ff8800" stroke="#1a1a1a" stroke-width="0.65"/><circle cx="310.2" cy="423.0" r="2.45" fill="#f81a00" stroke="#1a1a1a" stroke-width="0.65"/><circle cx="241.3" cy="425.9" r="2.45" fill="#e6f400" stroke="#1a1a1a" stroke-width="0.65"/><circle cx="274.4" cy="425.9" r="2.45" fill="#e6f400" stroke="#1a1a1a" stroke-width="0.65"/><circle cx="285.9" cy="425.9" r="2.45" fill="#f81a00" stroke="#1a1a1a" stroke-width="0.65"/><circle cx="289.6" cy="428.9" r="2.45" fill="#ff8800" stroke="#1a1a1a" stroke-width="0.65"/><circle cx="249.1" cy="431.9" r="2.45" fill="#f81a00" stroke="#1a1a1a" stroke-width="0.65"/><circle cx="270.8" cy="431.9" r="2.45" fill="#f81a00" stroke="#1a1a1a" stroke-width="0.65"/><circle cx="285.3" cy="431.9" r="2.45" fill="#1482e0" stroke="#1a1a1a" stroke-width="0.65"/><circle cx="283.0" cy="434.8" r="2.45" fill="#f81a00" stroke="#1a1a1a" stroke-width="0.65"/><circle cx="287.2" cy="434.8" r="2.45" fill="#1482e0" stroke="#1a1a1a" stroke-width="0.65"/><circle cx="273.1" cy="438.1" r="2.45" fill="#ff8800" stroke="#1a1a1a" stroke-width="0.65"/><circle cx="282.0" cy="438.1" r="2.45" fill="#1482e0" stroke="#1a1a1a" stroke-width="0.65"/><circle cx="277.0" cy="444.0" r="2.45" fill="#f81a00" stroke="#1a1a1a" stroke-width="0.65"/><circle cx="274.1" cy="447.0" r="2.45" fill="#f81a00" stroke="#1a1a1a" stroke-width="0.65"/><circle cx="278.7" cy="450.2" r="2.45" fill="#1482e0" stroke="#1a1a1a" stroke-width="0.65"/><rect x="236.60" y="229.30" width="91.00" height="241.60" fill="none" stroke="#222" stroke-width="1.2"/><text x="251.70" y="483.90" font-size="8.3" text-anchor="middle" font-family='"Liberation Sans", sans-serif' fill="#1a1a1a" >−1</text><text x="281.90" y="483.90" font-size="8.3" text-anchor="middle" font-family='"Liberation Sans", sans-serif' fill="#1a1a1a" >0</text><text x="312.10" y="483.90" font-size="8.3" text-anchor="middle" font-family='"Liberation Sans", sans-serif' fill="#1a1a1a" >1</text><text x="227.50" y="232.30" font-size="8.3" text-anchor="middle" font-family='"Liberation Sans", sans-serif' fill="#1a1a1a" >4</text><text x="227.50" y="262.50" font-size="8.3" text-anchor="middle" font-family='"Liberation Sans", sans-serif' fill="#1a1a1a" >5</text><text x="227.50" y="292.70" font-size="8.3" text-anchor="middle" font-family='"Liberation Sans", sans-serif' fill="#1a1a1a" >6</text><text x="227.50" y="322.90" font-size="8.3" text-anchor="middle" font-family='"Liberation Sans", sans-serif' fill="#1a1a1a" >7</text><text x="227.50" y="353.10" font-size="8.3" text-anchor="middle" font-family='"Liberation Sans", sans-serif' fill="#1a1a1a" >8</text><text x="227.50" y="383.30" font-size="8.3" text-anchor="middle" font-family='"Liberation Sans", sans-serif' fill="#1a1a1a" >9</text><text x="227.50" y="413.50" font-size="8.3" text-anchor="middle" font-family='"Liberation Sans", sans-serif' fill="#1a1a1a" >10</text><text x="227.50" y="443.70" font-size="8.3" text-anchor="middle" font-family='"Liberation Sans", sans-serif' fill="#1a1a1a" >11</text><text x="227.50" y="473.90" font-size="8.3" text-anchor="middle" font-family='"Liberation Sans", sans-serif' fill="#1a1a1a" >12</text><text x="282.10" y="495.10" font-size="10.5" text-anchor="middle" font-family='"Liberation Sans", sans-serif' fill="#1a1a1a" >BB′ [km]</text><text x="0" y="0" font-size="10" text-anchor="middle" font-family='"Liberation Sans", sans-serif' fill="#1a1a1a" transform="translate(216.7,350.7) rotate(-90)">depth [km]</text><rect x="394.40" y="229.30" width="145.70" height="241.60" fill="#fff" stroke="none" stroke-width="0"/><line x1="406.48" y1="225.80" x2="406.48" y2="474.40" stroke="#6a6a6a" stroke-width="1.0"/><line x1="436.68" y1="225.80" x2="436.68" y2="474.40" stroke="#6a6a6a" stroke-width="1.0"/><line x1="466.88" y1="225.80" x2="466.88" y2="474.40" stroke="#6a6a6a" stroke-width="1.0"/><line x1="497.08" y1="225.80" x2="497.08" y2="474.40" stroke="#6a6a6a" stroke-width="1.0"/><line x1="527.28" y1="225.80" x2="527.28" y2="474.40" stroke="#6a6a6a" stroke-width="1.0"/><line x1="390.90" y1="259.50" x2="543.60" y2="259.50" stroke="#6a6a6a" stroke-width="1.0"/><line x1="390.90" y1="319.90" x2="543.60" y2="319.90" stroke="#6a6a6a" stroke-width="1.0"/><line x1="390.90" y1="380.30" x2="543.60" y2="380.30" stroke="#6a6a6a" stroke-width="1.0"/><line x1="390.90" y1="440.70" x2="543.60" y2="440.70" stroke="#6a6a6a" stroke-width="1.0"/><line x1="406.48" y1="225.80" x2="406.48" y2="229.30" stroke="#444" stroke-width="0.8"/><line x1="406.48" y1="470.90" x2="406.48" y2="474.40" stroke="#444" stroke-width="0.8"/><line x1="436.68" y1="225.80" x2="436.68" y2="229.30" stroke="#444" stroke-width="0.8"/><line x1="436.68" y1="470.90" x2="436.68" y2="474.40" stroke="#444" stroke-width="0.8"/><line x1="466.88" y1="225.80" x2="466.88" y2="229.30" stroke="#444" stroke-width="0.8"/><line x1="466.88" y1="470.90" x2="466.88" y2="474.40" stroke="#444" stroke-width="0.8"/><line x1="497.08" y1="225.80" x2="497.08" y2="229.30" stroke="#444" stroke-width="0.8"/><line x1="497.08" y1="470.90" x2="497.08" y2="474.40" stroke="#444" stroke-width="0.8"/><line x1="527.28" y1="225.80" x2="527.28" y2="229.30" stroke="#444" stroke-width="0.8"/><line x1="527.28" y1="470.90" x2="527.28" y2="474.40" stroke="#444" stroke-width="0.8"/><line x1="390.90" y1="229.30" x2="394.40" y2="229.30" stroke="#444" stroke-width="0.8"/><line x1="540.10" y1="229.30" x2="543.60" y2="229.30" stroke="#444" stroke-width="0.8"/><line x1="390.90" y1="259.50" x2="394.40" y2="259.50" stroke="#444" stroke-width="0.8"/><line x1="540.10" y1="259.50" x2="543.60" y2="259.50" stroke="#444" stroke-width="0.8"/><line x1="390.90" y1="289.70" x2="394.40" y2="289.70" stroke="#444" stroke-width="0.8"/><line x1="540.10" y1="289.70" x2="543.60" y2="289.70" stroke="#444" stroke-width="0.8"/><line x1="390.90" y1="319.90" x2="394.40" y2="319.90" stroke="#444" stroke-width="0.8"/><line x1="540.10" y1="319.90" x2="543.60" y2="319.90" stroke="#444" stroke-width="0.8"/><line x1="390.90" y1="350.10" x2="394.40" y2="350.10" stroke="#444" stroke-width="0.8"/><line x1="540.10" y1="350.10" x2="543.60" y2="350.10" stroke="#444" stroke-width="0.8"/><line x1="390.90" y1="380.30" x2="394.40" y2="380.30" stroke="#444" stroke-width="0.8"/><line x1="540.10" y1="380.30" x2="543.60" y2="380.30" stroke="#444" stroke-width="0.8"/><line x1="390.90" y1="410.50" x2="394.40" y2="410.50" stroke="#444" stroke-width="0.8"/><line x1="540.10" y1="410.50" x2="543.60" y2="410.50" stroke="#444" stroke-width="0.8"/><line x1="390.90" y1="440.70" x2="394.40" y2="440.70" stroke="#444" stroke-width="0.8"/><line x1="540.10" y1="440.70" x2="543.60" y2="440.70" stroke="#444" stroke-width="0.8"/><line x1="390.90" y1="470.90" x2="394.40" y2="470.90" stroke="#444" stroke-width="0.8"/><line x1="540.10" y1="470.90" x2="543.60" y2="470.90" stroke="#444" stroke-width="0.8"/><circle cx="428.2" cy="265.5" r="2.45" fill="#f8c400" stroke="#1a1a1a" stroke-width="0.65"/><circle cx="442.5" cy="271.6" r="2.45" fill="#c8f000" stroke="#1a1a1a" stroke-width="0.65"/><circle cx="430.8" cy="277.7" r="2.45" fill="#c8f000" stroke="#1a1a1a" stroke-width="0.65"/><circle cx="429.0" cy="283.9" r="2.45" fill="#f8c400" stroke="#1a1a1a" stroke-width="0.65"/><circle cx="468.5" cy="274.8" r="2.45" fill="#f0dc00" stroke="#1a1a1a" stroke-width="0.65"/><circle cx="443.9" cy="286.8" r="2.45" fill="#f0dc00" stroke="#1a1a1a" stroke-width="0.65"/><circle cx="450.4" cy="289.9" r="2.45" fill="#f0dc00" stroke="#1a1a1a" stroke-width="0.65"/><circle cx="459.2" cy="289.9" r="2.45" fill="#f0dc00" stroke="#1a1a1a" stroke-width="0.65"/><circle cx="463.5" cy="292.6" r="2.45" fill="#f0dc00" stroke="#1a1a1a" stroke-width="0.65"/><circle cx="469.9" cy="286.8" r="2.45" fill="#40d862" stroke="#1a1a1a" stroke-width="0.65"/><circle cx="442.5" cy="295.8" r="2.45" fill="#f0dc00" stroke="#1a1a1a" stroke-width="0.65"/><circle cx="451.2" cy="295.8" r="2.45" fill="#f8c400" stroke="#1a1a1a" stroke-width="0.65"/><circle cx="454.1" cy="295.8" r="2.45" fill="#f8c400" stroke="#1a1a1a" stroke-width="0.65"/><circle cx="457.6" cy="295.8" r="2.45" fill="#f0dc00" stroke="#1a1a1a" stroke-width="0.65"/><circle cx="467.0" cy="295.8" r="2.45" fill="#f0dc00" stroke="#1a1a1a" stroke-width="0.65"/><circle cx="471.7" cy="295.8" r="2.45" fill="#ff8400" stroke="#1a1a1a" stroke-width="0.65"/><circle cx="446.8" cy="298.5" r="2.45" fill="#f0dc00" stroke="#1a1a1a" stroke-width="0.65"/><circle cx="462.1" cy="298.5" r="2.45" fill="#90e840" stroke="#1a1a1a" stroke-width="0.65"/><circle cx="446.8" cy="301.4" r="2.45" fill="#f0dc00" stroke="#1a1a1a" stroke-width="0.65"/><circle cx="453.3" cy="301.4" r="2.45" fill="#f0dc00" stroke="#1a1a1a" stroke-width="0.65"/><circle cx="459.4" cy="301.4" r="2.45" fill="#f0dc00" stroke="#1a1a1a" stroke-width="0.65"/><circle cx="467.3" cy="301.4" r="2.45" fill="#f0dc00" stroke="#1a1a1a" stroke-width="0.65"/><circle cx="425.8" cy="304.3" r="2.45" fill="#f0dc00" stroke="#1a1a1a" stroke-width="0.65"/><circle cx="435.1" cy="304.3" r="2.45" fill="#f0dc00" stroke="#1a1a1a" stroke-width="0.65"/><circle cx="473.7" cy="265.5" r="2.45" fill="#f0dc00" stroke="#1a1a1a" stroke-width="0.65"/><circle cx="530.9" cy="274.8" r="2.45" fill="#f0dc00" stroke="#1a1a1a" stroke-width="0.65"/><circle cx="489.4" cy="280.6" r="2.45" fill="#c8f000" stroke="#1a1a1a" stroke-width="0.65"/><circle cx="483.1" cy="283.9" r="2.45" fill="#c8f000" stroke="#1a1a1a" stroke-width="0.65"/><circle cx="476.4" cy="286.8" r="2.45" fill="#f8c400" stroke="#1a1a1a" stroke-width="0.65"/><circle cx="478.5" cy="289.7" r="2.45" fill="#f24400" stroke="#1a1a1a" stroke-width="0.65"/><circle cx="478.7" cy="292.6" r="2.45" fill="#c8f000" stroke="#1a1a1a" stroke-width="0.65"/><circle cx="492.4" cy="289.7" r="2.45" fill="#c8f000" stroke="#1a1a1a" stroke-width="0.65"/><circle cx="499.5" cy="289.7" r="2.45" fill="#f24400" stroke="#1a1a1a" stroke-width="0.65"/><circle cx="502.6" cy="293.0" r="2.45" fill="#f8c400" stroke="#1a1a1a" stroke-width="0.65"/><circle cx="480.8" cy="295.8" r="2.45" fill="#c8f000" stroke="#1a1a1a" stroke-width="0.65"/><circle cx="479.6" cy="298.8" r="2.45" fill="#c8f000" stroke="#1a1a1a" stroke-width="0.65"/><circle cx="467.2" cy="301.4" r="2.45" fill="#f0dc00" stroke="#1a1a1a" stroke-width="0.65"/><circle cx="473.4" cy="304.3" r="2.45" fill="#f0dc00" stroke="#1a1a1a" stroke-width="0.65"/><circle cx="477.5" cy="304.3" r="2.45" fill="#f0dc00" stroke="#1a1a1a" stroke-width="0.65"/><circle cx="442.5" cy="296.0" r="2.45" fill="#f0dc00" stroke="#1a1a1a" stroke-width="0.65"/><circle cx="451.2" cy="296.0" r="2.45" fill="#f0dc00" stroke="#1a1a1a" stroke-width="0.65"/><circle cx="453.7" cy="296.0" r="2.45" fill="#f8c400" stroke="#1a1a1a" stroke-width="0.65"/><circle cx="457.3" cy="296.0" r="2.45" fill="#f0dc00" stroke="#1a1a1a" stroke-width="0.65"/><circle cx="460.4" cy="296.0" r="2.45" fill="#f0dc00" stroke="#1a1a1a" stroke-width="0.65"/><circle cx="467.0" cy="296.0" r="2.45" fill="#f0dc00" stroke="#1a1a1a" stroke-width="0.65"/><circle cx="471.6" cy="296.0" r="2.45" fill="#ff8400" stroke="#1a1a1a" stroke-width="0.65"/><circle cx="480.8" cy="296.0" r="2.45" fill="#c8f000" stroke="#1a1a1a" stroke-width="0.65"/><circle cx="446.6" cy="298.9" r="2.45" fill="#f0dc00" stroke="#1a1a1a" stroke-width="0.65"/><circle cx="461.9" cy="298.9" r="2.45" fill="#90e840" stroke="#1a1a1a" stroke-width="0.65"/><circle cx="479.3" cy="298.9" r="2.45" fill="#c8f000" stroke="#1a1a1a" stroke-width="0.65"/><circle cx="446.8" cy="302.0" r="2.45" fill="#f0dc00" stroke="#1a1a1a" stroke-width="0.65"/><circle cx="449.6" cy="302.0" r="2.45" fill="#f0dc00" stroke="#1a1a1a" stroke-width="0.65"/><circle cx="453.2" cy="302.0" r="2.45" fill="#c8f000" stroke="#1a1a1a" stroke-width="0.65"/><circle cx="459.3" cy="302.0" r="2.45" fill="#f0dc00" stroke="#1a1a1a" stroke-width="0.65"/><circle cx="463.9" cy="302.0" r="2.45" fill="#f0dc00" stroke="#1a1a1a" stroke-width="0.65"/><circle cx="467.5" cy="302.0" r="2.45" fill="#f0dc00" stroke="#1a1a1a" stroke-width="0.65"/><circle cx="477.2" cy="302.0" r="2.45" fill="#ff8400" stroke="#1a1a1a" stroke-width="0.65"/><circle cx="425.6" cy="305.0" r="2.45" fill="#c8f000" stroke="#1a1a1a" stroke-width="0.65"/><circle cx="435.1" cy="305.0" r="2.45" fill="#f0dc00" stroke="#1a1a1a" stroke-width="0.65"/><circle cx="446.6" cy="305.0" r="2.45" fill="#c8f000" stroke="#1a1a1a" stroke-width="0.65"/><circle cx="454.7" cy="305.0" r="2.45" fill="#ff8400" stroke="#1a1a1a" stroke-width="0.65"/><circle cx="461.4" cy="305.0" r="2.45" fill="#ff8400" stroke="#1a1a1a" stroke-width="0.65"/><circle cx="468.0" cy="305.0" r="2.45" fill="#f0dc00" stroke="#1a1a1a" stroke-width="0.65"/><circle cx="473.1" cy="305.0" r="2.45" fill="#f0dc00" stroke="#1a1a1a" stroke-width="0.65"/><circle cx="477.7" cy="305.0" r="2.45" fill="#f0dc00" stroke="#1a1a1a" stroke-width="0.65"/><circle cx="421.0" cy="308.1" r="2.45" fill="#c8f000" stroke="#1a1a1a" stroke-width="0.65"/><circle cx="449.8" cy="308.1" r="2.45" fill="#ff8400" stroke="#1a1a1a" stroke-width="0.65"/><circle cx="456.3" cy="308.1" r="2.45" fill="#f8c400" stroke="#1a1a1a" stroke-width="0.65"/><circle cx="459.3" cy="308.1" r="2.45" fill="#f0dc00" stroke="#1a1a1a" stroke-width="0.65"/><circle cx="467.2" cy="308.1" r="2.45" fill="#f0dc00" stroke="#1a1a1a" stroke-width="0.65"/><circle cx="474.2" cy="308.1" r="2.45" fill="#c8f000" stroke="#1a1a1a" stroke-width="0.65"/><circle cx="443.0" cy="311.1" r="2.45" fill="#c8f000" stroke="#1a1a1a" stroke-width="0.65"/><circle cx="460.9" cy="311.1" r="2.45" fill="#f0dc00" stroke="#1a1a1a" stroke-width="0.65"/><circle cx="471.1" cy="311.1" r="2.45" fill="#ff8400" stroke="#1a1a1a" stroke-width="0.65"/><circle cx="429.7" cy="313.9" r="2.45" fill="#f24400" stroke="#1a1a1a" stroke-width="0.65"/><circle cx="445.0" cy="313.9" r="2.45" fill="#f8c400" stroke="#1a1a1a" stroke-width="0.65"/><circle cx="448.4" cy="313.9" r="2.45" fill="#f0dc00" stroke="#1a1a1a" stroke-width="0.65"/><circle cx="475.7" cy="313.9" r="2.45" fill="#f0dc00" stroke="#1a1a1a" stroke-width="0.65"/><circle cx="479.8" cy="313.9" r="2.45" fill="#c8f000" stroke="#1a1a1a" stroke-width="0.65"/><circle cx="486.2" cy="313.9" r="2.45" fill="#ff8400" stroke="#1a1a1a" stroke-width="0.65"/><circle cx="449.6" cy="317.0" r="2.45" fill="#f0dc00" stroke="#1a1a1a" stroke-width="0.65"/><circle cx="453.5" cy="317.0" r="2.45" fill="#f0dc00" stroke="#1a1a1a" stroke-width="0.65"/><circle cx="460.4" cy="317.0" r="2.45" fill="#c8f000" stroke="#1a1a1a" stroke-width="0.65"/><circle cx="465.0" cy="317.0" r="2.45" fill="#f8c400" stroke="#1a1a1a" stroke-width="0.65"/><circle cx="468.5" cy="317.0" r="2.45" fill="#f8c400" stroke="#1a1a1a" stroke-width="0.65"/><circle cx="478.8" cy="317.0" r="2.45" fill="#c8f000" stroke="#1a1a1a" stroke-width="0.65"/><circle cx="447.4" cy="320.0" r="2.45" fill="#c8f000" stroke="#1a1a1a" stroke-width="0.65"/><circle cx="472.1" cy="320.0" r="2.45" fill="#f24400" stroke="#1a1a1a" stroke-width="0.65"/><circle cx="476.2" cy="320.0" r="2.45" fill="#f24400" stroke="#1a1a1a" stroke-width="0.65"/><circle cx="481.1" cy="320.0" r="2.45" fill="#c8f000" stroke="#1a1a1a" stroke-width="0.65"/><circle cx="489.0" cy="320.0" r="2.45" fill="#f24400" stroke="#1a1a1a" stroke-width="0.65"/><circle cx="443.0" cy="322.8" r="2.45" fill="#f0dc00" stroke="#1a1a1a" stroke-width="0.65"/><circle cx="451.7" cy="322.8" r="2.45" fill="#c8f000" stroke="#1a1a1a" stroke-width="0.65"/><circle cx="458.3" cy="322.8" r="2.45" fill="#ff8400" stroke="#1a1a1a" stroke-width="0.65"/><circle cx="462.4" cy="322.8" r="2.45" fill="#f0dc00" stroke="#1a1a1a" stroke-width="0.65"/><circle cx="477.2" cy="322.8" r="2.45" fill="#c8f000" stroke="#1a1a1a" stroke-width="0.65"/><circle cx="484.9" cy="322.8" r="2.45" fill="#f0dc00" stroke="#1a1a1a" stroke-width="0.65"/><circle cx="443.0" cy="325.9" r="2.45" fill="#c8f000" stroke="#1a1a1a" stroke-width="0.65"/><circle cx="446.4" cy="325.9" r="2.45" fill="#f24400" stroke="#1a1a1a" stroke-width="0.65"/><circle cx="450.1" cy="325.9" r="2.45" fill="#f0dc00" stroke="#1a1a1a" stroke-width="0.65"/><circle cx="461.7" cy="325.9" r="2.45" fill="#f8c400" stroke="#1a1a1a" stroke-width="0.65"/><circle cx="475.7" cy="325.9" r="2.45" fill="#f0dc00" stroke="#1a1a1a" stroke-width="0.65"/><circle cx="434.5" cy="329.2" r="2.45" fill="#40d862" stroke="#1a1a1a" stroke-width="0.65"/><circle cx="440.4" cy="328.9" r="2.45" fill="#c8f000" stroke="#1a1a1a" stroke-width="0.65"/><circle cx="459.3" cy="328.9" r="2.45" fill="#ff8400" stroke="#1a1a1a" stroke-width="0.65"/><circle cx="467.5" cy="328.9" r="2.45" fill="#f24400" stroke="#1a1a1a" stroke-width="0.65"/><circle cx="472.3" cy="328.9" r="2.45" fill="#f24400" stroke="#1a1a1a" stroke-width="0.65"/><circle cx="475.7" cy="328.9" r="2.45" fill="#f8c400" stroke="#1a1a1a" stroke-width="0.65"/><circle cx="443.3" cy="332.0" r="2.45" fill="#c8f000" stroke="#1a1a1a" stroke-width="0.65"/><circle cx="454.5" cy="332.0" r="2.45" fill="#c8f000" stroke="#1a1a1a" stroke-width="0.65"/><circle cx="457.6" cy="332.0" r="2.45" fill="#f8c400" stroke="#1a1a1a" stroke-width="0.65"/><circle cx="477.7" cy="332.0" r="2.45" fill="#c8f000" stroke="#1a1a1a" stroke-width="0.65"/><circle cx="481.1" cy="332.0" r="2.45" fill="#f24400" stroke="#1a1a1a" stroke-width="0.65"/><circle cx="437.9" cy="335.1" r="2.45" fill="#c8f000" stroke="#1a1a1a" stroke-width="0.65"/><circle cx="446.4" cy="335.1" r="2.45" fill="#c8f000" stroke="#1a1a1a" stroke-width="0.65"/><circle cx="450.5" cy="335.1" r="2.45" fill="#c8f000" stroke="#1a1a1a" stroke-width="0.65"/><circle cx="453.5" cy="335.1" r="2.45" fill="#f0dc00" stroke="#1a1a1a" stroke-width="0.65"/><circle cx="461.4" cy="335.1" r="2.45" fill="#f24400" stroke="#1a1a1a" stroke-width="0.65"/><circle cx="465.5" cy="335.1" r="2.45" fill="#f8c400" stroke="#1a1a1a" stroke-width="0.65"/><circle cx="473.1" cy="335.1" r="2.45" fill="#f24400" stroke="#1a1a1a" stroke-width="0.65"/><circle cx="481.3" cy="335.1" r="2.45" fill="#c8f000" stroke="#1a1a1a" stroke-width="0.65"/><circle cx="444.3" cy="338.1" r="2.45" fill="#f8c400" stroke="#1a1a1a" stroke-width="0.65"/><circle cx="457.3" cy="338.1" r="2.45" fill="#f0dc00" stroke="#1a1a1a" stroke-width="0.65"/><circle cx="463.4" cy="338.1" r="2.45" fill="#f24400" stroke="#1a1a1a" stroke-width="0.65"/><circle cx="486.2" cy="338.1" r="2.45" fill="#ff8400" stroke="#1a1a1a" stroke-width="0.65"/><circle cx="431.0" cy="341.2" r="2.45" fill="#c8f000" stroke="#1a1a1a" stroke-width="0.65"/><circle cx="433.8" cy="341.2" r="2.45" fill="#f24400" stroke="#1a1a1a" stroke-width="0.65"/><circle cx="439.2" cy="341.2" r="2.45" fill="#c8f000" stroke="#1a1a1a" stroke-width="0.65"/><circle cx="449.4" cy="341.2" r="2.45" fill="#c8f000" stroke="#1a1a1a" stroke-width="0.65"/><circle cx="455.3" cy="341.2" r="2.45" fill="#f24400" stroke="#1a1a1a" stroke-width="0.65"/><circle cx="459.9" cy="341.2" r="2.45" fill="#ff8400" stroke="#1a1a1a" stroke-width="0.65"/><circle cx="462.7" cy="341.2" r="2.45" fill="#f24400" stroke="#1a1a1a" stroke-width="0.65"/><circle cx="472.1" cy="341.2" r="2.45" fill="#f24400" stroke="#1a1a1a" stroke-width="0.65"/><circle cx="479.8" cy="341.2" r="2.45" fill="#c8f000" stroke="#1a1a1a" stroke-width="0.65"/><circle cx="443.5" cy="343.8" r="2.45" fill="#c8f000" stroke="#1a1a1a" stroke-width="0.65"/><circle cx="455.8" cy="343.8" r="2.45" fill="#c8f000" stroke="#1a1a1a" stroke-width="0.65"/><circle cx="468.5" cy="343.8" r="2.45" fill="#ff8400" stroke="#1a1a1a" stroke-width="0.65"/><circle cx="477.2" cy="343.8" r="2.45" fill="#f24400" stroke="#1a1a1a" stroke-width="0.65"/><circle cx="487.4" cy="343.8" r="2.45" fill="#ff8400" stroke="#1a1a1a" stroke-width="0.65"/><circle cx="512.1" cy="313.9" r="2.45" fill="#f8c400" stroke="#1a1a1a" stroke-width="0.65"/><circle cx="531.3" cy="313.9" r="2.45" fill="#f24400" stroke="#1a1a1a" stroke-width="0.65"/><circle cx="519.4" cy="323.1" r="2.45" fill="#ff8400" stroke="#1a1a1a" stroke-width="0.65"/><circle cx="519.6" cy="335.1" r="2.45" fill="#ff8400" stroke="#1a1a1a" stroke-width="0.65"/><circle cx="493.3" cy="338.1" r="2.45" fill="#90e840" stroke="#1a1a1a" stroke-width="0.65"/><circle cx="503.5" cy="338.1" r="2.45" fill="#c8f000" stroke="#1a1a1a" stroke-width="0.65"/><circle cx="489.4" cy="343.0" r="2.45" fill="#ff8400" stroke="#1a1a1a" stroke-width="0.65"/><circle cx="490.9" cy="343.0" r="2.45" fill="#ff8400" stroke="#1a1a1a" stroke-width="0.65"/><circle cx="438.9" cy="344.3" r="2.45" fill="#c8f000" stroke="#1a1a1a" stroke-width="0.65"/><circle cx="444.3" cy="344.3" r="2.45" fill="#c8f000" stroke="#1a1a1a" stroke-width="0.65"/><circle cx="448.4" cy="344.3" r="2.45" fill="#ff8400" stroke="#1a1a1a" stroke-width="0.65"/><circle cx="455.3" cy="344.3" r="2.45" fill="#c8f000" stroke="#1a1a1a" stroke-width="0.65"/><circle cx="468.0" cy="344.3" r="2.45" fill="#ff8400" stroke="#1a1a1a" stroke-width="0.65"/><circle cx="476.7" cy="344.3" r="2.45" fill="#f24400" stroke="#1a1a1a" stroke-width="0.65"/><circle cx="486.9" cy="344.3" r="2.45" fill="#ff8400" stroke="#1a1a1a" stroke-width="0.65"/><circle cx="441.5" cy="347.4" r="2.45" fill="#c8f000" stroke="#1a1a1a" stroke-width="0.65"/><circle cx="448.1" cy="347.4" r="2.45" fill="#c8f000" stroke="#1a1a1a" stroke-width="0.65"/><circle cx="451.7" cy="347.4" r="2.45" fill="#c8f000" stroke="#1a1a1a" stroke-width="0.65"/><circle cx="459.3" cy="347.4" r="2.45" fill="#f0dc00" stroke="#1a1a1a" stroke-width="0.65"/><circle cx="466.0" cy="347.4" r="2.45" fill="#f24400" stroke="#1a1a1a" stroke-width="0.65"/><circle cx="472.1" cy="347.4" r="2.45" fill="#f24400" stroke="#1a1a1a" stroke-width="0.65"/><circle cx="477.2" cy="347.4" r="2.45" fill="#f24400" stroke="#1a1a1a" stroke-width="0.65"/><circle cx="483.4" cy="347.4" r="2.45" fill="#ff8400" stroke="#1a1a1a" stroke-width="0.65"/><circle cx="439.9" cy="350.2" r="2.45" fill="#f0dc00" stroke="#1a1a1a" stroke-width="0.65"/><circle cx="455.3" cy="350.2" r="2.45" fill="#40d862" stroke="#1a1a1a" stroke-width="0.65"/><circle cx="461.7" cy="350.2" r="2.45" fill="#f0dc00" stroke="#1a1a1a" stroke-width="0.65"/><circle cx="467.2" cy="350.2" r="2.45" fill="#c8f000" stroke="#1a1a1a" stroke-width="0.65"/><circle cx="479.8" cy="350.2" r="2.45" fill="#ff8400" stroke="#1a1a1a" stroke-width="0.65"/><circle cx="485.9" cy="350.2" r="2.45" fill="#ff8400" stroke="#1a1a1a" stroke-width="0.65"/><circle cx="430.2" cy="353.3" r="2.45" fill="#18b094" stroke="#1a1a1a" stroke-width="0.65"/><circle cx="433.3" cy="353.3" r="2.45" fill="#c8f000" stroke="#1a1a1a" stroke-width="0.65"/><circle cx="459.0" cy="353.3" r="2.45" fill="#18b094" stroke="#1a1a1a" stroke-width="0.65"/><circle cx="464.5" cy="353.3" r="2.45" fill="#ff8400" stroke="#1a1a1a" stroke-width="0.65"/><circle cx="471.6" cy="353.3" r="2.45" fill="#c8f000" stroke="#1a1a1a" stroke-width="0.65"/><circle cx="475.7" cy="353.3" r="2.45" fill="#ff8400" stroke="#1a1a1a" stroke-width="0.65"/><circle cx="482.3" cy="353.3" r="2.45" fill="#ff8400" stroke="#1a1a1a" stroke-width="0.65"/><circle cx="488.5" cy="353.3" r="2.45" fill="#f24400" stroke="#1a1a1a" stroke-width="0.65"/><circle cx="434.3" cy="356.4" r="2.45" fill="#f24400" stroke="#1a1a1a" stroke-width="0.65"/><circle cx="449.1" cy="356.4" r="2.45" fill="#ff8400" stroke="#1a1a1a" stroke-width="0.65"/><circle cx="456.0" cy="356.4" r="2.45" fill="#c8f000" stroke="#1a1a1a" stroke-width="0.65"/><circle cx="467.2" cy="356.4" r="2.45" fill="#c8f000" stroke="#1a1a1a" stroke-width="0.65"/><circle cx="473.1" cy="356.4" r="2.45" fill="#f24400" stroke="#1a1a1a" stroke-width="0.65"/><circle cx="479.3" cy="356.4" r="2.45" fill="#f24400" stroke="#1a1a1a" stroke-width="0.65"/><circle cx="482.8" cy="356.4" r="2.45" fill="#ff8400" stroke="#1a1a1a" stroke-width="0.65"/><circle cx="441.3" cy="359.2" r="2.45" fill="#f24400" stroke="#1a1a1a" stroke-width="0.65"/><circle cx="447.1" cy="359.2" r="2.45" fill="#ff8400" stroke="#1a1a1a" stroke-width="0.65"/><circle cx="452.5" cy="359.2" r="2.45" fill="#ff8400" stroke="#1a1a1a" stroke-width="0.65"/><circle cx="457.3" cy="359.2" r="2.45" fill="#90e840" stroke="#1a1a1a" stroke-width="0.65"/><circle cx="462.9" cy="359.2" r="2.45" fill="#f24400" stroke="#1a1a1a" stroke-width="0.65"/><circle cx="468.0" cy="359.2" r="2.45" fill="#ff8400" stroke="#1a1a1a" stroke-width="0.65"/><circle cx="473.1" cy="359.2" r="2.45" fill="#f24400" stroke="#1a1a1a" stroke-width="0.65"/><circle cx="484.9" cy="359.2" r="2.45" fill="#ff8400" stroke="#1a1a1a" stroke-width="0.65"/><circle cx="424.6" cy="362.3" r="2.45" fill="#40d862" stroke="#1a1a1a" stroke-width="0.65"/><circle cx="435.3" cy="362.3" r="2.45" fill="#c8f000" stroke="#1a1a1a" stroke-width="0.65"/><circle cx="450.5" cy="362.3" r="2.45" fill="#40d862" stroke="#1a1a1a" stroke-width="0.65"/><circle cx="453.7" cy="362.3" r="2.45" fill="#40d862" stroke="#1a1a1a" stroke-width="0.65"/><circle cx="478.8" cy="362.3" r="2.45" fill="#f24400" stroke="#1a1a1a" stroke-width="0.65"/><circle cx="481.8" cy="362.3" r="2.45" fill="#f24400" stroke="#1a1a1a" stroke-width="0.65"/><circle cx="487.4" cy="362.3" r="2.45" fill="#f24400" stroke="#1a1a1a" stroke-width="0.65"/><circle cx="439.6" cy="365.3" r="2.45" fill="#f24400" stroke="#1a1a1a" stroke-width="0.65"/><circle cx="445.3" cy="365.3" r="2.45" fill="#f24400" stroke="#1a1a1a" stroke-width="0.65"/><circle cx="449.6" cy="365.3" r="2.45" fill="#f24400" stroke="#1a1a1a" stroke-width="0.65"/><circle cx="455.8" cy="365.3" r="2.45" fill="#ff8400" stroke="#1a1a1a" stroke-width="0.65"/><circle cx="461.4" cy="365.3" r="2.45" fill="#ff8400" stroke="#1a1a1a" stroke-width="0.65"/><circle cx="467.5" cy="365.3" r="2.45" fill="#ff8400" stroke="#1a1a1a" stroke-width="0.65"/><circle cx="472.1" cy="365.3" r="2.45" fill="#f24400" stroke="#1a1a1a" stroke-width="0.65"/><circle cx="481.3" cy="365.3" r="2.45" fill="#f24400" stroke="#1a1a1a" stroke-width="0.65"/><circle cx="485.9" cy="365.3" r="2.45" fill="#ff8400" stroke="#1a1a1a" stroke-width="0.65"/><circle cx="438.4" cy="368.4" r="2.45" fill="#f24400" stroke="#1a1a1a" stroke-width="0.65"/><circle cx="443.3" cy="368.4" r="2.45" fill="#40d862" stroke="#1a1a1a" stroke-width="0.65"/><circle cx="456.0" cy="368.4" r="2.45" fill="#40d862" stroke="#1a1a1a" stroke-width="0.65"/><circle cx="480.3" cy="368.4" r="2.45" fill="#ff8400" stroke="#1a1a1a" stroke-width="0.65"/><circle cx="488.5" cy="368.4" r="2.45" fill="#f24400" stroke="#1a1a1a" stroke-width="0.65"/><circle cx="453.7" cy="371.5" r="2.45" fill="#c8f000" stroke="#1a1a1a" stroke-width="0.65"/><circle cx="462.9" cy="371.5" r="2.45" fill="#f24400" stroke="#1a1a1a" stroke-width="0.65"/><circle cx="467.2" cy="371.5" r="2.45" fill="#18b094" stroke="#1a1a1a" stroke-width="0.65"/><circle cx="476.7" cy="371.5" r="2.45" fill="#f24400" stroke="#1a1a1a" stroke-width="0.65"/><circle cx="483.9" cy="371.5" r="2.45" fill="#f24400" stroke="#1a1a1a" stroke-width="0.65"/><circle cx="446.8" cy="374.5" r="2.45" fill="#f24400" stroke="#1a1a1a" stroke-width="0.65"/><circle cx="450.7" cy="374.5" r="2.45" fill="#ff8400" stroke="#1a1a1a" stroke-width="0.65"/><circle cx="454.7" cy="374.5" r="2.45" fill="#ff8400" stroke="#1a1a1a" stroke-width="0.65"/><circle cx="458.0" cy="374.5" r="2.45" fill="#ff8400" stroke="#1a1a1a" stroke-width="0.65"/><circle cx="474.2" cy="374.5" r="2.45" fill="#ff8400" stroke="#1a1a1a" stroke-width="0.65"/><circle cx="477.2" cy="374.5" r="2.45" fill="#f24400" stroke="#1a1a1a" stroke-width="0.65"/><circle cx="448.6" cy="377.6" r="2.45" fill="#c8f000" stroke="#1a1a1a" stroke-width="0.65"/><circle cx="451.5" cy="377.6" r="2.45" fill="#f24400" stroke="#1a1a1a" stroke-width="0.65"/><circle cx="464.1" cy="377.6" r="2.45" fill="#f0dc00" stroke="#1a1a1a" stroke-width="0.65"/><circle cx="474.7" cy="377.6" r="2.45" fill="#ff8400" stroke="#1a1a1a" stroke-width="0.65"/><circle cx="485.4" cy="377.6" r="2.45" fill="#f24400" stroke="#1a1a1a" stroke-width="0.65"/><circle cx="462.1" cy="380.7" r="2.45" fill="#ff8400" stroke="#1a1a1a" stroke-width="0.65"/><circle cx="465.5" cy="380.7" r="2.45" fill="#f24400" stroke="#1a1a1a" stroke-width="0.65"/><circle cx="471.1" cy="380.7" r="2.45" fill="#ff8400" stroke="#1a1a1a" stroke-width="0.65"/><circle cx="481.3" cy="380.7" r="2.45" fill="#f24400" stroke="#1a1a1a" stroke-width="0.65"/><circle cx="483.9" cy="380.7" r="2.45" fill="#f24400" stroke="#1a1a1a" stroke-width="0.65"/><circle cx="467.5" cy="383.7" r="2.45" fill="#ff8400" stroke="#1a1a1a" stroke-width="0.65"/><circle cx="474.2" cy="383.7" r="2.45" fill="#f24400" stroke="#1a1a1a" stroke-width="0.65"/><circle cx="477.7" cy="383.7" r="2.45" fill="#f24400" stroke="#1a1a1a" stroke-width="0.65"/><circle cx="481.8" cy="383.7" r="2.45" fill="#f24400" stroke="#1a1a1a" stroke-width="0.65"/><circle cx="452.5" cy="386.8" r="2.45" fill="#f24400" stroke="#1a1a1a" stroke-width="0.65"/><circle cx="462.4" cy="386.8" r="2.45" fill="#f24400" stroke="#1a1a1a" stroke-width="0.65"/><circle cx="465.0" cy="386.8" r="2.45" fill="#f24400" stroke="#1a1a1a" stroke-width="0.65"/><circle cx="459.3" cy="389.0" r="2.45" fill="#ff8400" stroke="#1a1a1a" stroke-width="0.65"/><circle cx="477.2" cy="389.0" r="2.45" fill="#f24400" stroke="#1a1a1a" stroke-width="0.65"/><circle cx="483.4" cy="389.0" r="2.45" fill="#f24400" stroke="#1a1a1a" stroke-width="0.65"/><circle cx="460.7" cy="362.3" r="2.45" fill="#0820b8" stroke="#1a1a1a" stroke-width="0.65"/><circle cx="457.0" cy="383.4" r="2.45" fill="#18b094" stroke="#1a1a1a" stroke-width="0.65"/><circle cx="472.6" cy="341.1" r="2.45" fill="#ff8400" stroke="#1a1a1a" stroke-width="0.65"/><circle cx="479.7" cy="341.1" r="2.45" fill="#c8f000" stroke="#1a1a1a" stroke-width="0.65"/><circle cx="477.2" cy="344.4" r="2.45" fill="#f24400" stroke="#1a1a1a" stroke-width="0.65"/><circle cx="487.4" cy="344.2" r="2.45" fill="#ff8400" stroke="#1a1a1a" stroke-width="0.65"/><circle cx="490.9" cy="344.2" r="2.45" fill="#ff8400" stroke="#1a1a1a" stroke-width="0.65"/><circle cx="471.5" cy="347.5" r="2.45" fill="#f24400" stroke="#1a1a1a" stroke-width="0.65"/><circle cx="476.3" cy="347.5" r="2.45" fill="#f24400" stroke="#1a1a1a" stroke-width="0.65"/><circle cx="483.3" cy="347.3" r="2.45" fill="#ff8400" stroke="#1a1a1a" stroke-width="0.65"/><circle cx="492.7" cy="347.5" r="2.45" fill="#f24400" stroke="#1a1a1a" stroke-width="0.65"/><circle cx="479.7" cy="350.3" r="2.45" fill="#ff8400" stroke="#1a1a1a" stroke-width="0.65"/><circle cx="485.8" cy="350.3" r="2.45" fill="#ff8400" stroke="#1a1a1a" stroke-width="0.65"/><circle cx="471.5" cy="353.4" r="2.45" fill="#c8f000" stroke="#1a1a1a" stroke-width="0.65"/><circle cx="476.1" cy="353.4" r="2.45" fill="#f24400" stroke="#1a1a1a" stroke-width="0.65"/><circle cx="482.5" cy="353.4" r="2.45" fill="#ff8400" stroke="#1a1a1a" stroke-width="0.65"/><circle cx="488.9" cy="353.4" r="2.45" fill="#f24400" stroke="#1a1a1a" stroke-width="0.65"/><circle cx="473.1" cy="356.5" r="2.45" fill="#f24400" stroke="#1a1a1a" stroke-width="0.65"/><circle cx="479.2" cy="356.5" r="2.45" fill="#ff8400" stroke="#1a1a1a" stroke-width="0.65"/><circle cx="483.3" cy="356.5" r="2.45" fill="#ff8400" stroke="#1a1a1a" stroke-width="0.65"/><circle cx="473.1" cy="359.5" r="2.45" fill="#f24400" stroke="#1a1a1a" stroke-width="0.65"/><circle cx="484.8" cy="359.5" r="2.45" fill="#ff8400" stroke="#1a1a1a" stroke-width="0.65"/><circle cx="490.4" cy="359.3" r="2.45" fill="#f24400" stroke="#1a1a1a" stroke-width="0.65"/><circle cx="478.7" cy="362.4" r="2.45" fill="#f24400" stroke="#1a1a1a" stroke-width="0.65"/><circle cx="482.3" cy="362.4" r="2.45" fill="#f24400" stroke="#1a1a1a" stroke-width="0.65"/><circle cx="488.9" cy="362.4" r="2.45" fill="#ff8400" stroke="#1a1a1a" stroke-width="0.65"/><circle cx="472.0" cy="365.5" r="2.45" fill="#f24400" stroke="#1a1a1a" stroke-width="0.65"/><circle cx="486.3" cy="365.5" r="2.45" fill="#f24400" stroke="#1a1a1a" stroke-width="0.65"/><circle cx="500.1" cy="365.5" r="2.45" fill="#f24400" stroke="#1a1a1a" stroke-width="0.65"/><circle cx="480.2" cy="368.2" r="2.45" fill="#ff8400" stroke="#1a1a1a" stroke-width="0.65"/><circle cx="487.9" cy="368.5" r="2.45" fill="#f24400" stroke="#1a1a1a" stroke-width="0.65"/><circle cx="497.8" cy="368.5" r="2.45" fill="#f24400" stroke="#1a1a1a" stroke-width="0.65"/><circle cx="470.5" cy="368.5" r="2.45" fill="#f24400" stroke="#1a1a1a" stroke-width="0.65"/><circle cx="477.2" cy="371.3" r="2.45" fill="#f24400" stroke="#1a1a1a" stroke-width="0.65"/><circle cx="483.8" cy="371.3" r="2.45" fill="#f24400" stroke="#1a1a1a" stroke-width="0.65"/><circle cx="474.6" cy="374.3" r="2.45" fill="#ff8400" stroke="#1a1a1a" stroke-width="0.65"/><circle cx="477.7" cy="374.3" r="2.45" fill="#f24400" stroke="#1a1a1a" stroke-width="0.65"/><circle cx="499.1" cy="374.3" r="2.45" fill="#f24400" stroke="#1a1a1a" stroke-width="0.65"/><circle cx="474.6" cy="377.4" r="2.45" fill="#ff8400" stroke="#1a1a1a" stroke-width="0.65"/><circle cx="485.3" cy="377.1" r="2.45" fill="#f24400" stroke="#1a1a1a" stroke-width="0.65"/><circle cx="480.7" cy="380.0" r="2.45" fill="#f24400" stroke="#1a1a1a" stroke-width="0.65"/><circle cx="484.3" cy="380.0" r="2.45" fill="#f24400" stroke="#1a1a1a" stroke-width="0.65"/><circle cx="474.3" cy="383.0" r="2.45" fill="#f24400" stroke="#1a1a1a" stroke-width="0.65"/><circle cx="481.0" cy="383.0" r="2.45" fill="#f24400" stroke="#1a1a1a" stroke-width="0.65"/><circle cx="492.0" cy="383.0" r="2.45" fill="#f24400" stroke="#1a1a1a" stroke-width="0.65"/><circle cx="479.6" cy="383.6" r="2.45" fill="#f24400" stroke="#1a1a1a" stroke-width="0.65"/><circle cx="482.0" cy="383.6" r="2.45" fill="#f24400" stroke="#1a1a1a" stroke-width="0.65"/><circle cx="484.5" cy="383.6" r="2.45" fill="#f24400" stroke="#1a1a1a" stroke-width="0.65"/><circle cx="491.7" cy="383.6" r="2.45" fill="#f24400" stroke="#1a1a1a" stroke-width="0.65"/><circle cx="452.3" cy="386.6" r="2.45" fill="#f24400" stroke="#1a1a1a" stroke-width="0.65"/><circle cx="459.5" cy="389.6" r="2.45" fill="#ff8400" stroke="#1a1a1a" stroke-width="0.65"/><circle cx="463.4" cy="389.6" r="2.45" fill="#f24400" stroke="#1a1a1a" stroke-width="0.65"/><circle cx="464.8" cy="386.6" r="2.45" fill="#f24400" stroke="#1a1a1a" stroke-width="0.65"/><circle cx="476.6" cy="389.6" r="2.45" fill="#f24400" stroke="#1a1a1a" stroke-width="0.65"/><circle cx="478.4" cy="389.6" r="2.45" fill="#ff8400" stroke="#1a1a1a" stroke-width="0.65"/><circle cx="486.0" cy="389.6" r="2.45" fill="#ff8400" stroke="#1a1a1a" stroke-width="0.65"/><circle cx="454.0" cy="392.7" r="2.45" fill="#f24400" stroke="#1a1a1a" stroke-width="0.65"/><circle cx="464.8" cy="392.7" r="2.45" fill="#f24400" stroke="#1a1a1a" stroke-width="0.65"/><circle cx="473.6" cy="398.7" r="2.45" fill="#f24400" stroke="#1a1a1a" stroke-width="0.65"/><circle cx="475.7" cy="398.7" r="2.45" fill="#f24400" stroke="#1a1a1a" stroke-width="0.65"/><circle cx="459.8" cy="401.7" r="2.45" fill="#f24400" stroke="#1a1a1a" stroke-width="0.65"/><circle cx="471.2" cy="401.7" r="2.45" fill="#f24400" stroke="#1a1a1a" stroke-width="0.65"/><circle cx="481.4" cy="407.7" r="2.45" fill="#f24400" stroke="#1a1a1a" stroke-width="0.65"/><circle cx="478.4" cy="410.7" r="2.45" fill="#f24400" stroke="#1a1a1a" stroke-width="0.65"/><circle cx="493.5" cy="416.7" r="2.45" fill="#f24400" stroke="#1a1a1a" stroke-width="0.65"/><circle cx="486.9" cy="419.8" r="2.45" fill="#90e840" stroke="#1a1a1a" stroke-width="0.65"/><circle cx="498.3" cy="419.8" r="2.45" fill="#f24400" stroke="#1a1a1a" stroke-width="0.65"/><circle cx="488.4" cy="428.8" r="2.45" fill="#f24400" stroke="#1a1a1a" stroke-width="0.65"/><circle cx="444.9" cy="441.0" r="2.45" fill="#ff8400" stroke="#1a1a1a" stroke-width="0.65"/><circle cx="483.1" cy="441.0" r="2.45" fill="#f24400" stroke="#1a1a1a" stroke-width="0.65"/><circle cx="480.4" cy="458.9" r="2.45" fill="#f24400" stroke="#1a1a1a" stroke-width="0.65"/><circle cx="502.7" cy="392.7" r="2.45" fill="#f24400" stroke="#1a1a1a" stroke-width="0.65"/><circle cx="510.4" cy="395.5" r="2.45" fill="#f24400" stroke="#1a1a1a" stroke-width="0.65"/><circle cx="485.4" cy="377.2" r="2.45" fill="#f24400" stroke="#1a1a1a" stroke-width="0.65"/><circle cx="484.2" cy="380.2" r="2.45" fill="#f24400" stroke="#1a1a1a" stroke-width="0.65"/><circle cx="481.2" cy="383.3" r="2.45" fill="#f24400" stroke="#1a1a1a" stroke-width="0.65"/><circle cx="415.7" cy="323.1" r="2.45" fill="#c8f000" stroke="#1a1a1a" stroke-width="0.65"/><rect x="394.40" y="229.30" width="145.70" height="241.60" fill="none" stroke="#222" stroke-width="1.2"/><text x="406.48" y="483.90" font-size="8.3" text-anchor="middle" font-family='"Liberation Sans", sans-serif' fill="#1a1a1a" >−2</text><text x="436.68" y="483.90" font-size="8.3" text-anchor="middle" font-family='"Liberation Sans", sans-serif' fill="#1a1a1a" >−1</text><text x="466.88" y="483.90" font-size="8.3" text-anchor="middle" font-family='"Liberation Sans", sans-serif' fill="#1a1a1a" >0</text><text x="497.08" y="483.90" font-size="8.3" text-anchor="middle" font-family='"Liberation Sans", sans-serif' fill="#1a1a1a" >1</text><text x="527.28" y="483.90" font-size="8.3" text-anchor="middle" font-family='"Liberation Sans", sans-serif' fill="#1a1a1a" >2</text><text x="385.70" y="232.30" font-size="8.3" text-anchor="middle" font-family='"Liberation Sans", sans-serif' fill="#1a1a1a" >1</text><text x="385.70" y="262.50" font-size="8.3" text-anchor="middle" font-family='"Liberation Sans", sans-serif' fill="#1a1a1a" >2</text><text x="385.70" y="292.70" font-size="8.3" text-anchor="middle" font-family='"Liberation Sans", sans-serif' fill="#1a1a1a" >3</text><text x="385.70" y="322.90" font-size="8.3" text-anchor="middle" font-family='"Liberation Sans", sans-serif' fill="#1a1a1a" >4</text><text x="385.70" y="353.10" font-size="8.3" text-anchor="middle" font-family='"Liberation Sans", sans-serif' fill="#1a1a1a" >5</text><text x="385.70" y="383.30" font-size="8.3" text-anchor="middle" font-family='"Liberation Sans", sans-serif' fill="#1a1a1a" >6</text><text x="385.70" y="413.50" font-size="8.3" text-anchor="middle" font-family='"Liberation Sans", sans-serif' fill="#1a1a1a" >7</text><text x="385.70" y="443.70" font-size="8.3" text-anchor="middle" font-family='"Liberation Sans", sans-serif' fill="#1a1a1a" >8</text><text x="385.70" y="473.90" font-size="8.3" text-anchor="middle" font-family='"Liberation Sans", sans-serif' fill="#1a1a1a" >9</text><text x="467.25" y="495.10" font-size="10.5" text-anchor="middle" font-family='"Liberation Sans", sans-serif' fill="#1a1a1a" >AA′ [km]</text><text x="0" y="0" font-size="10" text-anchor="middle" font-family='"Liberation Sans", sans-serif' fill="#1a1a1a" transform="translate(378.9,350.7) rotate(-90)">depth [km]</text><rect x="590.40" y="229.30" width="91.10" height="241.60" fill="#fff" stroke="none" stroke-width="0"/><line x1="605.50" y1="225.80" x2="605.50" y2="474.40" stroke="#6a6a6a" stroke-width="1.0"/><line x1="635.70" y1="225.80" x2="635.70" y2="474.40" stroke="#6a6a6a" stroke-width="1.0"/><line x1="665.90" y1="225.80" x2="665.90" y2="474.40" stroke="#6a6a6a" stroke-width="1.0"/><line x1="586.90" y1="259.50" x2="685.00" y2="259.50" stroke="#6a6a6a" stroke-width="1.0"/><line x1="586.90" y1="319.90" x2="685.00" y2="319.90" stroke="#6a6a6a" stroke-width="1.0"/><line x1="586.90" y1="380.30" x2="685.00" y2="380.30" stroke="#6a6a6a" stroke-width="1.0"/><line x1="586.90" y1="440.70" x2="685.00" y2="440.70" stroke="#6a6a6a" stroke-width="1.0"/><line x1="605.50" y1="225.80" x2="605.50" y2="229.30" stroke="#444" stroke-width="0.8"/><line x1="605.50" y1="470.90" x2="605.50" y2="474.40" stroke="#444" stroke-width="0.8"/><line x1="635.70" y1="225.80" x2="635.70" y2="229.30" stroke="#444" stroke-width="0.8"/><line x1="635.70" y1="470.90" x2="635.70" y2="474.40" stroke="#444" stroke-width="0.8"/><line x1="665.90" y1="225.80" x2="665.90" y2="229.30" stroke="#444" stroke-width="0.8"/><line x1="665.90" y1="470.90" x2="665.90" y2="474.40" stroke="#444" stroke-width="0.8"/><line x1="586.90" y1="229.30" x2="590.40" y2="229.30" stroke="#444" stroke-width="0.8"/><line x1="681.50" y1="229.30" x2="685.00" y2="229.30" stroke="#444" stroke-width="0.8"/><line x1="586.90" y1="259.50" x2="590.40" y2="259.50" stroke="#444" stroke-width="0.8"/><line x1="681.50" y1="259.50" x2="685.00" y2="259.50" stroke="#444" stroke-width="0.8"/><line x1="586.90" y1="289.70" x2="590.40" y2="289.70" stroke="#444" stroke-width="0.8"/><line x1="681.50" y1="289.70" x2="685.00" y2="289.70" stroke="#444" stroke-width="0.8"/><line x1="586.90" y1="319.90" x2="590.40" y2="319.90" stroke="#444" stroke-width="0.8"/><line x1="681.50" y1="319.90" x2="685.00" y2="319.90" stroke="#444" stroke-width="0.8"/><line x1="586.90" y1="350.10" x2="590.40" y2="350.10" stroke="#444" stroke-width="0.8"/><line x1="681.50" y1="350.10" x2="685.00" y2="350.10" stroke="#444" stroke-width="0.8"/><line x1="586.90" y1="380.30" x2="590.40" y2="380.30" stroke="#444" stroke-width="0.8"/><line x1="681.50" y1="380.30" x2="685.00" y2="380.30" stroke="#444" stroke-width="0.8"/><line x1="586.90" y1="410.50" x2="590.40" y2="410.50" stroke="#444" stroke-width="0.8"/><line x1="681.50" y1="410.50" x2="685.00" y2="410.50" stroke="#444" stroke-width="0.8"/><line x1="586.90" y1="440.70" x2="590.40" y2="440.70" stroke="#444" stroke-width="0.8"/><line x1="681.50" y1="440.70" x2="685.00" y2="440.70" stroke="#444" stroke-width="0.8"/><line x1="586.90" y1="470.90" x2="590.40" y2="470.90" stroke="#444" stroke-width="0.8"/><line x1="681.50" y1="470.90" x2="685.00" y2="470.90" stroke="#444" stroke-width="0.8"/><circle cx="621.8" cy="265.5" r="2.45" fill="#f8c400" stroke="#1a1a1a" stroke-width="0.65"/><circle cx="634.7" cy="265.5" r="2.45" fill="#c8f000" stroke="#1a1a1a" stroke-width="0.65"/><circle cx="623.5" cy="271.4" r="2.45" fill="#c8f000" stroke="#1a1a1a" stroke-width="0.65"/><circle cx="632.7" cy="274.7" r="2.45" fill="#c8f000" stroke="#1a1a1a" stroke-width="0.65"/><circle cx="662.9" cy="274.7" r="2.45" fill="#c8f000" stroke="#1a1a1a" stroke-width="0.65"/><circle cx="622.9" cy="277.6" r="2.45" fill="#c8f000" stroke="#1a1a1a" stroke-width="0.65"/><circle cx="611.4" cy="283.6" r="2.45" fill="#f8c400" stroke="#1a1a1a" stroke-width="0.65"/><circle cx="679.1" cy="280.6" r="2.45" fill="#c8f000" stroke="#1a1a1a" stroke-width="0.65"/><circle cx="627.5" cy="286.5" r="2.45" fill="#f8c400" stroke="#1a1a1a" stroke-width="0.65"/><circle cx="649.1" cy="283.6" r="2.45" fill="#c8f000" stroke="#1a1a1a" stroke-width="0.65"/><circle cx="621.8" cy="289.8" r="2.45" fill="#f24400" stroke="#1a1a1a" stroke-width="0.65"/><circle cx="625.7" cy="289.8" r="2.45" fill="#f0dc00" stroke="#1a1a1a" stroke-width="0.65"/><circle cx="633.4" cy="289.8" r="2.45" fill="#f0dc00" stroke="#1a1a1a" stroke-width="0.65"/><circle cx="644.1" cy="290.2" r="2.45" fill="#f24400" stroke="#1a1a1a" stroke-width="0.65"/><circle cx="642.4" cy="287.2" r="2.45" fill="#f8c400" stroke="#1a1a1a" stroke-width="0.65"/><circle cx="644.1" cy="286.5" r="2.45" fill="#40d862" stroke="#1a1a1a" stroke-width="0.65"/><circle cx="655.7" cy="289.8" r="2.45" fill="#c8f000" stroke="#1a1a1a" stroke-width="0.65"/><circle cx="636.6" cy="293.1" r="2.45" fill="#40d862" stroke="#1a1a1a" stroke-width="0.65"/><circle cx="652.4" cy="293.1" r="2.45" fill="#f0dc00" stroke="#1a1a1a" stroke-width="0.65"/><circle cx="662.3" cy="293.1" r="2.45" fill="#f8c400" stroke="#1a1a1a" stroke-width="0.65"/><circle cx="668.2" cy="305.0" r="2.45" fill="#c8f000" stroke="#1a1a1a" stroke-width="0.65"/><circle cx="666.2" cy="308.2" r="2.45" fill="#c8f000" stroke="#1a1a1a" stroke-width="0.65"/><circle cx="671.7" cy="308.2" r="2.45" fill="#ff8400" stroke="#1a1a1a" stroke-width="0.65"/><circle cx="673.8" cy="314.0" r="2.45" fill="#f0dc00" stroke="#1a1a1a" stroke-width="0.65"/><circle cx="599.5" cy="320.1" r="2.45" fill="#f24400" stroke="#1a1a1a" stroke-width="0.65"/><circle cx="662.7" cy="323.1" r="2.45" fill="#c8f000" stroke="#1a1a1a" stroke-width="0.65"/><circle cx="669.8" cy="335.0" r="2.45" fill="#c8f000" stroke="#1a1a1a" stroke-width="0.65"/><circle cx="628.0" cy="350.5" r="2.45" fill="#40d862" stroke="#1a1a1a" stroke-width="0.65"/><circle cx="643.2" cy="350.5" r="2.45" fill="#c8f000" stroke="#1a1a1a" stroke-width="0.65"/><circle cx="624.0" cy="350.5" r="2.45" fill="#ff8400" stroke="#1a1a1a" stroke-width="0.65"/><circle cx="618.1" cy="353.4" r="2.45" fill="#ff8400" stroke="#1a1a1a" stroke-width="0.65"/><circle cx="626.3" cy="353.4" r="2.45" fill="#18b094" stroke="#1a1a1a" stroke-width="0.65"/><circle cx="640.6" cy="353.1" r="2.45" fill="#10a0b0" stroke="#1a1a1a" stroke-width="0.65"/><circle cx="669.8" cy="353.4" r="2.45" fill="#ff8400" stroke="#1a1a1a" stroke-width="0.65"/><circle cx="632.0" cy="353.4" r="2.45" fill="#ff8400" stroke="#1a1a1a" stroke-width="0.65"/><circle cx="613.1" cy="356.4" r="2.45" fill="#f24400" stroke="#1a1a1a" stroke-width="0.65"/><circle cx="622.2" cy="356.4" r="2.45" fill="#ff8400" stroke="#1a1a1a" stroke-width="0.65"/><circle cx="629.2" cy="356.4" r="2.45" fill="#ff8400" stroke="#1a1a1a" stroke-width="0.65"/><circle cx="636.2" cy="356.4" r="2.45" fill="#c8f000" stroke="#1a1a1a" stroke-width="0.65"/><circle cx="643.2" cy="356.4" r="2.45" fill="#c8f000" stroke="#1a1a1a" stroke-width="0.65"/><circle cx="648.5" cy="356.4" r="2.45" fill="#ff8400" stroke="#1a1a1a" stroke-width="0.65"/><circle cx="652.0" cy="356.4" r="2.45" fill="#ff8400" stroke="#1a1a1a" stroke-width="0.65"/><circle cx="619.9" cy="359.3" r="2.45" fill="#f24400" stroke="#1a1a1a" stroke-width="0.65"/><circle cx="628.0" cy="359.3" r="2.45" fill="#ff8400" stroke="#1a1a1a" stroke-width="0.65"/><circle cx="639.5" cy="359.3" r="2.45" fill="#c8f000" stroke="#1a1a1a" stroke-width="0.65"/><circle cx="633.0" cy="359.3" r="2.45" fill="#ff8400" stroke="#1a1a1a" stroke-width="0.65"/><circle cx="624.0" cy="362.2" r="2.45" fill="#40d862" stroke="#1a1a1a" stroke-width="0.65"/><circle cx="627.4" cy="362.2" r="2.45" fill="#40d862" stroke="#1a1a1a" stroke-width="0.65"/><circle cx="633.3" cy="362.2" r="2.45" fill="#ff8400" stroke="#1a1a1a" stroke-width="0.65"/><circle cx="637.4" cy="362.2" r="2.45" fill="#0820b8" stroke="#1a1a1a" stroke-width="0.65"/><circle cx="641.1" cy="362.2" r="2.45" fill="#40d862" stroke="#1a1a1a" stroke-width="0.65"/><circle cx="652.3" cy="362.2" r="2.45" fill="#f24400" stroke="#1a1a1a" stroke-width="0.65"/><circle cx="619.3" cy="365.1" r="2.45" fill="#ff8400" stroke="#1a1a1a" stroke-width="0.65"/><circle cx="623.4" cy="365.1" r="2.45" fill="#ff8400" stroke="#1a1a1a" stroke-width="0.65"/><circle cx="627.4" cy="365.1" r="2.45" fill="#ff8400" stroke="#1a1a1a" stroke-width="0.65"/><circle cx="631.5" cy="365.1" r="2.45" fill="#ff8400" stroke="#1a1a1a" stroke-width="0.65"/><circle cx="635.3" cy="365.1" r="2.45" fill="#ff8400" stroke="#1a1a1a" stroke-width="0.65"/><circle cx="644.4" cy="365.1" r="2.45" fill="#ff8400" stroke="#1a1a1a" stroke-width="0.65"/><circle cx="659.0" cy="365.1" r="2.45" fill="#f24400" stroke="#1a1a1a" stroke-width="0.65"/><circle cx="625.1" cy="368.0" r="2.45" fill="#ff8400" stroke="#1a1a1a" stroke-width="0.65"/><circle cx="638.0" cy="368.0" r="2.45" fill="#40d862" stroke="#1a1a1a" stroke-width="0.65"/><circle cx="642.6" cy="368.0" r="2.45" fill="#40d862" stroke="#1a1a1a" stroke-width="0.65"/><circle cx="647.9" cy="368.0" r="2.45" fill="#ff8400" stroke="#1a1a1a" stroke-width="0.65"/><circle cx="624.0" cy="371.3" r="2.45" fill="#c8f000" stroke="#1a1a1a" stroke-width="0.65"/><circle cx="631.0" cy="371.3" r="2.45" fill="#f24400" stroke="#1a1a1a" stroke-width="0.65"/><circle cx="636.0" cy="371.3" r="2.45" fill="#18b094" stroke="#1a1a1a" stroke-width="0.65"/><circle cx="628.0" cy="374.5" r="2.45" fill="#ff8400" stroke="#1a1a1a" stroke-width="0.65"/><circle cx="632.1" cy="374.5" r="2.45" fill="#ff8400" stroke="#1a1a1a" stroke-width="0.65"/><circle cx="638.5" cy="374.5" r="2.45" fill="#ff8400" stroke="#1a1a1a" stroke-width="0.65"/><circle cx="622.8" cy="377.4" r="2.45" fill="#f24400" stroke="#1a1a1a" stroke-width="0.65"/><circle cx="626.3" cy="377.4" r="2.45" fill="#ff8400" stroke="#1a1a1a" stroke-width="0.65"/><circle cx="631.5" cy="377.4" r="2.45" fill="#ff8400" stroke="#1a1a1a" stroke-width="0.65"/><circle cx="639.7" cy="377.4" r="2.45" fill="#ff8400" stroke="#1a1a1a" stroke-width="0.65"/><circle cx="643.8" cy="377.4" r="2.45" fill="#f24400" stroke="#1a1a1a" stroke-width="0.65"/><circle cx="647.3" cy="377.4" r="2.45" fill="#c8f000" stroke="#1a1a1a" stroke-width="0.65"/><circle cx="660.1" cy="377.4" r="2.45" fill="#f0dc00" stroke="#1a1a1a" stroke-width="0.65"/><circle cx="613.4" cy="380.6" r="2.45" fill="#f24400" stroke="#1a1a1a" stroke-width="0.65"/><circle cx="615.2" cy="380.6" r="2.45" fill="#f24400" stroke="#1a1a1a" stroke-width="0.65"/><circle cx="623.9" cy="380.6" r="2.45" fill="#f24400" stroke="#1a1a1a" stroke-width="0.65"/><circle cx="628.6" cy="380.6" r="2.45" fill="#f24400" stroke="#1a1a1a" stroke-width="0.65"/><circle cx="635.0" cy="380.6" r="2.45" fill="#f24400" stroke="#1a1a1a" stroke-width="0.65"/><circle cx="652.0" cy="380.6" r="2.45" fill="#f24400" stroke="#1a1a1a" stroke-width="0.65"/><circle cx="656.1" cy="380.6" r="2.45" fill="#ff8400" stroke="#1a1a1a" stroke-width="0.65"/><circle cx="624.5" cy="383.8" r="2.45" fill="#ff8400" stroke="#1a1a1a" stroke-width="0.65"/><circle cx="639.7" cy="383.4" r="2.45" fill="#10a0b0" stroke="#1a1a1a" stroke-width="0.65"/><circle cx="643.4" cy="383.8" r="2.45" fill="#ff8400" stroke="#1a1a1a" stroke-width="0.65"/><circle cx="619.9" cy="386.7" r="2.45" fill="#f24400" stroke="#1a1a1a" stroke-width="0.65"/><circle cx="625.1" cy="388.5" r="2.45" fill="#ff8400" stroke="#1a1a1a" stroke-width="0.65"/><circle cx="629.2" cy="388.5" r="2.45" fill="#ff8400" stroke="#1a1a1a" stroke-width="0.65"/><circle cx="633.9" cy="387.9" r="2.45" fill="#f24400" stroke="#1a1a1a" stroke-width="0.65"/><circle cx="650.2" cy="388.5" r="2.45" fill="#f24400" stroke="#1a1a1a" stroke-width="0.65"/><circle cx="619.8" cy="386.9" r="2.45" fill="#f24400" stroke="#1a1a1a" stroke-width="0.65"/><circle cx="635.2" cy="386.9" r="2.45" fill="#f24400" stroke="#1a1a1a" stroke-width="0.65"/><circle cx="624.7" cy="389.4" r="2.45" fill="#ff8400" stroke="#1a1a1a" stroke-width="0.65"/><circle cx="629.4" cy="389.4" r="2.45" fill="#ff8400" stroke="#1a1a1a" stroke-width="0.65"/><circle cx="633.4" cy="389.4" r="2.45" fill="#ff8400" stroke="#1a1a1a" stroke-width="0.65"/><circle cx="650.5" cy="389.4" r="2.45" fill="#f24400" stroke="#1a1a1a" stroke-width="0.65"/><circle cx="624.0" cy="392.7" r="2.45" fill="#f24400" stroke="#1a1a1a" stroke-width="0.65"/><circle cx="627.6" cy="392.7" r="2.45" fill="#f24400" stroke="#1a1a1a" stroke-width="0.65"/><circle cx="642.4" cy="392.7" r="2.45" fill="#f24400" stroke="#1a1a1a" stroke-width="0.65"/><circle cx="630.7" cy="395.9" r="2.45" fill="#f24400" stroke="#1a1a1a" stroke-width="0.65"/><circle cx="634.8" cy="398.6" r="2.45" fill="#f24400" stroke="#1a1a1a" stroke-width="0.65"/><circle cx="646.4" cy="398.6" r="2.45" fill="#f24400" stroke="#1a1a1a" stroke-width="0.65"/><circle cx="608.6" cy="401.7" r="2.45" fill="#f24400" stroke="#1a1a1a" stroke-width="0.65"/><circle cx="640.6" cy="401.7" r="2.45" fill="#f24400" stroke="#1a1a1a" stroke-width="0.65"/><circle cx="637.4" cy="407.7" r="2.45" fill="#f24400" stroke="#1a1a1a" stroke-width="0.65"/><circle cx="597.2" cy="410.7" r="2.45" fill="#f24400" stroke="#1a1a1a" stroke-width="0.65"/><circle cx="622.2" cy="419.8" r="2.45" fill="#f24400" stroke="#1a1a1a" stroke-width="0.65"/><circle cx="646.9" cy="419.8" r="2.45" fill="#90e840" stroke="#1a1a1a" stroke-width="0.65"/><circle cx="652.7" cy="417.0" r="2.45" fill="#f24400" stroke="#1a1a1a" stroke-width="0.65"/><circle cx="658.3" cy="428.8" r="2.45" fill="#f24400" stroke="#1a1a1a" stroke-width="0.65"/><circle cx="617.1" cy="441.1" r="2.45" fill="#ff8400" stroke="#1a1a1a" stroke-width="0.65"/><circle cx="649.1" cy="441.1" r="2.45" fill="#f24400" stroke="#1a1a1a" stroke-width="0.65"/><circle cx="647.8" cy="459.2" r="2.45" fill="#f24400" stroke="#1a1a1a" stroke-width="0.65"/><circle cx="615.6" cy="296.1" r="2.45" fill="#c8f000" stroke="#1a1a1a" stroke-width="0.65"/><circle cx="629.9" cy="296.1" r="2.45" fill="#f0dc00" stroke="#1a1a1a" stroke-width="0.65"/><circle cx="636.1" cy="295.7" r="2.45" fill="#f8c400" stroke="#1a1a1a" stroke-width="0.65"/><circle cx="639.4" cy="296.1" r="2.45" fill="#f8c400" stroke="#1a1a1a" stroke-width="0.65"/><circle cx="655.1" cy="296.1" r="2.45" fill="#f0dc00" stroke="#1a1a1a" stroke-width="0.65"/><circle cx="634.3" cy="299.0" r="2.45" fill="#90e840" stroke="#1a1a1a" stroke-width="0.65"/><circle cx="637.5" cy="299.0" r="2.45" fill="#f0dc00" stroke="#1a1a1a" stroke-width="0.65"/><circle cx="640.1" cy="298.6" r="2.45" fill="#f8c400" stroke="#1a1a1a" stroke-width="0.65"/><circle cx="645.6" cy="298.6" r="2.45" fill="#f0dc00" stroke="#1a1a1a" stroke-width="0.65"/><circle cx="651.3" cy="299.0" r="2.45" fill="#c8f000" stroke="#1a1a1a" stroke-width="0.65"/><circle cx="627.3" cy="301.6" r="2.45" fill="#f8c400" stroke="#1a1a1a" stroke-width="0.65"/><circle cx="632.4" cy="301.9" r="2.45" fill="#f0dc00" stroke="#1a1a1a" stroke-width="0.65"/><circle cx="635.4" cy="302.3" r="2.45" fill="#f0dc00" stroke="#1a1a1a" stroke-width="0.65"/><circle cx="641.9" cy="301.9" r="2.45" fill="#90e840" stroke="#1a1a1a" stroke-width="0.65"/><circle cx="647.8" cy="301.9" r="2.45" fill="#f8c400" stroke="#1a1a1a" stroke-width="0.65"/><circle cx="655.6" cy="301.9" r="2.45" fill="#f0dc00" stroke="#1a1a1a" stroke-width="0.65"/><circle cx="623.5" cy="304.5" r="2.45" fill="#f8c400" stroke="#1a1a1a" stroke-width="0.65"/><circle cx="627.7" cy="304.9" r="2.45" fill="#f0dc00" stroke="#1a1a1a" stroke-width="0.65"/><circle cx="635.0" cy="305.2" r="2.45" fill="#f0dc00" stroke="#1a1a1a" stroke-width="0.65"/><circle cx="639.7" cy="305.2" r="2.45" fill="#f0dc00" stroke="#1a1a1a" stroke-width="0.65"/><circle cx="645.6" cy="304.9" r="2.45" fill="#f0dc00" stroke="#1a1a1a" stroke-width="0.65"/><circle cx="650.0" cy="304.5" r="2.45" fill="#f8c400" stroke="#1a1a1a" stroke-width="0.65"/><circle cx="653.2" cy="304.9" r="2.45" fill="#c8f000" stroke="#1a1a1a" stroke-width="0.65"/><circle cx="624.4" cy="308.1" r="2.45" fill="#c8f000" stroke="#1a1a1a" stroke-width="0.65"/><circle cx="633.9" cy="308.1" r="2.45" fill="#f8c400" stroke="#1a1a1a" stroke-width="0.65"/><circle cx="651.4" cy="308.1" r="2.45" fill="#f8c400" stroke="#1a1a1a" stroke-width="0.65"/><circle cx="637.9" cy="311.1" r="2.45" fill="#90e840" stroke="#1a1a1a" stroke-width="0.65"/><circle cx="641.2" cy="310.7" r="2.45" fill="#f8c400" stroke="#1a1a1a" stroke-width="0.65"/><circle cx="644.5" cy="310.7" r="2.45" fill="#f0dc00" stroke="#1a1a1a" stroke-width="0.65"/><circle cx="626.2" cy="314.1" r="2.45" fill="#c8f000" stroke="#1a1a1a" stroke-width="0.65"/><circle cx="629.5" cy="314.1" r="2.45" fill="#f8c400" stroke="#1a1a1a" stroke-width="0.65"/><circle cx="632.4" cy="314.1" r="2.45" fill="#f0dc00" stroke="#1a1a1a" stroke-width="0.65"/><circle cx="640.1" cy="314.3" r="2.45" fill="#f0dc00" stroke="#1a1a1a" stroke-width="0.65"/><circle cx="646.2" cy="314.1" r="2.45" fill="#f0dc00" stroke="#1a1a1a" stroke-width="0.65"/><circle cx="658.4" cy="314.1" r="2.45" fill="#f24400" stroke="#1a1a1a" stroke-width="0.65"/><circle cx="622.6" cy="316.9" r="2.45" fill="#c8f000" stroke="#1a1a1a" stroke-width="0.65"/><circle cx="631.7" cy="316.9" r="2.45" fill="#f8c400" stroke="#1a1a1a" stroke-width="0.65"/><circle cx="636.7" cy="316.9" r="2.45" fill="#c8f000" stroke="#1a1a1a" stroke-width="0.65"/><circle cx="641.9" cy="317.3" r="2.45" fill="#f0dc00" stroke="#1a1a1a" stroke-width="0.65"/><circle cx="644.1" cy="316.9" r="2.45" fill="#f8c400" stroke="#1a1a1a" stroke-width="0.65"/><circle cx="622.2" cy="320.2" r="2.45" fill="#f24400" stroke="#1a1a1a" stroke-width="0.65"/><circle cx="625.5" cy="319.8" r="2.45" fill="#f24400" stroke="#1a1a1a" stroke-width="0.65"/><circle cx="630.2" cy="319.8" r="2.45" fill="#c8f000" stroke="#1a1a1a" stroke-width="0.65"/><circle cx="650.3" cy="319.8" r="2.45" fill="#c8f000" stroke="#1a1a1a" stroke-width="0.65"/><circle cx="625.1" cy="322.9" r="2.45" fill="#c8f000" stroke="#1a1a1a" stroke-width="0.65"/><circle cx="629.2" cy="322.9" r="2.45" fill="#c8f000" stroke="#1a1a1a" stroke-width="0.65"/><circle cx="631.7" cy="322.9" r="2.45" fill="#90e840" stroke="#1a1a1a" stroke-width="0.65"/><circle cx="635.4" cy="322.9" r="2.45" fill="#f0dc00" stroke="#1a1a1a" stroke-width="0.65"/><circle cx="638.6" cy="322.9" r="2.45" fill="#f8c400" stroke="#1a1a1a" stroke-width="0.65"/><circle cx="641.9" cy="322.9" r="2.45" fill="#f8c400" stroke="#1a1a1a" stroke-width="0.65"/><circle cx="644.5" cy="322.9" r="2.45" fill="#f8c400" stroke="#1a1a1a" stroke-width="0.65"/><circle cx="661.3" cy="323.3" r="2.45" fill="#c8f000" stroke="#1a1a1a" stroke-width="0.65"/><circle cx="626.2" cy="326.6" r="2.45" fill="#f8c400" stroke="#1a1a1a" stroke-width="0.65"/><circle cx="629.2" cy="326.6" r="2.45" fill="#f8c400" stroke="#1a1a1a" stroke-width="0.65"/><circle cx="633.9" cy="326.6" r="2.45" fill="#f8c400" stroke="#1a1a1a" stroke-width="0.65"/><circle cx="637.9" cy="326.6" r="2.45" fill="#f0dc00" stroke="#1a1a1a" stroke-width="0.65"/><circle cx="644.1" cy="325.8" r="2.45" fill="#f8c400" stroke="#1a1a1a" stroke-width="0.65"/><circle cx="620.6" cy="329.1" r="2.45" fill="#40d862" stroke="#1a1a1a" stroke-width="0.65"/><circle cx="624.8" cy="329.5" r="2.45" fill="#ff8400" stroke="#1a1a1a" stroke-width="0.65"/><circle cx="628.4" cy="329.5" r="2.45" fill="#f8c400" stroke="#1a1a1a" stroke-width="0.65"/><circle cx="633.2" cy="329.5" r="2.45" fill="#f8c400" stroke="#1a1a1a" stroke-width="0.65"/><circle cx="644.5" cy="329.1" r="2.45" fill="#c8f000" stroke="#1a1a1a" stroke-width="0.65"/><circle cx="650.5" cy="328.8" r="2.45" fill="#f24400" stroke="#1a1a1a" stroke-width="0.65"/><circle cx="629.5" cy="332.4" r="2.45" fill="#f8c400" stroke="#1a1a1a" stroke-width="0.65"/><circle cx="637.9" cy="332.0" r="2.45" fill="#c8f000" stroke="#1a1a1a" stroke-width="0.65"/><circle cx="647.8" cy="332.0" r="2.45" fill="#f24400" stroke="#1a1a1a" stroke-width="0.65"/><circle cx="652.5" cy="331.7" r="2.45" fill="#c8f000" stroke="#1a1a1a" stroke-width="0.65"/><circle cx="624.8" cy="335.3" r="2.45" fill="#f8c400" stroke="#1a1a1a" stroke-width="0.65"/><circle cx="628.1" cy="335.3" r="2.45" fill="#f24400" stroke="#1a1a1a" stroke-width="0.65"/><circle cx="633.5" cy="335.3" r="2.45" fill="#c8f000" stroke="#1a1a1a" stroke-width="0.65"/><circle cx="636.8" cy="335.3" r="2.45" fill="#c8f000" stroke="#1a1a1a" stroke-width="0.65"/><circle cx="639.7" cy="335.3" r="2.45" fill="#f8c400" stroke="#1a1a1a" stroke-width="0.65"/><circle cx="643.0" cy="335.3" r="2.45" fill="#c8f000" stroke="#1a1a1a" stroke-width="0.65"/><circle cx="646.9" cy="335.0" r="2.45" fill="#f8c400" stroke="#1a1a1a" stroke-width="0.65"/><circle cx="650.5" cy="335.3" r="2.45" fill="#c8f000" stroke="#1a1a1a" stroke-width="0.65"/><circle cx="654.0" cy="335.3" r="2.45" fill="#f8c400" stroke="#1a1a1a" stroke-width="0.65"/><circle cx="616.7" cy="338.2" r="2.45" fill="#c8f000" stroke="#1a1a1a" stroke-width="0.65"/><circle cx="620.8" cy="337.9" r="2.45" fill="#f24400" stroke="#1a1a1a" stroke-width="0.65"/><circle cx="631.3" cy="338.2" r="2.45" fill="#f8c400" stroke="#1a1a1a" stroke-width="0.65"/><circle cx="634.6" cy="338.6" r="2.45" fill="#ff8400" stroke="#1a1a1a" stroke-width="0.65"/><circle cx="639.6" cy="338.2" r="2.45" fill="#f0dc00" stroke="#1a1a1a" stroke-width="0.65"/><circle cx="645.6" cy="338.2" r="2.45" fill="#90e840" stroke="#1a1a1a" stroke-width="0.65"/><circle cx="616.0" cy="341.5" r="2.45" fill="#f24400" stroke="#1a1a1a" stroke-width="0.65"/><circle cx="622.6" cy="341.2" r="2.45" fill="#c8f000" stroke="#1a1a1a" stroke-width="0.65"/><circle cx="625.9" cy="341.2" r="2.45" fill="#c8f000" stroke="#1a1a1a" stroke-width="0.65"/><circle cx="629.2" cy="341.2" r="2.45" fill="#c8f000" stroke="#1a1a1a" stroke-width="0.65"/><circle cx="632.4" cy="341.2" r="2.45" fill="#c8f000" stroke="#1a1a1a" stroke-width="0.65"/><circle cx="637.2" cy="341.2" r="2.45" fill="#f24400" stroke="#1a1a1a" stroke-width="0.65"/><circle cx="656.0" cy="341.2" r="2.45" fill="#ff8400" stroke="#1a1a1a" stroke-width="0.65"/><circle cx="624.0" cy="344.5" r="2.45" fill="#f8c400" stroke="#1a1a1a" stroke-width="0.65"/><circle cx="627.7" cy="344.5" r="2.45" fill="#c8f000" stroke="#1a1a1a" stroke-width="0.65"/><circle cx="631.3" cy="344.1" r="2.45" fill="#c8f000" stroke="#1a1a1a" stroke-width="0.65"/><circle cx="634.6" cy="344.1" r="2.45" fill="#90e840" stroke="#1a1a1a" stroke-width="0.65"/><circle cx="640.8" cy="343.7" r="2.45" fill="#f0dc00" stroke="#1a1a1a" stroke-width="0.65"/><circle cx="651.8" cy="344.1" r="2.45" fill="#ff8400" stroke="#1a1a1a" stroke-width="0.65"/><circle cx="621.1" cy="347.0" r="2.45" fill="#ff8400" stroke="#1a1a1a" stroke-width="0.65"/><circle cx="630.2" cy="347.4" r="2.45" fill="#c8f000" stroke="#1a1a1a" stroke-width="0.65"/><circle cx="633.9" cy="347.4" r="2.45" fill="#c8f000" stroke="#1a1a1a" stroke-width="0.65"/><circle cx="639.7" cy="347.4" r="2.45" fill="#c8f000" stroke="#1a1a1a" stroke-width="0.65"/><circle cx="644.1" cy="347.0" r="2.45" fill="#f24400" stroke="#1a1a1a" stroke-width="0.65"/><circle cx="658.7" cy="348.8" r="2.45" fill="#f0dc00" stroke="#1a1a1a" stroke-width="0.65"/><rect x="590.40" y="229.30" width="91.10" height="241.60" fill="none" stroke="#222" stroke-width="1.2"/><text x="605.50" y="483.90" font-size="8.3" text-anchor="middle" font-family='"Liberation Sans", sans-serif' fill="#1a1a1a" >−1</text><text x="635.70" y="483.90" font-size="8.3" text-anchor="middle" font-family='"Liberation Sans", sans-serif' fill="#1a1a1a" >0</text><text x="665.90" y="483.90" font-size="8.3" text-anchor="middle" font-family='"Liberation Sans", sans-serif' fill="#1a1a1a" >1</text><text x="581.50" y="232.30" font-size="8.3" text-anchor="middle" font-family='"Liberation Sans", sans-serif' fill="#1a1a1a" >1</text><text x="581.50" y="262.50" font-size="8.3" text-anchor="middle" font-family='"Liberation Sans", sans-serif' fill="#1a1a1a" >2</text><text x="581.50" y="292.70" font-size="8.3" text-anchor="middle" font-family='"Liberation Sans", sans-serif' fill="#1a1a1a" >3</text><text x="581.50" y="322.90" font-size="8.3" text-anchor="middle" font-family='"Liberation Sans", sans-serif' fill="#1a1a1a" >4</text><text x="581.50" y="353.10" font-size="8.3" text-anchor="middle" font-family='"Liberation Sans", sans-serif' fill="#1a1a1a" >5</text><text x="581.50" y="383.30" font-size="8.3" text-anchor="middle" font-family='"Liberation Sans", sans-serif' fill="#1a1a1a" >6</text><text x="581.50" y="413.50" font-size="8.3" text-anchor="middle" font-family='"Liberation Sans", sans-serif' fill="#1a1a1a" >7</text><text x="581.50" y="443.70" font-size="8.3" text-anchor="middle" font-family='"Liberation Sans", sans-serif' fill="#1a1a1a" >8</text><text x="581.50" y="473.90" font-size="8.3" text-anchor="middle" font-family='"Liberation Sans", sans-serif' fill="#1a1a1a" >9</text><text x="635.95" y="495.10" font-size="10.5" text-anchor="middle" font-family='"Liberation Sans", sans-serif' fill="#1a1a1a" >BB′ [km]</text><text x="0" y="0" font-size="10" text-anchor="middle" font-family='"Liberation Sans", sans-serif' fill="#1a1a1a" transform="translate(575.8,350.7) rotate(-90)">depth [km]</text>
</svg>
</body></html>
